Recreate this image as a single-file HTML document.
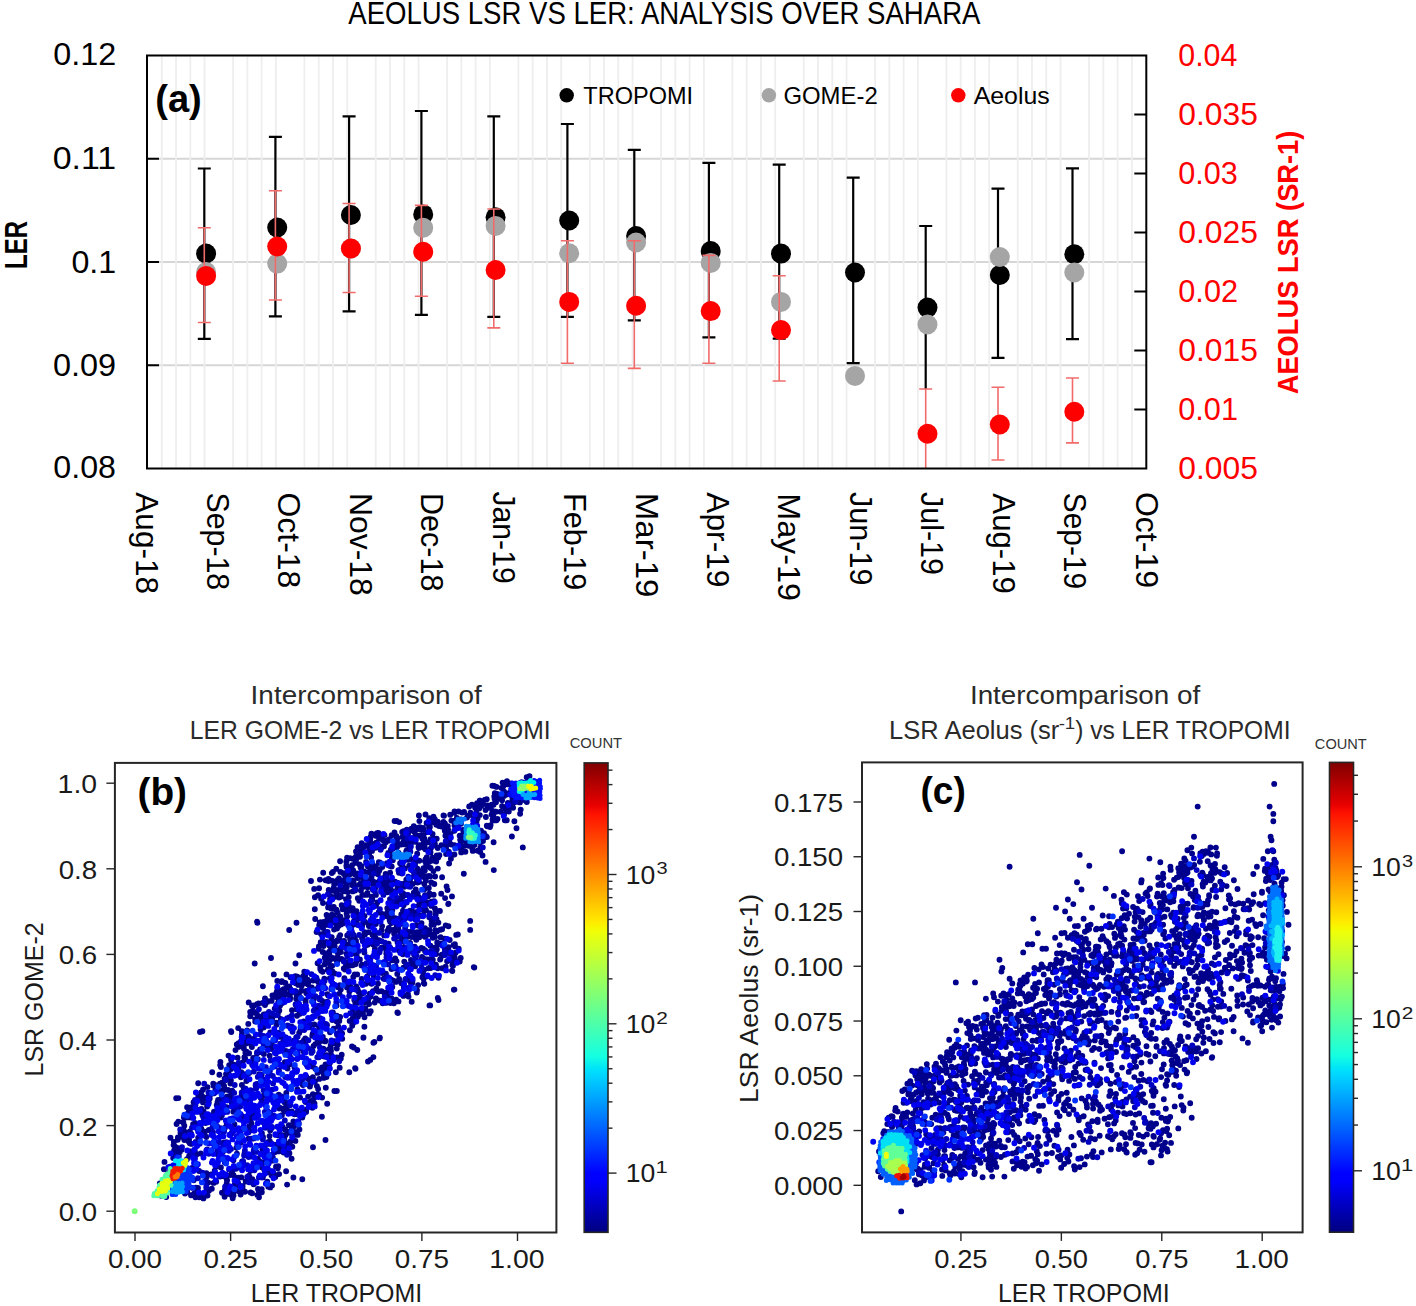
<!DOCTYPE html>
<html><head><meta charset="utf-8"><style>
html,body{margin:0;padding:0;background:#fff;}
svg{display:block;font-family:"Liberation Sans",sans-serif;}
</style></head><body>
<svg width="1416" height="1306" viewBox="0 0 1416 1306" xml:space="preserve" style="white-space:pre">
<defs><linearGradient id="jetg" x1="0" y1="0" x2="0" y2="1"><stop offset="0.000" stop-color="#800000"/><stop offset="0.090" stop-color="#E80000"/><stop offset="0.110" stop-color="#FF1300"/><stop offset="0.340" stop-color="#FFEC00"/><stop offset="0.350" stop-color="#F7F600"/><stop offset="0.360" stop-color="#EFFF08"/><stop offset="0.500" stop-color="#7BFF7B"/><stop offset="0.625" stop-color="#15FFE2"/><stop offset="0.650" stop-color="#00E5F7"/><stop offset="0.660" stop-color="#00DBFF"/><stop offset="0.875" stop-color="#0000FF"/><stop offset="0.890" stop-color="#0000FF"/><stop offset="1.000" stop-color="#000080"/></linearGradient><clipPath id="clipA"><rect x="147.0" y="55.5" width="999.3" height="413.0"/></clipPath></defs>
<rect width="1416" height="1306" fill="#fff"/>
<line x1="147.0" y1="158.75" x2="1146.3" y2="158.75" stroke="#D6D6D6" stroke-width="2"/>
<line x1="147.0" y1="262.00" x2="1146.3" y2="262.00" stroke="#D6D6D6" stroke-width="2"/>
<line x1="147.0" y1="365.25" x2="1146.3" y2="365.25" stroke="#D6D6D6" stroke-width="2"/>
<line x1="161.77" y1="56.5" x2="161.77" y2="467.5" stroke="#EEEEEE" stroke-width="1.8"/>
<line x1="176.03" y1="56.5" x2="176.03" y2="467.5" stroke="#EEEEEE" stroke-width="1.8"/>
<line x1="190.30" y1="56.5" x2="190.30" y2="467.5" stroke="#EEEEEE" stroke-width="1.8"/>
<line x1="204.56" y1="56.5" x2="204.56" y2="467.5" stroke="#EEEEEE" stroke-width="1.8"/>
<line x1="233.10" y1="56.5" x2="233.10" y2="467.5" stroke="#EEEEEE" stroke-width="1.8"/>
<line x1="247.36" y1="56.5" x2="247.36" y2="467.5" stroke="#EEEEEE" stroke-width="1.8"/>
<line x1="261.63" y1="56.5" x2="261.63" y2="467.5" stroke="#EEEEEE" stroke-width="1.8"/>
<line x1="275.89" y1="56.5" x2="275.89" y2="467.5" stroke="#EEEEEE" stroke-width="1.8"/>
<line x1="304.43" y1="56.5" x2="304.43" y2="467.5" stroke="#EEEEEE" stroke-width="1.8"/>
<line x1="318.69" y1="56.5" x2="318.69" y2="467.5" stroke="#EEEEEE" stroke-width="1.8"/>
<line x1="332.96" y1="56.5" x2="332.96" y2="467.5" stroke="#EEEEEE" stroke-width="1.8"/>
<line x1="347.22" y1="56.5" x2="347.22" y2="467.5" stroke="#EEEEEE" stroke-width="1.8"/>
<line x1="375.76" y1="56.5" x2="375.76" y2="467.5" stroke="#EEEEEE" stroke-width="1.8"/>
<line x1="390.02" y1="56.5" x2="390.02" y2="467.5" stroke="#EEEEEE" stroke-width="1.8"/>
<line x1="404.29" y1="56.5" x2="404.29" y2="467.5" stroke="#EEEEEE" stroke-width="1.8"/>
<line x1="418.55" y1="56.5" x2="418.55" y2="467.5" stroke="#EEEEEE" stroke-width="1.8"/>
<line x1="447.09" y1="56.5" x2="447.09" y2="467.5" stroke="#EEEEEE" stroke-width="1.8"/>
<line x1="461.35" y1="56.5" x2="461.35" y2="467.5" stroke="#EEEEEE" stroke-width="1.8"/>
<line x1="475.62" y1="56.5" x2="475.62" y2="467.5" stroke="#EEEEEE" stroke-width="1.8"/>
<line x1="489.88" y1="56.5" x2="489.88" y2="467.5" stroke="#EEEEEE" stroke-width="1.8"/>
<line x1="518.42" y1="56.5" x2="518.42" y2="467.5" stroke="#EEEEEE" stroke-width="1.8"/>
<line x1="532.68" y1="56.5" x2="532.68" y2="467.5" stroke="#EEEEEE" stroke-width="1.8"/>
<line x1="546.95" y1="56.5" x2="546.95" y2="467.5" stroke="#EEEEEE" stroke-width="1.8"/>
<line x1="561.21" y1="56.5" x2="561.21" y2="467.5" stroke="#EEEEEE" stroke-width="1.8"/>
<line x1="589.75" y1="56.5" x2="589.75" y2="467.5" stroke="#EEEEEE" stroke-width="1.8"/>
<line x1="604.01" y1="56.5" x2="604.01" y2="467.5" stroke="#EEEEEE" stroke-width="1.8"/>
<line x1="618.28" y1="56.5" x2="618.28" y2="467.5" stroke="#EEEEEE" stroke-width="1.8"/>
<line x1="632.54" y1="56.5" x2="632.54" y2="467.5" stroke="#EEEEEE" stroke-width="1.8"/>
<line x1="661.08" y1="56.5" x2="661.08" y2="467.5" stroke="#EEEEEE" stroke-width="1.8"/>
<line x1="675.34" y1="56.5" x2="675.34" y2="467.5" stroke="#EEEEEE" stroke-width="1.8"/>
<line x1="689.61" y1="56.5" x2="689.61" y2="467.5" stroke="#EEEEEE" stroke-width="1.8"/>
<line x1="703.87" y1="56.5" x2="703.87" y2="467.5" stroke="#EEEEEE" stroke-width="1.8"/>
<line x1="732.41" y1="56.5" x2="732.41" y2="467.5" stroke="#EEEEEE" stroke-width="1.8"/>
<line x1="746.67" y1="56.5" x2="746.67" y2="467.5" stroke="#EEEEEE" stroke-width="1.8"/>
<line x1="760.94" y1="56.5" x2="760.94" y2="467.5" stroke="#EEEEEE" stroke-width="1.8"/>
<line x1="775.20" y1="56.5" x2="775.20" y2="467.5" stroke="#EEEEEE" stroke-width="1.8"/>
<line x1="803.74" y1="56.5" x2="803.74" y2="467.5" stroke="#EEEEEE" stroke-width="1.8"/>
<line x1="818.00" y1="56.5" x2="818.00" y2="467.5" stroke="#EEEEEE" stroke-width="1.8"/>
<line x1="832.27" y1="56.5" x2="832.27" y2="467.5" stroke="#EEEEEE" stroke-width="1.8"/>
<line x1="846.53" y1="56.5" x2="846.53" y2="467.5" stroke="#EEEEEE" stroke-width="1.8"/>
<line x1="875.07" y1="56.5" x2="875.07" y2="467.5" stroke="#EEEEEE" stroke-width="1.8"/>
<line x1="889.33" y1="56.5" x2="889.33" y2="467.5" stroke="#EEEEEE" stroke-width="1.8"/>
<line x1="903.60" y1="56.5" x2="903.60" y2="467.5" stroke="#EEEEEE" stroke-width="1.8"/>
<line x1="917.86" y1="56.5" x2="917.86" y2="467.5" stroke="#EEEEEE" stroke-width="1.8"/>
<line x1="946.40" y1="56.5" x2="946.40" y2="467.5" stroke="#EEEEEE" stroke-width="1.8"/>
<line x1="960.66" y1="56.5" x2="960.66" y2="467.5" stroke="#EEEEEE" stroke-width="1.8"/>
<line x1="974.93" y1="56.5" x2="974.93" y2="467.5" stroke="#EEEEEE" stroke-width="1.8"/>
<line x1="989.19" y1="56.5" x2="989.19" y2="467.5" stroke="#EEEEEE" stroke-width="1.8"/>
<line x1="1017.73" y1="56.5" x2="1017.73" y2="467.5" stroke="#EEEEEE" stroke-width="1.8"/>
<line x1="1031.99" y1="56.5" x2="1031.99" y2="467.5" stroke="#EEEEEE" stroke-width="1.8"/>
<line x1="1046.26" y1="56.5" x2="1046.26" y2="467.5" stroke="#EEEEEE" stroke-width="1.8"/>
<line x1="1060.52" y1="56.5" x2="1060.52" y2="467.5" stroke="#EEEEEE" stroke-width="1.8"/>
<line x1="1089.06" y1="56.5" x2="1089.06" y2="467.5" stroke="#EEEEEE" stroke-width="1.8"/>
<line x1="1103.32" y1="56.5" x2="1103.32" y2="467.5" stroke="#EEEEEE" stroke-width="1.8"/>
<line x1="1117.59" y1="56.5" x2="1117.59" y2="467.5" stroke="#EEEEEE" stroke-width="1.8"/>
<line x1="1131.85" y1="56.5" x2="1131.85" y2="467.5" stroke="#EEEEEE" stroke-width="1.8"/>
<line x1="147.0" y1="158.75" x2="159.0" y2="158.75" stroke="#000" stroke-width="2"/>
<line x1="147.0" y1="262.00" x2="159.0" y2="262.00" stroke="#000" stroke-width="2"/>
<line x1="147.0" y1="365.25" x2="159.0" y2="365.25" stroke="#000" stroke-width="2"/>
<line x1="1134.3" y1="114.50" x2="1146.3" y2="114.50" stroke="#000" stroke-width="2"/>
<line x1="1134.3" y1="173.50" x2="1146.3" y2="173.50" stroke="#000" stroke-width="2"/>
<line x1="1134.3" y1="232.50" x2="1146.3" y2="232.50" stroke="#000" stroke-width="2"/>
<line x1="1134.3" y1="291.50" x2="1146.3" y2="291.50" stroke="#000" stroke-width="2"/>
<line x1="1134.3" y1="350.50" x2="1146.3" y2="350.50" stroke="#000" stroke-width="2"/>
<line x1="1134.3" y1="409.50" x2="1146.3" y2="409.50" stroke="#000" stroke-width="2"/>
<g clip-path="url(#clipA)">
<line x1="204.3" y1="168.5" x2="204.3" y2="338.9" stroke="#000" stroke-width="2.2"/>
<line x1="197.8" y1="168.5" x2="210.8" y2="168.5" stroke="#000" stroke-width="2.2"/>
<line x1="197.8" y1="338.9" x2="210.8" y2="338.9" stroke="#000" stroke-width="2.2"/>
<line x1="275.4" y1="136.8" x2="275.4" y2="316.4" stroke="#000" stroke-width="2.2"/>
<line x1="268.9" y1="136.8" x2="281.9" y2="136.8" stroke="#000" stroke-width="2.2"/>
<line x1="268.9" y1="316.4" x2="281.9" y2="316.4" stroke="#000" stroke-width="2.2"/>
<line x1="349.1" y1="116.4" x2="349.1" y2="311.4" stroke="#000" stroke-width="2.2"/>
<line x1="342.6" y1="116.4" x2="355.6" y2="116.4" stroke="#000" stroke-width="2.2"/>
<line x1="342.6" y1="311.4" x2="355.6" y2="311.4" stroke="#000" stroke-width="2.2"/>
<line x1="421.4" y1="111.0" x2="421.4" y2="314.9" stroke="#000" stroke-width="2.2"/>
<line x1="414.9" y1="111.0" x2="427.9" y2="111.0" stroke="#000" stroke-width="2.2"/>
<line x1="414.9" y1="314.9" x2="427.9" y2="314.9" stroke="#000" stroke-width="2.2"/>
<line x1="493.8" y1="116.4" x2="493.8" y2="316.8" stroke="#000" stroke-width="2.2"/>
<line x1="487.3" y1="116.4" x2="500.3" y2="116.4" stroke="#000" stroke-width="2.2"/>
<line x1="487.3" y1="316.8" x2="500.3" y2="316.8" stroke="#000" stroke-width="2.2"/>
<line x1="567.4" y1="124.0" x2="567.4" y2="316.9" stroke="#000" stroke-width="2.2"/>
<line x1="560.9" y1="124.0" x2="573.9" y2="124.0" stroke="#000" stroke-width="2.2"/>
<line x1="560.9" y1="316.9" x2="573.9" y2="316.9" stroke="#000" stroke-width="2.2"/>
<line x1="634.3" y1="149.9" x2="634.3" y2="320.4" stroke="#000" stroke-width="2.2"/>
<line x1="627.8" y1="149.9" x2="640.8" y2="149.9" stroke="#000" stroke-width="2.2"/>
<line x1="627.8" y1="320.4" x2="640.8" y2="320.4" stroke="#000" stroke-width="2.2"/>
<line x1="708.9" y1="162.8" x2="708.9" y2="337.3" stroke="#000" stroke-width="2.2"/>
<line x1="702.4" y1="162.8" x2="715.4" y2="162.8" stroke="#000" stroke-width="2.2"/>
<line x1="702.4" y1="337.3" x2="715.4" y2="337.3" stroke="#000" stroke-width="2.2"/>
<line x1="779.2" y1="164.7" x2="779.2" y2="338.6" stroke="#000" stroke-width="2.2"/>
<line x1="772.7" y1="164.7" x2="785.7" y2="164.7" stroke="#000" stroke-width="2.2"/>
<line x1="772.7" y1="338.6" x2="785.7" y2="338.6" stroke="#000" stroke-width="2.2"/>
<line x1="853.2" y1="177.7" x2="853.2" y2="363.1" stroke="#000" stroke-width="2.2"/>
<line x1="846.7" y1="177.7" x2="859.7" y2="177.7" stroke="#000" stroke-width="2.2"/>
<line x1="846.7" y1="363.1" x2="859.7" y2="363.1" stroke="#000" stroke-width="2.2"/>
<line x1="925.7" y1="226.0" x2="925.7" y2="389.0" stroke="#000" stroke-width="2.2"/>
<line x1="919.2" y1="226.0" x2="932.2" y2="226.0" stroke="#000" stroke-width="2.2"/>
<line x1="998.0" y1="188.7" x2="998.0" y2="357.8" stroke="#000" stroke-width="2.2"/>
<line x1="991.5" y1="188.7" x2="1004.5" y2="188.7" stroke="#000" stroke-width="2.2"/>
<line x1="991.5" y1="357.8" x2="1004.5" y2="357.8" stroke="#000" stroke-width="2.2"/>
<line x1="1072.5" y1="168.4" x2="1072.5" y2="339.2" stroke="#000" stroke-width="2.2"/>
<line x1="1066.0" y1="168.4" x2="1079.0" y2="168.4" stroke="#000" stroke-width="2.2"/>
<line x1="1066.0" y1="339.2" x2="1079.0" y2="339.2" stroke="#000" stroke-width="2.2"/>
<circle cx="206.10000000000002" cy="253.5" r="10.0" fill="#000"/>
<circle cx="277.2" cy="227.5" r="10.0" fill="#000"/>
<circle cx="350.90000000000003" cy="215.0" r="10.0" fill="#000"/>
<circle cx="423.2" cy="214.4" r="10.0" fill="#000"/>
<circle cx="495.6" cy="217.3" r="10.0" fill="#000"/>
<circle cx="569.1999999999999" cy="220.5" r="10.0" fill="#000"/>
<circle cx="636.0999999999999" cy="236.1" r="10.0" fill="#000"/>
<circle cx="710.6999999999999" cy="251.1" r="10.0" fill="#000"/>
<circle cx="781.0" cy="253.6" r="10.0" fill="#000"/>
<circle cx="855.0" cy="272.5" r="10.0" fill="#000"/>
<circle cx="927.5" cy="307.6" r="10.0" fill="#000"/>
<circle cx="999.8" cy="275.0" r="10.0" fill="#000"/>
<circle cx="1074.3" cy="254.2" r="10.0" fill="#000"/>
<circle cx="206.10000000000002" cy="272.0" r="10.0" fill="#A5A5A5"/>
<circle cx="277.2" cy="263.6" r="10.0" fill="#A5A5A5"/>
<circle cx="350.90000000000003" cy="248.5" r="10.0" fill="#A5A5A5"/>
<circle cx="423.2" cy="227.8" r="10.0" fill="#A5A5A5"/>
<circle cx="495.6" cy="225.9" r="10.0" fill="#A5A5A5"/>
<circle cx="569.1999999999999" cy="253.3" r="10.0" fill="#A5A5A5"/>
<circle cx="636.0999999999999" cy="242.5" r="10.0" fill="#A5A5A5"/>
<circle cx="710.6999999999999" cy="262.9" r="10.0" fill="#A5A5A5"/>
<circle cx="781.0" cy="301.9" r="10.0" fill="#A5A5A5"/>
<circle cx="855.0" cy="375.9" r="10.0" fill="#A5A5A5"/>
<circle cx="927.5" cy="324.5" r="10.0" fill="#A5A5A5"/>
<circle cx="999.8" cy="257.1" r="10.0" fill="#A5A5A5"/>
<circle cx="1074.3" cy="272.5" r="10.0" fill="#A5A5A5"/>
<line x1="204.3" y1="227.8" x2="204.3" y2="322.5" stroke="#F26B6B" stroke-width="1.6"/>
<line x1="197.8" y1="227.8" x2="210.8" y2="227.8" stroke="#F26B6B" stroke-width="1.6"/>
<line x1="197.8" y1="322.5" x2="210.8" y2="322.5" stroke="#F26B6B" stroke-width="1.6"/>
<line x1="275.4" y1="190.8" x2="275.4" y2="300.0" stroke="#F26B6B" stroke-width="1.6"/>
<line x1="268.9" y1="190.8" x2="281.9" y2="190.8" stroke="#F26B6B" stroke-width="1.6"/>
<line x1="268.9" y1="300.0" x2="281.9" y2="300.0" stroke="#F26B6B" stroke-width="1.6"/>
<line x1="349.1" y1="203.5" x2="349.1" y2="292.5" stroke="#F26B6B" stroke-width="1.6"/>
<line x1="342.6" y1="203.5" x2="355.6" y2="203.5" stroke="#F26B6B" stroke-width="1.6"/>
<line x1="342.6" y1="292.5" x2="355.6" y2="292.5" stroke="#F26B6B" stroke-width="1.6"/>
<line x1="421.4" y1="205.4" x2="421.4" y2="296.3" stroke="#F26B6B" stroke-width="1.6"/>
<line x1="414.9" y1="205.4" x2="427.9" y2="205.4" stroke="#F26B6B" stroke-width="1.6"/>
<line x1="414.9" y1="296.3" x2="427.9" y2="296.3" stroke="#F26B6B" stroke-width="1.6"/>
<line x1="493.8" y1="209.0" x2="493.8" y2="327.9" stroke="#F26B6B" stroke-width="1.6"/>
<line x1="487.3" y1="209.0" x2="500.3" y2="209.0" stroke="#F26B6B" stroke-width="1.6"/>
<line x1="487.3" y1="327.9" x2="500.3" y2="327.9" stroke="#F26B6B" stroke-width="1.6"/>
<line x1="567.4" y1="240.8" x2="567.4" y2="363.2" stroke="#F26B6B" stroke-width="1.6"/>
<line x1="560.9" y1="240.8" x2="573.9" y2="240.8" stroke="#F26B6B" stroke-width="1.6"/>
<line x1="560.9" y1="363.2" x2="573.9" y2="363.2" stroke="#F26B6B" stroke-width="1.6"/>
<line x1="634.3" y1="240.8" x2="634.3" y2="368.4" stroke="#F26B6B" stroke-width="1.6"/>
<line x1="627.8" y1="240.8" x2="640.8" y2="240.8" stroke="#F26B6B" stroke-width="1.6"/>
<line x1="627.8" y1="368.4" x2="640.8" y2="368.4" stroke="#F26B6B" stroke-width="1.6"/>
<line x1="708.9" y1="255.4" x2="708.9" y2="363.2" stroke="#F26B6B" stroke-width="1.6"/>
<line x1="702.4" y1="255.4" x2="715.4" y2="255.4" stroke="#F26B6B" stroke-width="1.6"/>
<line x1="702.4" y1="363.2" x2="715.4" y2="363.2" stroke="#F26B6B" stroke-width="1.6"/>
<line x1="779.2" y1="275.7" x2="779.2" y2="381.0" stroke="#F26B6B" stroke-width="1.6"/>
<line x1="772.7" y1="275.7" x2="785.7" y2="275.7" stroke="#F26B6B" stroke-width="1.6"/>
<line x1="772.7" y1="381.0" x2="785.7" y2="381.0" stroke="#F26B6B" stroke-width="1.6"/>
<line x1="925.7" y1="389.0" x2="925.7" y2="480.0" stroke="#F26B6B" stroke-width="1.6"/>
<line x1="919.2" y1="389.0" x2="932.2" y2="389.0" stroke="#F26B6B" stroke-width="1.6"/>
<line x1="919.2" y1="480.0" x2="932.2" y2="480.0" stroke="#F26B6B" stroke-width="1.6"/>
<line x1="998.0" y1="387.3" x2="998.0" y2="460.0" stroke="#F26B6B" stroke-width="1.6"/>
<line x1="991.5" y1="387.3" x2="1004.5" y2="387.3" stroke="#F26B6B" stroke-width="1.6"/>
<line x1="991.5" y1="460.0" x2="1004.5" y2="460.0" stroke="#F26B6B" stroke-width="1.6"/>
<line x1="1072.5" y1="378.0" x2="1072.5" y2="442.9" stroke="#F26B6B" stroke-width="1.6"/>
<line x1="1066.0" y1="378.0" x2="1079.0" y2="378.0" stroke="#F26B6B" stroke-width="1.6"/>
<line x1="1066.0" y1="442.9" x2="1079.0" y2="442.9" stroke="#F26B6B" stroke-width="1.6"/>
<circle cx="206.10000000000002" cy="275.9" r="10.0" fill="#FF0000"/>
<circle cx="277.2" cy="246.5" r="10.0" fill="#FF0000"/>
<circle cx="350.90000000000003" cy="248.5" r="10.0" fill="#FF0000"/>
<circle cx="423.2" cy="251.7" r="10.0" fill="#FF0000"/>
<circle cx="495.6" cy="270.0" r="10.0" fill="#FF0000"/>
<circle cx="569.1999999999999" cy="301.9" r="10.0" fill="#FF0000"/>
<circle cx="636.0999999999999" cy="305.8" r="10.0" fill="#FF0000"/>
<circle cx="710.6999999999999" cy="311.1" r="10.0" fill="#FF0000"/>
<circle cx="781.0" cy="330.1" r="10.0" fill="#FF0000"/>
<circle cx="927.5" cy="433.8" r="10.0" fill="#FF0000"/>
<circle cx="999.8" cy="424.5" r="10.0" fill="#FF0000"/>
<circle cx="1074.3" cy="411.8" r="10.0" fill="#FF0000"/>
</g>
<rect x="147.0" y="55.5" width="999.3" height="413.0" fill="none" stroke="#000" stroke-width="2"/>
<circle cx="566.7" cy="95.3" r="7.2" fill="#000"/>
<circle cx="768.9" cy="95.3" r="7.2" fill="#A5A5A5"/>
<circle cx="958.3" cy="95.3" r="7.2" fill="#FF0000"/>
<text x="583.37" y="104.20" font-size="23.20" fill="#000" textLength="109.70" lengthAdjust="spacingAndGlyphs">TROPOMI</text>
<text x="783.40" y="104.20" font-size="23.20" fill="#000" textLength="94.30" lengthAdjust="spacingAndGlyphs">GOME-2</text>
<text x="973.65" y="104.20" font-size="23.20" fill="#000" textLength="76.05" lengthAdjust="spacingAndGlyphs">Aeolus</text>
<text x="155.20" y="112.00" font-size="38.50" font-weight="bold" fill="#000" textLength="46.60" lengthAdjust="spacingAndGlyphs">(a)</text>
<text x="348.25" y="24.40" font-size="31.80" fill="#000" textLength="632.21" lengthAdjust="spacingAndGlyphs">AEOLUS LSR VS LER: ANALYSIS OVER SAHARA</text>
<text x="53.34" y="65.00" font-size="31.30" fill="#000" textLength="62.89" lengthAdjust="spacingAndGlyphs">0.12</text>
<text x="52.73" y="169.10" font-size="31.30" fill="#000" textLength="63.47" lengthAdjust="spacingAndGlyphs">0.11</text>
<text x="71.44" y="273.00" font-size="31.30" fill="#000" textLength="44.73" lengthAdjust="spacingAndGlyphs">0.1</text>
<text x="53.03" y="375.50" font-size="31.30" fill="#000" textLength="63.10" lengthAdjust="spacingAndGlyphs">0.09</text>
<text x="53.34" y="478.40" font-size="31.30" fill="#000" textLength="62.66" lengthAdjust="spacingAndGlyphs">0.08</text>
<text x="1178.31" y="66.30" font-size="31.30" fill="#FF0000" textLength="59.07" lengthAdjust="spacingAndGlyphs">0.04</text>
<text x="1178.26" y="125.30" font-size="31.30" fill="#FF0000" textLength="79.58" lengthAdjust="spacingAndGlyphs">0.035</text>
<text x="1178.31" y="184.30" font-size="31.30" fill="#FF0000" textLength="59.54" lengthAdjust="spacingAndGlyphs">0.03</text>
<text x="1178.26" y="243.30" font-size="31.30" fill="#FF0000" textLength="79.58" lengthAdjust="spacingAndGlyphs">0.025</text>
<text x="1178.30" y="302.30" font-size="31.30" fill="#FF0000" textLength="59.74" lengthAdjust="spacingAndGlyphs">0.02</text>
<text x="1178.26" y="361.30" font-size="31.30" fill="#FF0000" textLength="79.58" lengthAdjust="spacingAndGlyphs">0.015</text>
<text x="1178.30" y="420.30" font-size="31.30" fill="#FF0000" textLength="59.70" lengthAdjust="spacingAndGlyphs">0.01</text>
<text x="1178.26" y="479.30" font-size="31.30" fill="#FF0000" textLength="79.58" lengthAdjust="spacingAndGlyphs">0.005</text>
<text transform="translate(27.20,267.30) rotate(-90)" x="-1.61" y="0" font-size="30.50" font-weight="bold" fill="#000" textLength="48.00" lengthAdjust="spacingAndGlyphs">LER</text>
<text transform="translate(1297.50,393.60) rotate(-90)" x="-0.68" y="0" font-size="30.00" font-weight="bold" fill="#FF0000" textLength="263.64" lengthAdjust="spacingAndGlyphs">AEOLUS LSR (SR-1)</text>
<text transform="translate(135.53,492.40) rotate(90)" x="-0.06" y="0" font-size="31.50" fill="#000" textLength="101.63" lengthAdjust="spacingAndGlyphs">Aug-18</text>
<text transform="translate(206.97,493.80) rotate(90)" x="-1.38" y="0" font-size="31.50" fill="#000" textLength="97.80" lengthAdjust="spacingAndGlyphs">Sep-18</text>
<text transform="translate(278.41,494.10) rotate(90)" x="-1.51" y="0" font-size="31.50" fill="#000" textLength="95.59" lengthAdjust="spacingAndGlyphs">Oct-18</text>
<text transform="translate(349.85,495.50) rotate(90)" x="-2.62" y="0" font-size="31.50" fill="#000" textLength="102.91" lengthAdjust="spacingAndGlyphs">Nov-18</text>
<text transform="translate(421.29,495.50) rotate(90)" x="-2.51" y="0" font-size="31.50" fill="#000" textLength="98.54" lengthAdjust="spacingAndGlyphs">Dec-18</text>
<text transform="translate(492.73,491.90) rotate(90)" x="-0.47" y="0" font-size="31.50" fill="#000" textLength="92.30" lengthAdjust="spacingAndGlyphs">Jan-19</text>
<text transform="translate(564.17,495.50) rotate(90)" x="-2.52" y="0" font-size="31.50" fill="#000" textLength="97.27" lengthAdjust="spacingAndGlyphs">Feb-19</text>
<text transform="translate(635.61,495.50) rotate(90)" x="-2.71" y="0" font-size="31.50" fill="#000" textLength="104.57" lengthAdjust="spacingAndGlyphs">Mar-19</text>
<text transform="translate(707.05,492.40) rotate(90)" x="-0.06" y="0" font-size="31.50" fill="#000" textLength="95.06" lengthAdjust="spacingAndGlyphs">Apr-19</text>
<text transform="translate(778.49,495.90) rotate(90)" x="-2.65" y="0" font-size="31.50" fill="#000" textLength="107.68" lengthAdjust="spacingAndGlyphs">May-19</text>
<text transform="translate(849.93,492.40) rotate(90)" x="-0.48" y="0" font-size="31.50" fill="#000" textLength="93.73" lengthAdjust="spacingAndGlyphs">Jun-19</text>
<text transform="translate(921.37,492.40) rotate(90)" x="-0.48" y="0" font-size="31.50" fill="#000" textLength="83.12" lengthAdjust="spacingAndGlyphs">Jul-19</text>
<text transform="translate(992.81,493.40) rotate(90)" x="-0.06" y="0" font-size="31.50" fill="#000" textLength="100.44" lengthAdjust="spacingAndGlyphs">Aug-19</text>
<text transform="translate(1064.25,494.10) rotate(90)" x="-1.36" y="0" font-size="31.50" fill="#000" textLength="96.37" lengthAdjust="spacingAndGlyphs">Sep-19</text>
<text transform="translate(1135.69,493.40) rotate(90)" x="-1.52" y="0" font-size="31.50" fill="#000" textLength="96.24" lengthAdjust="spacingAndGlyphs">Oct-19</text>
<path d="M232.9 1191.7h0M245.0 1091.8h0M464.4 851.6h0M351.1 872.6h0M291.8 1026.6h0M486.6 836.8h0M178.3 1121.6h0M415.1 966.4h0M402.8 954.2h0M373.4 846.3h0M294.5 1114.3h0M272.4 995.5h0M281.4 995.1h0M419.9 871.3h0M521.8 782.3h0M506.8 820.2h0M444.0 815.7h0M377.9 983.7h0M169.0 1186.6h0M417.0 990.3h0M387.3 908.2h0M354.5 1014.5h0M472.1 828.4h0M390.2 947.8h0M270.7 1171.3h0M187.0 1183.0h0M221.5 1113.3h0M411.3 830.6h0M241.9 1034.8h0M448.1 829.6h0M377.3 902.4h0M457.8 934.5h0M352.7 891.4h0M216.2 1181.8h0M435.3 953.6h0M312.3 1035.7h0M362.3 877.4h0M364.6 932.1h0M435.4 930.3h0M477.7 850.8h0M178.5 1168.0h0M218.7 1106.5h0M229.6 1096.0h0M334.1 929.6h0M326.6 914.9h0M301.8 1081.8h0M338.6 950.8h0M356.0 940.9h0M351.6 954.1h0M463.7 835.2h0M187.2 1115.7h0M347.6 891.9h0M343.9 873.8h0M330.7 965.9h0M441.2 893.7h0M375.8 924.1h0M310.4 1084.7h0M423.4 974.1h0M414.2 875.7h0M366.1 862.0h0M434.9 908.5h0M325.8 922.0h0M429.6 861.5h0M394.1 933.6h0M475.1 807.4h0M278.9 1127.6h0M368.6 932.1h0M412.2 911.3h0M379.1 871.1h0M323.5 946.1h0M170.9 1177.0h0M268.7 1075.6h0M312.5 1066.6h0M322.6 971.7h0M403.5 916.5h0M259.0 1197.2h0M340.1 861.2h0M319.5 999.2h0M340.6 940.7h0M321.1 898.7h0M402.0 873.5h0M196.4 1110.1h0M533.4 788.1h0M392.8 860.3h0M413.7 826.6h0M385.9 973.7h0M187.7 1116.3h0M269.6 1055.8h0M389.0 1001.2h0M194.9 1123.0h0M265.0 1005.0h0M323.6 1069.1h0M418.6 905.7h0M241.2 1041.3h0M199.1 1197.3h0M193.9 1106.8h0M450.2 814.7h0M224.5 1089.4h0M331.0 908.5h0M494.0 819.5h0M494.8 793.2h0M332.6 1057.2h0M377.4 954.3h0M273.0 996.7h0M374.0 938.3h0M381.4 991.1h0M221.8 1115.5h0M440.3 959.2h0M251.2 1180.8h0M292.9 1132.9h0M362.0 937.9h0M421.2 935.8h0M332.6 881.0h0M339.7 1067.7h0M445.2 968.5h0M285.3 983.0h0M470.7 845.3h0M326.9 962.6h0M257.1 1083.9h0M245.4 1052.7h0M335.0 973.6h0M193.6 1102.2h0M390.5 1003.0h0M373.0 991.3h0M417.9 950.8h0M308.7 1079.2h0M325.8 1087.8h0M298.5 1122.3h0M317.6 1041.8h0M448.6 833.9h0M371.3 965.4h0M415.1 862.9h0M234.9 1184.1h0M265.0 998.4h0M451.4 820.6h0M244.4 1057.2h0M381.7 947.6h0M386.3 953.6h0M223.6 1176.3h0M318.6 948.7h0M430.0 894.7h0M241.0 1041.2h0M182.0 1163.9h0M204.6 1133.1h0M276.9 1061.1h0M393.1 891.3h0M402.4 993.6h0M352.7 908.2h0M193.7 1180.3h0M325.6 880.3h0M347.1 857.8h0M346.7 875.8h0M395.5 966.4h0M376.0 905.8h0M226.7 1096.8h0M426.0 863.3h0M220.3 1100.5h0M360.9 890.5h0M244.1 1097.6h0M434.7 845.4h0M163.2 1187.4h0M362.1 851.7h0M295.7 1004.7h0M395.2 930.5h0M533.6 790.9h0M353.7 882.8h0M222.8 1091.0h0M379.0 838.1h0M412.2 951.7h0M330.1 968.0h0M176.2 1166.3h0M382.7 878.2h0M185.3 1162.0h0M370.3 838.9h0M349.4 991.5h0M187.6 1113.6h0M370.9 883.4h0M439.4 855.2h0M434.3 884.0h0M476.5 821.7h0M189.5 1169.5h0M382.7 1003.2h0M328.6 961.2h0M503.4 786.3h0M382.3 881.7h0M219.9 1083.8h0M288.7 1132.7h0M365.4 945.7h0M451.2 844.5h0M259.3 1074.1h0M307.5 993.2h0M339.0 878.5h0M264.6 1162.6h0M336.8 923.7h0M344.4 978.2h0M402.2 921.3h0M341.7 905.2h0M367.8 880.8h0M271.6 1014.7h0M431.5 905.9h0M504.2 791.6h0M385.0 889.8h0M409.2 865.6h0M191.3 1143.9h0M434.2 935.7h0M537.8 792.1h0M328.7 889.9h0M391.7 866.5h0M421.5 923.2h0M432.7 947.8h0M239.8 1131.8h0M320.6 922.1h0M281.3 1134.9h0M406.3 949.9h0M429.9 827.1h0M248.8 1096.1h0M412.6 883.9h0M409.5 978.3h0M392.8 848.8h0M445.1 898.1h0M247.6 1039.2h0M272.4 1017.9h0M340.2 889.4h0M417.7 882.6h0M297.7 1001.3h0M417.4 868.8h0M281.9 1115.3h0M328.5 957.6h0M370.6 958.0h0M317.5 988.8h0M195.7 1142.0h0M231.3 1174.9h0M322.0 1067.4h0M410.1 942.9h0M425.6 859.1h0M341.5 958.9h0M418.5 877.9h0M301.3 990.7h0M348.7 897.1h0M466.4 838.8h0M265.6 1045.2h0M277.7 1168.2h0M315.5 977.5h0M184.3 1125.8h0M517.9 796.3h0M200.7 1135.3h0M366.9 894.7h0M278.8 1146.1h0M245.7 1181.5h0M340.4 916.7h0M416.8 925.3h0M236.6 1065.1h0M444.9 938.6h0M255.9 1166.2h0M383.7 978.7h0M283.3 1109.6h0M290.3 989.0h0M410.8 859.1h0M359.2 900.8h0M337.2 940.4h0M330.0 970.8h0M253.6 1184.2h0M451.4 960.5h0M297.8 1134.9h0M276.6 1097.5h0M402.6 865.8h0M429.5 930.0h0M252.1 1005.8h0M352.3 1018.8h0M249.1 1179.7h0M260.8 1121.4h0M311.5 993.3h0M324.3 924.6h0M380.1 880.4h0M344.6 979.9h0M336.6 1005.5h0M343.8 968.4h0M254.7 1182.0h0M183.0 1122.3h0M421.6 835.8h0M466.1 841.9h0M393.9 1003.2h0M282.7 1127.0h0M495.1 800.2h0M372.3 864.6h0M516.0 801.9h0M327.9 1057.5h0M261.4 1024.7h0M481.5 834.5h0M287.9 1143.7h0M423.8 983.1h0M283.6 989.2h0M280.3 994.5h0M262.4 1023.4h0M358.0 918.5h0M388.3 852.9h0M357.8 898.3h0M317.6 1072.9h0M512.3 804.4h0M277.3 981.0h0M235.5 1050.1h0M276.3 1022.7h0M332.7 983.4h0M313.5 999.5h0M421.4 948.0h0M331.7 937.1h0M243.1 1045.6h0M336.5 1016.4h0M379.8 862.5h0M200.5 1112.1h0M443.5 815.4h0M200.2 1099.6h0M322.7 1006.8h0M207.1 1149.5h0M332.9 871.9h0M526.8 802.0h0M297.4 1089.4h0M230.8 1095.6h0M278.2 1166.3h0M178.8 1156.3h0M297.0 1015.8h0M383.6 1002.9h0M387.6 996.7h0M286.5 988.1h0M336.8 918.5h0M268.7 1171.9h0M349.0 906.5h0M226.7 1183.3h0M369.1 971.7h0M268.9 1001.1h0M492.4 811.0h0M315.2 919.0h0M214.2 1093.3h0M221.7 1090.8h0M251.1 1044.6h0M184.2 1188.2h0M300.1 1097.6h0M225.7 1186.8h0M282.3 1097.5h0M395.1 881.8h0M336.8 1057.5h0M422.3 838.4h0M357.5 989.0h0M343.7 880.6h0M177.1 1154.4h0M396.7 821.0h0M270.7 1144.1h0M441.4 845.1h0M279.5 1129.4h0M409.9 850.5h0M480.2 842.4h0M440.1 959.6h0M199.1 1171.0h0M176.9 1182.9h0M360.0 856.7h0M206.5 1098.2h0M386.9 863.3h0M161.2 1195.4h0M325.0 934.1h0M300.7 980.6h0M425.1 895.2h0M337.7 952.8h0M437.8 868.6h0M306.1 983.2h0M383.9 962.1h0M341.6 1034.0h0M526.0 790.7h0M404.2 985.3h0M357.4 878.1h0M421.3 970.2h0M428.0 842.2h0M412.2 838.3h0M170.5 1137.7h0M175.2 1154.8h0M358.7 855.0h0M470.5 812.6h0M236.8 1044.5h0M419.3 937.3h0M231.3 1174.8h0M237.3 1070.8h0M406.9 858.3h0M432.9 860.5h0M425.5 814.5h0M250.2 1016.3h0M324.1 1049.4h0M194.1 1102.3h0M419.7 899.7h0M330.8 1047.8h0M329.5 955.0h0M425.0 908.5h0M484.0 833.3h0M384.2 935.4h0M383.6 840.4h0M296.6 995.1h0M323.7 1077.9h0M206.3 1137.0h0M333.6 944.2h0M426.6 823.0h0M469.8 838.8h0M413.8 892.6h0M306.4 1064.6h0M444.9 949.0h0M403.5 967.6h0M301.6 986.0h0M257.1 1107.2h0M391.7 835.3h0M240.3 1164.9h0M248.0 1035.9h0M397.3 839.1h0M397.6 887.3h0M240.5 1115.5h0M424.3 877.2h0M247.1 1039.6h0M352.8 989.1h0M198.9 1109.9h0M394.8 922.0h0M248.9 1175.6h0M453.0 965.7h0M440.7 826.2h0M369.3 1013.4h0M350.3 986.7h0M471.6 845.4h0M327.4 919.3h0M331.5 1056.0h0M391.4 979.6h0M320.2 1018.1h0M323.4 1048.6h0M364.7 852.1h0M334.5 896.9h0M276.7 992.0h0M269.0 1141.7h0M189.8 1143.2h0M384.3 947.8h0M385.6 873.9h0M249.7 1177.3h0M328.4 879.0h0M355.2 1018.8h0M352.7 965.2h0M267.3 1046.0h0M434.8 936.9h0M423.5 835.7h0M412.1 931.2h0M312.9 1094.1h0M241.5 1095.6h0M422.4 977.2h0M408.1 859.7h0M330.1 899.1h0M402.5 969.1h0M370.3 959.3h0M340.8 989.6h0M338.0 987.3h0M389.8 916.7h0M351.1 910.8h0M322.9 1036.9h0M402.1 869.1h0M410.6 878.1h0M323.0 903.0h0M358.0 1001.9h0M295.8 983.2h0M430.6 868.0h0M417.2 853.8h0M304.3 971.8h0M390.2 921.7h0M369.2 855.0h0M220.4 1062.0h0M472.0 804.6h0M327.1 924.9h0M363.9 871.5h0M294.1 1126.2h0M306.3 1109.8h0M289.8 1056.1h0M454.2 820.7h0M176.5 1155.7h0M224.1 1085.9h0M378.4 991.5h0M386.3 950.5h0M359.9 995.8h0M421.3 930.3h0M335.6 928.7h0M293.4 1121.5h0M289.6 1064.2h0M432.7 857.8h0M357.0 873.5h0M514.4 821.3h0M340.8 952.0h0M321.0 924.9h0M237.6 1057.7h0M378.8 862.2h0M436.8 949.5h0M315.4 1008.5h0M321.8 941.7h0M427.3 866.2h0M323.5 985.5h0M342.7 909.3h0M461.0 819.5h0M302.9 1085.0h0M279.0 1070.7h0M298.2 982.3h0M355.8 922.1h0M509.4 792.9h0M437.4 945.1h0M163.0 1186.7h0M181.1 1174.4h0M362.1 926.0h0M467.0 817.5h0M514.5 792.7h0M210.4 1094.5h0M387.2 886.1h0M307.1 983.1h0M314.0 1104.3h0M415.2 837.1h0M448.1 949.3h0M225.0 1127.8h0M397.3 973.9h0M219.4 1074.7h0M264.3 1169.7h0M318.9 946.4h0M208.3 1182.6h0M502.6 782.6h0M213.6 1085.7h0M416.9 829.3h0M349.0 961.8h0M449.3 840.6h0M335.6 1020.1h0M314.9 897.2h0M456.3 827.8h0M338.3 1026.5h0M263.9 1095.2h0M282.3 1145.5h0M433.9 924.5h0M470.5 838.5h0M388.9 881.0h0M340.8 896.7h0M312.7 1033.6h0M449.7 940.0h0M289.9 995.8h0M375.6 921.6h0M465.4 851.7h0M418.0 899.6h0M432.3 846.0h0M511.0 783.4h0M291.7 1111.4h0M330.4 916.7h0M354.7 974.5h0M361.0 847.7h0M454.6 957.5h0M513.3 794.4h0M312.4 1107.8h0M340.1 1016.9h0M426.0 910.1h0M423.9 976.8h0M248.0 1053.0h0M337.6 960.4h0M368.1 866.8h0M390.0 866.1h0M251.9 1044.8h0M306.2 991.0h0M309.1 1084.9h0M487.2 826.2h0M182.4 1173.2h0M447.1 839.8h0M248.6 1131.0h0M358.7 997.0h0M332.3 1020.0h0M479.7 800.6h0M233.8 1101.2h0M391.4 923.0h0M500.6 811.8h0M320.0 1071.4h0M421.8 876.2h0M405.1 935.1h0M362.2 964.8h0M387.6 930.7h0M274.3 1144.7h0M377.0 833.3h0M462.1 812.6h0M339.5 952.6h0M213.8 1085.4h0M425.2 959.3h0M194.3 1193.4h0M276.0 997.0h0M377.1 999.6h0M263.0 1136.9h0M376.2 842.7h0M393.5 980.7h0M320.7 926.7h0M396.7 926.6h0M327.5 1003.9h0M386.1 882.4h0M312.9 1077.2h0M346.3 967.9h0M362.3 895.0h0M352.1 865.1h0M167.4 1185.8h0M401.9 860.9h0M177.7 1139.8h0M321.2 970.8h0M220.9 1167.4h0M288.6 1025.9h0M325.9 961.2h0M290.2 997.9h0M243.9 1048.4h0M389.7 920.5h0M346.8 887.1h0M282.4 1127.6h0M501.6 788.0h0M430.7 968.0h0M241.9 1085.0h0M424.4 838.6h0M375.7 871.9h0M305.2 1042.9h0M285.9 1050.9h0M365.5 877.7h0M179.8 1152.1h0M427.5 832.1h0M337.2 1035.0h0M231.0 1058.6h0M486.8 837.1h0M371.5 877.5h0M430.6 839.2h0M388.8 928.0h0M159.8 1183.4h0M409.9 951.5h0M246.4 1081.0h0M215.2 1090.9h0M208.2 1116.3h0M363.0 1014.3h0M253.3 1011.1h0M415.6 840.4h0M331.7 880.8h0M379.0 940.2h0M395.6 892.6h0M350.4 940.4h0M373.5 881.7h0M463.1 830.0h0M376.4 988.8h0M496.0 811.8h0M244.0 1042.0h0M285.3 1150.4h0M305.6 1000.2h0M286.8 1108.7h0M207.5 1087.1h0M494.6 798.8h0M236.5 1147.7h0M429.3 952.3h0M284.5 1102.3h0M437.7 848.0h0M281.3 982.0h0M358.0 852.6h0M276.5 1024.7h0M423.6 978.7h0M340.0 919.1h0M436.7 838.8h0M390.1 980.4h0M498.5 798.5h0M515.3 802.0h0M365.6 894.9h0M395.4 922.6h0M344.9 969.5h0M508.8 811.6h0M228.0 1090.0h0M421.7 916.0h0M262.4 1016.1h0M261.7 1167.2h0M380.2 1000.8h0M314.1 1097.9h0M261.1 1176.6h0M206.7 1122.4h0M261.7 1189.3h0M447.8 826.2h0M262.6 1003.0h0M356.3 986.4h0M363.7 1002.8h0M306.1 1009.5h0M412.3 982.7h0M374.7 1002.6h0M214.7 1170.7h0M337.0 928.5h0M255.7 1085.8h0M381.6 847.4h0M423.3 843.4h0M238.5 1068.6h0M232.7 1198.2h0M415.4 948.2h0M337.7 879.9h0M364.7 846.3h0M423.9 910.7h0M172.8 1193.7h0M320.3 967.3h0M307.7 984.2h0M526.5 795.4h0M334.2 884.5h0M319.3 1078.9h0M226.9 1184.4h0M340.4 871.9h0M253.7 1138.5h0M191.1 1133.6h0M242.1 1161.5h0M233.3 1111.7h0M331.8 873.1h0M327.3 994.1h0M429.3 818.3h0M278.2 1035.9h0M415.9 939.0h0M195.5 1197.3h0M306.3 1076.8h0M191.0 1117.5h0M408.5 996.6h0M370.8 901.1h0M316.9 1086.1h0M376.1 834.0h0M459.7 961.5h0M271.0 1022.0h0M244.2 1042.2h0M285.7 1107.3h0M203.4 1198.4h0M272.8 1157.3h0M476.5 810.2h0M245.2 1058.8h0M463.4 812.3h0M364.5 916.0h0M308.2 983.0h0M519.2 795.9h0M231.7 1170.9h0M249.0 1037.2h0M475.5 826.7h0M529.7 782.8h0M352.3 1025.0h0M328.1 907.4h0M396.5 961.1h0M256.9 1004.3h0M539.1 787.0h0M248.3 1023.9h0M278.4 994.1h0M423.5 868.1h0M258.5 1003.4h0M357.6 847.2h0M233.8 1064.7h0M423.5 843.8h0M296.6 1009.2h0M425.8 880.4h0M323.5 921.9h0M502.1 806.3h0M402.2 832.0h0M497.2 798.2h0M337.6 912.7h0M359.4 850.9h0M386.8 875.0h0M490.6 825.1h0M500.1 795.1h0M378.8 882.0h0M254.0 1038.7h0M242.3 1062.8h0M225.6 1107.0h0M283.8 996.6h0M391.8 914.3h0M244.6 1152.9h0M318.2 982.1h0M372.3 899.2h0M315.3 1044.1h0M356.5 911.2h0M388.3 1000.7h0M278.1 995.3h0M355.6 862.7h0M165.3 1184.6h0M480.3 847.7h0M436.6 919.1h0M263.1 1176.2h0M324.1 1056.5h0M392.3 910.3h0M403.9 883.6h0M236.9 1153.8h0M321.1 934.1h0M314.5 1103.5h0M327.7 1002.0h0M390.0 899.2h0M230.9 1080.5h0M253.2 1058.0h0M336.7 892.4h0M261.9 1133.3h0M399.1 822.1h0M414.7 946.7h0M425.0 950.1h0M252.4 1179.1h0M256.6 1013.2h0M435.7 911.0h0M321.5 1068.8h0M326.7 1055.1h0M424.3 883.7h0M170.1 1188.8h0M411.0 960.0h0M233.5 1195.6h0M414.5 859.7h0M505.9 809.4h0M454.4 812.8h0M458.7 948.6h0M362.6 914.9h0M362.9 923.6h0M319.2 925.3h0M454.4 854.5h0M300.2 978.8h0M312.2 1104.9h0M416.5 918.3h0M181.6 1188.0h0M266.5 1172.5h0M216.3 1166.6h0M434.9 844.0h0M303.4 1114.0h0M341.0 922.3h0M430.5 852.5h0M441.9 943.5h0M295.6 1134.9h0M364.0 886.7h0M275.3 1152.1h0M367.5 845.9h0M304.0 1040.2h0M478.4 807.5h0M328.8 893.9h0M358.4 991.5h0M371.3 904.2h0M338.3 890.0h0M403.5 831.1h0M428.5 968.3h0M276.5 1059.3h0M314.2 888.9h0M391.5 969.0h0M174.1 1150.4h0M188.7 1141.6h0M369.6 867.7h0M492.6 819.2h0M212.1 1133.5h0M325.0 953.2h0M206.2 1174.6h0M276.0 1166.7h0M416.1 912.1h0M205.6 1123.0h0M461.5 847.5h0M446.1 854.1h0M354.3 999.9h0M382.1 926.1h0M278.8 1094.8h0M285.4 1135.3h0M429.0 862.1h0M356.4 961.5h0M238.5 1046.9h0M253.8 1039.1h0M331.0 1054.6h0M448.8 851.8h0M356.6 954.4h0M399.1 979.0h0M232.2 1090.8h0M481.2 805.9h0M410.2 964.6h0M392.3 986.9h0M393.9 882.4h0M419.6 963.6h0M397.4 882.6h0M213.2 1083.6h0M257.4 1195.1h0M497.5 819.0h0M342.1 1033.4h0M399.8 899.3h0M424.0 899.6h0M450.0 953.2h0M279.7 1148.3h0M415.1 865.4h0M398.9 950.4h0M282.2 1064.8h0M468.2 815.7h0M355.1 890.5h0M195.9 1187.6h0M291.6 992.2h0M168.0 1183.7h0M428.2 896.3h0M476.5 810.0h0M203.0 1089.8h0M279.3 1108.6h0M225.2 1099.5h0M368.6 962.4h0M277.2 1147.3h0M324.2 1055.2h0M417.7 893.8h0M425.9 933.6h0M368.1 1000.5h0M372.8 867.6h0M463.5 832.4h0M405.9 885.0h0M305.6 1002.1h0M260.1 1049.5h0M269.2 1016.7h0M447.3 950.5h0M374.9 948.8h0M406.2 851.4h0M377.9 874.2h0M507.6 809.5h0M493.5 804.8h0M275.3 1177.1h0M339.5 993.7h0M173.2 1158.0h0M404.6 840.2h0M273.5 1173.1h0M201.3 1128.6h0M331.9 1012.5h0M391.2 856.0h0M364.3 882.7h0M199.1 1137.4h0M340.8 1038.1h0M271.8 1049.0h0M189.1 1139.7h0M417.0 961.8h0M249.2 1073.1h0M403.6 841.5h0M242.0 1045.6h0M346.0 899.2h0M187.8 1134.1h0M245.0 1191.8h0M314.8 909.3h0M309.4 1027.2h0M525.0 798.0h0M284.7 992.8h0M290.0 999.3h0M305.3 1038.5h0M458.0 847.5h0M344.1 941.0h0M340.8 1058.4h0M479.8 815.1h0M305.2 976.1h0M533.8 781.4h0M192.1 1167.9h0M393.2 930.0h0M382.1 914.0h0M359.0 914.7h0M217.6 1088.4h0M360.0 849.2h0M437.7 821.6h0M174.6 1154.4h0M224.8 1190.2h0M248.7 1002.4h0M431.5 924.7h0M351.2 944.4h0M173.5 1152.7h0M211.8 1188.7h0M411.4 937.1h0M483.0 841.1h0M379.7 869.4h0M397.0 838.9h0M374.1 868.8h0M389.4 839.2h0M327.1 1001.7h0M349.6 874.4h0M416.4 872.9h0M344.3 920.3h0M430.0 831.9h0M299.2 1110.9h0M360.6 867.6h0M390.1 872.7h0M332.1 896.9h0M346.4 865.8h0M474.2 820.2h0M402.1 921.0h0M487.5 807.0h0M426.3 860.5h0M429.4 875.9h0M338.5 926.1h0M414.4 947.3h0M306.4 993.3h0M435.2 821.3h0M278.3 1032.8h0M385.7 995.8h0M425.3 849.3h0M347.2 935.5h0M385.6 978.2h0M418.6 962.2h0M389.1 862.5h0M383.0 885.5h0M389.1 889.4h0M414.0 954.5h0M226.0 1074.1h0M272.1 1143.9h0M513.1 807.8h0M380.7 838.9h0M321.8 1071.6h0M337.2 962.7h0M355.4 912.2h0M403.0 903.1h0M345.9 965.7h0M248.2 1169.3h0M371.5 896.6h0M482.5 855.5h0M454.3 830.8h0M339.5 883.2h0M409.4 896.1h0M434.1 838.6h0M357.9 1016.8h0M397.5 942.2h0M408.0 834.0h0M286.1 1171.3h0M283.6 1152.6h0M261.4 1082.0h0M372.0 850.9h0M285.3 1097.2h0M263.7 1027.4h0M356.0 860.0h0M433.5 816.7h0M228.0 1076.6h0M285.5 1039.0h0M302.0 982.2h0M401.7 893.6h0M183.9 1117.3h0M252.9 1006.8h0M374.6 882.5h0M388.4 931.1h0M367.4 893.0h0M432.8 937.7h0M511.7 784.2h0M453.5 945.1h0M434.1 901.1h0M404.9 918.7h0M231.1 1068.9h0M317.6 963.3h0M468.6 845.8h0M174.8 1146.5h0M189.8 1131.5h0M390.4 888.4h0M370.7 1011.3h0M407.8 854.3h0M405.5 966.5h0M390.5 991.5h0M403.7 941.3h0M340.9 948.2h0M206.9 1097.5h0M394.8 842.6h0M333.2 890.8h0M426.6 951.9h0M493.3 816.0h0M227.1 1073.7h0M348.0 871.3h0M401.9 933.1h0M396.1 847.3h0M427.2 896.1h0M382.2 866.9h0M269.5 1136.1h0M454.5 825.6h0M448.5 947.3h0M241.9 1063.7h0M424.8 870.6h0M339.0 897.6h0M391.9 858.3h0M406.1 937.9h0M410.5 982.0h0M238.4 1064.9h0M384.8 994.5h0M425.1 951.3h0M367.3 976.4h0M241.9 1031.1h0M308.1 1096.6h0M294.5 1067.5h0M286.3 1092.9h0M201.1 1092.4h0M324.8 957.8h0M411.6 965.5h0M187.1 1107.3h0M352.2 1025.7h0M230.5 1175.1h0M254.0 1005.5h0M430.3 967.2h0M331.3 989.2h0M368.9 926.0h0M370.7 836.8h0M432.6 934.6h0M472.3 848.4h0M228.8 1071.0h0M346.2 885.4h0M173.6 1145.1h0M369.0 1004.0h0M419.4 897.6h0M319.8 922.5h0M257.9 1016.0h0M356.8 920.7h0M250.2 1181.2h0M368.0 864.2h0M372.4 864.2h0M420.6 876.7h0M400.5 992.5h0M257.9 1059.2h0M223.8 1150.8h0M513.6 802.3h0M418.0 835.8h0M334.1 1018.0h0M405.0 844.4h0M418.5 846.9h0M250.0 1178.2h0M411.5 828.6h0M223.3 1090.0h0M340.2 935.1h0M329.6 951.4h0M178.1 1148.3h0M437.7 968.3h0M475.7 814.0h0M406.3 879.7h0M520.7 809.6h0M367.8 866.1h0M423.4 915.2h0M183.4 1129.1h0M432.8 952.7h0M437.3 856.1h0M333.0 914.9h0M322.1 1097.6h0M450.9 858.8h0M465.2 845.6h0M473.8 832.7h0M188.5 1175.9h0M185.5 1117.6h0M430.0 959.3h0M369.9 872.4h0M502.1 800.2h0M242.4 1116.2h0M434.8 819.1h0M449.7 853.7h0M369.1 850.9h0M427.5 876.3h0M397.1 847.1h0M366.0 845.2h0M310.1 987.5h0M187.2 1191.7h0M319.0 1027.0h0M359.4 884.8h0M406.8 850.3h0M236.0 1168.8h0M400.1 863.2h0M293.9 1131.8h0M303.4 1012.8h0M203.6 1111.5h0M168.3 1173.2h0M263.1 1101.3h0M232.0 1172.2h0M254.4 1012.8h0M354.6 885.6h0M398.3 928.1h0M422.9 875.6h0M347.0 987.4h0M317.8 980.9h0M475.8 824.4h0M455.3 960.5h0M478.6 830.1h0M520.1 792.1h0M244.5 1037.8h0M401.2 885.7h0M485.6 810.1h0M270.2 1032.4h0M403.4 995.9h0M191.7 1111.1h0M306.1 1111.9h0M412.5 980.8h0M416.2 892.1h0M369.8 993.6h0M419.1 901.2h0M357.2 957.8h0M264.4 1094.2h0M418.7 925.8h0M352.3 925.2h0M332.5 973.4h0M391.6 904.0h0M526.7 777.3h0M183.1 1169.2h0M390.6 911.6h0M248.4 1138.7h0M343.0 891.6h0M247.1 1030.5h0M251.9 1047.0h0M398.4 852.7h0M321.8 1040.7h0M313.0 1063.7h0M250.5 1119.2h0M203.0 1102.4h0M299.4 1129.5h0M166.9 1175.5h0M308.4 1078.7h0M226.9 1097.6h0M404.9 868.6h0M240.9 1077.2h0M290.3 1131.3h0M238.9 1191.3h0M241.3 1072.2h0M259.9 1017.0h0M323.2 872.8h0M455.6 952.7h0M233.0 1191.3h0M419.2 845.3h0M449.3 960.0h0M339.0 1035.4h0M403.0 910.7h0M194.8 1150.7h0M386.6 916.2h0M359.5 864.5h0M331.9 914.8h0M327.2 1103.7h0M474.9 826.2h0M387.3 892.3h0M423.5 829.9h0M456.8 817.9h0M161.5 1189.5h0M374.3 933.2h0M447.3 827.7h0M329.9 978.2h0M384.0 846.3h0M418.8 962.5h0M446.2 845.4h0M327.9 969.7h0M336.8 1015.7h0M378.7 833.1h0M418.3 827.8h0M352.9 1021.9h0M295.4 1140.9h0M251.5 1123.5h0M331.0 1058.2h0M272.0 1044.7h0M267.3 1181.8h0M355.0 874.5h0M400.9 923.9h0M429.0 827.2h0M177.9 1137.4h0M360.8 1000.9h0M375.5 937.7h0M348.2 869.6h0M212.7 1115.1h0M333.8 887.8h0M222.0 1082.8h0M509.6 803.6h0M326.5 1077.1h0M237.0 1178.5h0M305.5 1102.1h0M282.1 1042.9h0M438.2 857.5h0M406.7 902.6h0M519.1 787.2h0M269.0 1158.5h0M497.2 794.0h0M207.5 1195.5h0M278.7 998.7h0M292.3 1146.7h0M454.5 811.5h0M250.5 1170.7h0M356.7 944.5h0M231.1 1059.7h0M388.6 990.9h0M353.0 1009.5h0M429.0 902.9h0M331.3 1042.3h0M358.6 1002.7h0M201.3 1108.9h0M325.1 931.9h0M226.3 1142.2h0M190.8 1107.4h0M410.9 918.6h0M255.2 1021.6h0M377.7 921.7h0M443.5 821.9h0M262.8 1177.4h0M350.0 858.1h0M433.4 871.1h0M421.1 959.5h0M428.8 887.9h0M479.2 808.5h0M382.9 840.1h0M391.2 892.3h0M226.0 1194.3h0M216.7 1105.1h0M426.8 857.1h0M255.5 1112.6h0M359.9 959.4h0M173.9 1141.9h0M452.4 965.0h0M429.5 893.5h0M213.6 1182.9h0M218.1 1100.0h0M217.5 1102.3h0M491.6 814.4h0M424.9 861.1h0M207.7 1175.1h0M349.7 1020.9h0M388.0 932.1h0M173.5 1171.1h0M313.9 996.6h0M305.0 1110.6h0M194.9 1124.2h0M496.5 820.2h0M169.8 1182.4h0M403.8 987.3h0M167.5 1175.8h0M332.4 922.2h0M369.3 840.5h0M398.6 930.2h0M339.3 1020.9h0M193.1 1124.1h0M337.6 957.2h0M375.7 932.6h0M504.3 791.9h0M358.0 1009.6h0M334.7 946.4h0M422.5 902.9h0M477.1 803.3h0M332.9 908.8h0M427.8 896.6h0M330.8 947.3h0M296.9 994.9h0M427.4 959.4h0M328.0 956.8h0M206.5 1188.5h0M405.4 902.3h0M243.4 1074.9h0M346.3 872.9h0M481.0 830.7h0M513.6 796.8h0M238.2 1028.1h0M324.3 978.7h0M313.6 1046.0h0M429.3 917.3h0M255.2 1019.2h0M181.7 1149.8h0M319.6 998.0h0M469.2 836.6h0M226.7 1123.8h0M282.4 1003.1h0M445.2 949.5h0M433.5 952.0h0M281.6 998.9h0M356.0 851.5h0M488.2 807.7h0M198.3 1095.9h0M219.8 1159.3h0M378.4 832.9h0M431.6 920.9h0M268.3 1162.5h0M528.2 780.8h0M285.2 1129.7h0M233.3 1106.4h0M395.2 958.5h0M397.0 838.0h0M375.8 866.4h0M357.2 924.4h0M346.6 913.8h0M233.4 1160.2h0M225.1 1192.0h0M339.1 895.8h0M229.1 1169.4h0M331.0 920.4h0M345.3 876.6h0M474.1 818.7h0M353.6 934.9h0M189.1 1156.0h0M413.6 916.9h0M537.9 785.8h0M422.1 956.9h0M395.8 902.2h0M331.0 1050.7h0M415.7 889.5h0M404.6 856.1h0M408.9 845.6h0M445.6 966.6h0M414.5 947.7h0M267.8 1001.8h0M486.8 825.8h0M346.3 861.8h0M528.1 782.8h0M506.0 794.8h0M364.4 952.6h0M418.1 985.1h0M441.3 826.6h0M200.8 1153.5h0M268.0 1142.3h0M436.9 931.6h0M295.4 991.3h0M416.3 939.8h0M178.9 1185.6h0M454.5 845.2h0M241.0 1187.1h0M312.6 1051.3h0M384.5 835.1h0M460.8 821.0h0M298.3 984.9h0M245.1 1039.3h0M361.3 1012.9h0M435.1 965.8h0M223.0 1151.4h0M197.5 1129.1h0M322.7 951.9h0M507.9 803.0h0M413.8 826.3h0M424.3 889.3h0M269.9 1141.3h0M459.7 835.7h0M330.0 1032.3h0M423.7 847.7h0M246.4 1053.7h0M187.0 1159.3h0M424.4 870.4h0M181.1 1136.7h0M257.9 1158.6h0M355.9 922.4h0M456.2 934.9h0M283.0 1149.5h0M320.8 943.7h0M240.9 1101.9h0M360.4 853.2h0M290.6 977.2h0M361.5 965.4h0M360.2 899.7h0M269.6 1171.2h0M216.9 1086.5h0M245.5 1101.6h0M278.0 1135.2h0M435.1 876.5h0M263.8 1014.5h0M211.3 1120.6h0M365.1 921.9h0M278.9 1011.2h0M221.4 1102.7h0M167.7 1178.8h0M431.0 822.8h0M226.7 1107.2h0M194.0 1152.1h0M342.2 1038.8h0M349.4 965.7h0M423.1 948.8h0M220.9 1067.0h0M247.3 1040.7h0M270.2 1130.4h0M226.8 1179.6h0M343.6 907.4h0M372.3 917.8h0M303.6 976.9h0M252.0 1193.3h0M207.1 1106.6h0M415.1 951.2h0M333.7 1028.6h0M274.7 1008.6h0M299.2 993.0h0M354.4 1021.9h0M364.5 1017.2h0M373.4 965.2h0M378.7 912.3h0M357.2 974.4h0M189.8 1151.7h0M424.3 983.8h0M350.2 939.2h0M432.6 834.0h0M403.4 940.8h0M436.3 824.8h0M252.2 1064.8h0M314.3 1024.4h0M512.6 794.1h0M438.5 977.7h0M329.1 972.0h0M430.8 848.4h0M495.5 793.6h0M234.4 1124.2h0M436.2 861.6h0M254.8 1167.0h0M461.0 823.7h0M367.0 873.0h0M196.5 1188.1h0M329.3 1067.0h0M258.0 1189.0h0M477.6 818.6h0M343.0 923.4h0M361.5 866.1h0M431.5 901.8h0M289.0 1103.3h0M221.7 1097.7h0M170.1 1166.6h0M495.3 820.4h0M401.9 938.5h0M427.5 902.6h0M401.3 844.5h0M408.0 994.2h0M328.3 995.4h0M174.2 1179.8h0M493.6 842.2h0M410.3 976.1h0M504.0 796.1h0M355.4 964.2h0M300.9 997.9h0M406.1 937.4h0M472.8 850.9h0M385.6 842.4h0M442.7 955.5h0M332.7 971.7h0M449.1 863.5h0M425.0 928.2h0M504.0 814.7h0M373.1 944.5h0M532.0 792.0h0M436.8 855.4h0M208.9 1190.8h0M428.1 934.6h0M370.9 922.9h0M336.4 941.4h0M355.9 856.7h0M278.7 1151.4h0M395.0 904.3h0M410.7 830.6h0M288.8 1125.1h0M373.9 976.4h0M352.9 1007.5h0M371.1 871.6h0M297.0 1131.9h0M165.6 1188.6h0M453.8 962.2h0M416.7 992.6h0M409.4 852.7h0M479.9 804.7h0M388.3 840.7h0M419.8 827.1h0M230.6 1194.6h0M365.4 1008.4h0M406.8 829.7h0M367.6 887.3h0M261.9 1019.9h0M320.3 969.1h0M496.0 802.2h0M401.4 983.2h0M512.3 801.8h0M263.4 1122.6h0M342.2 881.4h0M371.1 843.3h0M198.2 1137.6h0M349.9 1030.3h0M324.8 964.4h0M480.4 840.8h0M387.8 840.1h0M361.7 978.9h0M299.5 1010.7h0M281.9 981.3h0M410.9 843.3h0M343.8 960.3h0M429.8 913.3h0M405.3 934.9h0M270.0 1161.1h0M326.3 941.9h0M352.3 880.5h0M330.4 959.4h0M217.7 1154.4h0M315.4 1068.7h0M231.9 1102.9h0M260.6 1029.6h0M385.9 885.5h0M359.7 848.6h0M259.1 1052.2h0M344.5 946.7h0M234.7 1190.9h0M367.6 944.8h0M496.6 786.9h0M455.1 946.4h0M413.7 934.5h0M490.0 827.1h0M425.4 876.8h0M376.2 835.9h0M464.1 812.0h0M298.1 1004.4h0M508.8 806.4h0M333.6 919.2h0M303.9 1025.5h0M289.4 1153.2h0M331.4 939.8h0M439.0 826.0h0M406.4 895.1h0M318.1 1088.9h0M198.2 1083.2h0M446.2 848.5h0M264.6 1148.0h0M231.7 1133.2h0M346.8 883.6h0M375.3 887.8h0M468.6 835.2h0M409.3 856.0h0M507.0 781.2h0M370.4 996.8h0M202.4 1114.9h0M230.4 1083.6h0M418.0 933.6h0M271.9 1127.0h0M339.2 937.0h0M351.4 870.0h0M430.0 876.4h0M454.9 944.1h0M285.2 1111.2h0M377.6 940.1h0M297.3 976.6h0M224.6 1196.8h0M410.0 910.6h0M336.8 1048.5h0M350.2 925.9h0M231.6 1100.0h0M370.6 926.1h0M524.3 800.0h0M262.4 1149.5h0M375.9 894.9h0M399.5 844.0h0M458.5 811.5h0M400.9 898.3h0M280.4 1107.9h0M312.5 1001.8h0M320.7 942.2h0M202.3 1193.7h0M206.4 1173.3h0M494.2 786.0h0M487.5 805.5h0M342.5 887.4h0M360.9 883.0h0M188.8 1111.5h0M243.8 1088.3h0M415.3 841.7h0M429.3 904.1h0M404.2 935.7h0M444.9 823.5h0M430.4 945.7h0M189.6 1176.2h0M300.4 1030.5h0M402.9 896.4h0M410.0 880.8h0M265.8 1014.1h0M355.3 1002.5h0M287.8 1147.7h0M432.6 919.8h0M209.8 1098.6h0M414.6 832.2h0M292.0 1010.3h0M273.2 1160.5h0M395.5 844.8h0M332.9 1012.5h0M299.2 1004.8h0M291.9 1127.9h0M407.4 935.2h0M359.6 1013.6h0M343.6 890.5h0M507.8 784.3h0M425.2 936.9h0M284.8 1052.6h0M423.1 828.0h0M199.8 1126.6h0M296.4 1037.3h0M313.2 980.5h0M479.6 832.3h0M354.8 937.8h0M302.3 1110.4h0M371.4 833.7h0M261.8 1192.2h0M329.4 945.4h0M323.1 927.9h0M280.6 1036.9h0M318.8 1057.3h0M460.0 844.8h0M196.8 1154.2h0M296.2 998.7h0M266.8 1001.8h0M184.4 1140.0h0M408.4 830.9h0M354.4 920.5h0M252.2 1155.6h0M261.7 1074.7h0M224.6 1078.6h0M290.3 1141.7h0M396.2 999.6h0M418.9 815.4h0M277.4 988.2h0M395.8 981.9h0M466.4 830.5h0M399.4 903.7h0M310.8 1101.4h0M410.4 986.7h0M436.2 954.1h0M446.2 825.8h0M432.8 959.8h0M394.5 832.4h0M244.3 1039.4h0M289.2 986.4h0M317.0 1009.5h0M344.1 890.9h0M381.6 930.1h0M287.5 1068.5h0M329.6 960.5h0M280.8 991.0h0M371.6 983.8h0M240.6 1194.5h0M279.3 1010.4h0M335.9 959.4h0M491.7 804.7h0M271.5 1175.2h0M480.3 800.7h0M202.4 1096.5h0M372.6 935.1h0M415.7 960.8h0M293.8 1040.7h0M316.6 932.1h0M492.7 820.5h0M225.3 1080.2h0M193.8 1194.9h0M222.0 1192.7h0M341.7 1054.8h0M277.8 1015.1h0M309.9 1086.5h0M346.6 866.9h0M475.2 841.1h0M507.1 806.2h0M332.0 1014.8h0M361.7 843.3h0M447.1 961.3h0M240.8 1142.6h0M396.3 839.7h0M187.3 1182.3h0M280.8 1019.0h0M460.7 957.9h0M440.6 937.3h0M309.6 994.6h0M512.5 799.2h0M407.9 979.7h0M295.3 976.1h0M209.9 1115.5h0M424.0 969.7h0M504.8 820.3h0M492.4 785.7h0M330.0 1062.8h0M371.1 857.6h0M494.3 796.5h0M438.4 922.6h0M485.9 817.0h0M268.7 1143.9h0M187.9 1140.0h0M364.9 934.7h0M390.2 853.7h0M190.7 1151.4h0M199.6 1131.1h0M418.8 848.0h0M325.2 1041.4h0M280.3 1043.6h0M224.0 1130.3h0M273.6 1174.2h0M437.2 942.5h0M341.0 924.5h0M250.6 1192.5h0M294.2 979.7h0M512.9 802.9h0M319.9 879.6h0M227.1 1180.3h0M299.9 979.9h0M460.2 839.8h0M374.3 885.2h0M442.1 929.3h0M424.6 846.6h0M349.5 949.2h0M290.4 1077.5h0M208.8 1130.0h0M380.2 835.7h0M344.5 1004.1h0M263.8 1054.0h0M479.9 841.1h0M184.3 1131.4h0M327.0 1024.9h0M249.1 1053.3h0M469.8 815.1h0M328.2 1069.6h0M392.1 960.4h0M311.8 987.4h0M245.6 1043.7h0M319.6 924.3h0M485.6 835.9h0M244.6 1059.7h0M284.8 1062.3h0M402.4 837.0h0M238.5 1043.1h0M333.8 907.0h0M346.5 953.6h0M485.0 799.6h0M214.0 1111.7h0M415.1 964.3h0M265.9 1158.1h0M253.6 1169.2h0M352.7 858.7h0M265.1 1156.5h0M386.0 999.7h0M346.5 944.8h0M409.2 967.7h0M253.9 1043.1h0M260.9 1161.9h0M351.7 931.8h0M386.4 1002.7h0M519.9 802.4h0M403.6 905.3h0M456.7 847.1h0M306.0 979.7h0M419.7 908.9h0M250.2 1012.0h0M405.8 979.0h0M358.3 852.1h0M491.0 806.2h0M407.8 841.9h0M477.3 840.5h0M318.1 895.1h0M251.1 1114.4h0M350.6 869.4h0M249.4 1126.3h0M328.4 881.1h0M325.7 1003.4h0M403.0 893.3h0M238.7 1185.7h0M336.5 924.8h0M399.0 872.8h0M266.8 1156.7h0M241.3 1177.4h0M423.3 870.5h0M223.7 1142.7h0M469.2 806.5h0M302.3 1117.5h0M337.8 1044.5h0M175.1 1146.6h0M319.2 1028.6h0M246.6 1051.7h0M401.4 867.6h0M275.0 994.9h0M211.1 1174.4h0M336.4 909.7h0M353.3 976.9h0M287.9 994.3h0M347.1 916.4h0M394.6 821.0h0M353.1 870.3h0M378.4 833.0h0M461.2 852.4h0M314.9 1081.5h0M220.8 1117.5h0M361.9 999.5h0M442.2 968.2h0M511.6 795.2h0M417.0 932.2h0M238.3 1177.7h0M214.1 1084.1h0M332.9 958.0h0M433.7 894.7h0M382.1 973.1h0M370.5 849.7h0M278.3 1002.1h0M372.7 889.3h0M495.1 811.6h0M308.8 1063.1h0M353.9 1019.4h0M421.0 829.8h0M353.3 941.7h0M303.2 976.3h0M333.5 906.9h0M396.4 836.2h0M374.6 866.4h0M284.3 1139.4h0M391.3 917.6h0M376.3 885.3h0M387.1 912.9h0M395.4 918.3h0M198.0 1188.0h0M351.3 883.1h0M307.7 979.7h0M384.4 992.7h0M188.2 1117.2h0M404.3 886.7h0M303.7 1021.5h0M486.7 799.3h0M251.8 1062.5h0M398.5 1001.4h0M346.6 861.0h0M404.3 961.6h0M363.4 993.0h0M419.0 882.0h0M375.9 998.4h0M416.7 882.0h0M419.7 915.4h0M366.0 983.7h0M441.8 954.8h0M401.3 914.4h0M206.5 1177.5h0M460.4 837.3h0M328.7 903.8h0M400.3 933.9h0M325.3 1040.7h0M336.7 1021.4h0M431.3 882.5h0M361.8 871.0h0M408.4 931.9h0M388.6 943.6h0M419.3 860.8h0M536.5 781.9h0M374.6 922.1h0M185.0 1193.5h0M344.4 880.5h0M435.7 914.8h0M474.4 845.1h0M416.8 897.4h0M453.1 956.7h0M469.8 839.2h0M242.6 1188.8h0M332.1 965.9h0M405.2 941.2h0M164.0 1186.5h0M444.8 830.8h0M375.5 847.8h0M411.5 870.0h0M325.5 1064.5h0M445.4 835.7h0M220.2 1176.5h0M228.5 1055.6h0M381.9 846.4h0M280.1 1005.6h0M454.4 822.5h0M183.4 1122.7h0M168.6 1186.7h0M235.7 1183.6h0M352.5 885.3h0M251.2 1167.8h0M329.4 1048.9h0M201.6 1097.4h0M322.2 1001.0h0M336.3 868.8h0M397.1 905.2h0M483.3 804.1h0M388.3 944.6h0M376.9 845.3h0M186.9 1174.3h0M334.3 1043.1h0M353.6 921.6h0M464.2 840.7h0M270.3 1187.4h0M231.6 1092.3h0M242.6 1186.2h0M529.5 776.3h0M435.9 964.6h0M233.6 1175.2h0M358.2 997.9h0M334.5 1041.1h0M244.4 1040.2h0M379.1 881.4h0M271.6 1000.9h0M403.5 947.2h0M298.2 1114.4h0M180.5 1132.9h0M316.8 979.6h0M450.4 834.0h0M299.4 1013.9h0M365.3 1009.6h0M260.8 1097.9h0M233.1 1174.9h0M332.0 1042.0h0M258.7 1192.6h0M256.9 1053.5h0M191.0 1195.2h0M323.7 1074.5h0M166.2 1197.1h0M404.9 834.1h0M319.1 1094.9h0M303.4 1051.2h0M426.9 976.4h0M161.2 1195.7h0M377.4 847.2h0M200.1 1124.7h0M268.3 1186.8h0M343.1 873.1h0M391.5 998.5h0M204.4 1131.7h0M330.7 1045.1h0M339.7 985.2h0M361.1 846.4h0M299.2 1033.0h0M406.2 949.8h0M318.9 1042.5h0M238.3 1183.8h0M208.8 1102.4h0M352.0 932.2h0M347.3 908.4h0M390.8 849.6h0M342.4 887.4h0M440.4 929.8h0M311.0 881.0h0M319.1 888.2h0M296.5 922.7h0M289.2 930.0h0M257.4 922.7h0M271.0 958.0h0M254.7 963.5h0M299.2 955.3h0M295.5 963.5h0M273.8 974.4h0M262.9 986.2h0M286.5 974.4h0M202.4 1031.2h0M231.0 1031.2h0M220.2 1065.1h0M229.2 1065.1h0M212.2 1072.2h0M178.3 1098.1h0M176.6 1124.0h0M334.4 1091.0h0M317.5 1094.5h0M321.9 1116.8h0M325.5 1140.0h0M313.0 1147.2h0M291.6 1158.7h0M293.4 1177.5h0M302.3 1179.3h0M287.1 1184.6h0M272.0 1185.5h0M279.1 1174.1h0M264.9 1170.3h0M429.5 1005.4h0M397.4 1012.5h0M438.5 1000.0h0M411.7 1001.8h0M363.5 1037.5h0M379.6 1038.4h0M373.4 1042.8h0M352.0 1046.4h0M357.3 1050.0h0M373.4 1057.1h0M368.0 1061.5h0M355.5 1068.7h0M349.3 1072.2h0M335.9 1072.2h0M336.8 1091.0h0M364.4 1026.8h0M419.4 821.1h0M520.1 813.8h0M516.5 828.3h0M511.9 836.5h0M522.8 847.4h0M485.6 861.9h0M493.8 870.1h0M463.8 873.7h0M442.1 877.3h0M446.6 886.4h0M447.5 890.0h0M452.0 896.4h0M448.4 903.6h0M439.3 910.9h0M470.2 920.9h0M470.2 929.9h0M445.7 925.4h0M448.4 926.3h0M473.8 967.1h0M452.0 970.8h0M453.9 989.8h0M480.2 851.9h0M448.2 904.1h0M439.9 911.0h0M474.3 967.5h0M452.3 971.0h0M454.4 989.6h0M430.2 1005.4h0M437.8 997.9h0M397.9 1013.0h0M379.9 1037.8h0M374.4 1042.0h0M363.4 1037.8h0M353.7 1047.5h0M370.3 1059.9h0M355.1 1068.1h0M257.0 921.8h0M200.0 1032.0h0M231.3 1032.0h0M176.2 1098.2h0M164.5 1161.9h0M163.9 1169.2h0" stroke="#00008C" stroke-width="5.90" stroke-linecap="round" fill="none"/>
<path d="M457.5 827.3h0M202.5 1172.7h0M263.6 1079.8h0M366.3 941.2h0M222.0 1150.7h0M322.3 985.3h0M316.4 977.7h0M406.5 915.5h0M296.3 1037.8h0M327.6 932.0h0M299.1 1048.5h0M225.8 1079.5h0M277.7 1062.3h0M294.7 1113.5h0M220.8 1154.7h0M281.3 1066.2h0M327.9 894.3h0M311.4 1052.9h0M412.7 896.7h0M397.6 936.5h0M295.3 991.5h0M249.1 1182.3h0M325.9 1024.0h0M378.8 972.2h0M208.5 1092.4h0M249.5 1092.8h0M192.5 1153.7h0M364.2 950.2h0M182.0 1147.1h0M247.2 1118.6h0M318.6 987.0h0M192.0 1127.6h0M296.6 1071.7h0M248.6 1132.3h0M434.7 917.6h0M407.2 964.8h0M348.7 902.0h0M247.8 1100.5h0M299.1 1081.7h0M237.6 1109.9h0M290.2 1105.3h0M255.7 1084.5h0M289.6 1102.2h0M395.4 966.5h0M302.2 1029.2h0M445.7 841.3h0M220.6 1128.2h0M267.1 1099.7h0M250.1 1100.3h0M293.0 1048.9h0M234.8 1168.3h0M435.2 975.2h0M408.3 876.7h0M411.0 915.5h0M416.5 955.6h0M234.7 1085.0h0M221.2 1175.6h0M332.2 1016.2h0M276.2 1009.6h0M402.7 869.4h0M340.3 885.4h0M208.8 1153.8h0M415.7 920.0h0M258.9 1009.3h0M192.5 1187.9h0M275.7 1105.7h0M253.4 1130.6h0M374.9 891.5h0M297.1 1059.0h0M278.2 1097.3h0M263.6 1036.0h0M392.3 901.3h0M239.0 1129.4h0M247.1 1165.2h0M365.3 882.9h0M388.2 964.4h0M229.0 1150.7h0M171.3 1166.7h0M398.4 870.3h0M203.3 1116.9h0M272.2 1013.6h0M292.0 1015.4h0M379.9 909.3h0M366.5 963.3h0M357.5 918.0h0M247.2 1176.9h0M254.1 1148.9h0M234.2 1092.9h0M395.0 968.4h0M380.6 849.8h0M238.3 1118.3h0M398.6 918.7h0M247.4 1100.2h0M260.6 1153.9h0M381.3 889.1h0M379.3 932.9h0M266.2 1019.3h0M253.7 1150.5h0M431.8 950.8h0M398.1 946.4h0M224.1 1131.5h0M275.6 1134.9h0M275.9 1053.5h0M407.1 831.2h0M250.7 1090.1h0M408.6 886.5h0M227.2 1111.9h0M287.7 1077.7h0M271.8 1127.9h0M180.2 1129.5h0M196.1 1168.8h0M217.3 1148.1h0M235.9 1106.4h0M264.3 1082.1h0M222.2 1129.4h0M238.6 1135.8h0M221.5 1103.5h0M263.6 1090.3h0M410.4 877.8h0M244.1 1155.4h0M264.8 1112.0h0M298.7 1123.6h0M256.1 1088.7h0M410.2 886.7h0M391.5 906.5h0M408.4 988.0h0M317.3 1057.3h0M248.6 1157.0h0M387.5 1001.2h0M269.7 1043.2h0M240.1 1100.1h0M252.8 1182.7h0M182.2 1173.4h0M376.1 942.7h0M273.2 1096.4h0M263.1 1121.2h0M187.5 1175.6h0M348.6 1006.0h0M197.0 1145.0h0M264.4 1002.0h0M386.2 877.3h0M345.2 980.8h0M362.8 941.2h0M262.6 1083.3h0M396.3 897.3h0M257.8 1076.9h0M385.0 942.8h0M336.9 1033.4h0M270.0 1116.1h0M168.9 1185.2h0M291.2 1077.0h0M482.8 847.4h0M319.7 998.6h0M296.6 1042.2h0M272.1 1154.8h0M267.9 1122.9h0M429.2 915.3h0M250.3 1139.1h0M230.1 1135.3h0M336.3 1002.2h0M224.8 1162.6h0M339.2 1061.2h0M350.3 1013.2h0M258.9 1177.4h0M315.4 996.1h0M312.1 1051.1h0M209.3 1153.1h0M289.3 1051.6h0M276.8 1015.3h0M263.6 1044.5h0M398.3 943.5h0M166.1 1191.0h0M410.9 846.5h0M405.5 918.0h0M254.4 1170.3h0M204.7 1181.7h0M324.6 980.9h0M410.3 851.8h0M298.0 1110.7h0M223.8 1146.2h0M260.3 1034.4h0M256.4 1151.9h0M355.3 889.0h0M284.8 1120.5h0M421.7 968.3h0M363.1 920.3h0M267.7 1094.9h0M217.0 1125.9h0M279.6 1116.3h0M277.2 1034.5h0M241.0 1186.1h0M323.3 1023.2h0M318.6 1005.7h0M331.4 1040.4h0M297.6 1036.8h0M265.5 1127.7h0M285.2 1077.1h0M371.7 973.1h0M307.5 1066.4h0M232.9 1102.0h0M262.9 1139.5h0M287.0 1154.7h0M372.7 973.3h0M385.2 979.1h0M237.9 1182.5h0M267.4 1154.5h0M370.9 965.7h0M354.8 946.0h0M289.0 1017.4h0M413.6 871.9h0M388.8 957.5h0M407.9 894.9h0M203.2 1121.7h0M275.5 1037.0h0M355.4 989.5h0M316.9 1012.5h0M232.4 1129.1h0M245.6 1088.7h0M299.1 1048.1h0M381.6 941.3h0M220.7 1136.2h0M266.0 1153.6h0M383.4 894.9h0M349.1 933.1h0M265.8 1067.2h0M301.2 1044.4h0M407.6 838.3h0M379.6 952.3h0M370.8 901.4h0M184.2 1176.4h0M221.8 1130.6h0M250.5 1168.0h0M253.8 1071.6h0M319.9 1047.5h0M239.9 1167.6h0M231.0 1149.1h0M238.6 1065.1h0M252.1 1154.4h0M512.9 791.9h0M257.0 1052.3h0M251.7 1156.6h0M405.9 925.3h0M268.9 1012.0h0M287.5 1025.5h0M432.2 846.1h0M365.6 969.1h0M384.7 996.7h0M197.9 1178.2h0M244.9 1150.5h0M219.3 1142.5h0M163.4 1179.6h0M424.4 932.0h0M392.2 848.8h0M308.4 1040.3h0M311.5 974.3h0M393.3 921.5h0M422.6 899.0h0M243.1 1161.1h0M387.0 958.8h0M212.5 1127.1h0M225.1 1186.8h0M267.6 1111.4h0M190.8 1178.3h0M287.4 1062.0h0M300.5 1044.6h0M198.2 1111.6h0M195.5 1105.1h0M415.1 959.1h0M515.3 801.3h0M306.0 1047.3h0M261.2 1068.4h0M371.4 941.7h0M281.5 1096.4h0M246.5 1075.2h0M251.2 1138.8h0M249.7 1105.8h0M309.6 1023.9h0M376.1 966.2h0M291.7 1059.0h0M300.6 1027.3h0M373.3 889.9h0M304.2 1030.0h0M273.9 1115.6h0M352.7 934.6h0M265.6 1103.7h0M321.2 1010.8h0M400.1 883.8h0M272.8 1076.0h0M359.2 935.0h0M227.9 1123.1h0M225.9 1174.6h0M380.3 949.4h0M394.1 938.6h0M312.7 1016.6h0M285.6 1037.3h0M213.0 1132.2h0M257.0 1117.1h0M221.7 1110.0h0M231.8 1132.9h0M347.3 956.2h0M386.5 957.2h0M299.6 1112.8h0M387.5 977.0h0M232.8 1131.7h0M195.0 1100.0h0M269.9 1071.0h0M272.3 1089.6h0M421.8 963.5h0M261.1 1051.8h0M445.1 955.0h0M238.6 1062.9h0M295.7 1004.3h0M189.8 1175.9h0M298.0 1045.5h0M206.3 1186.7h0M444.8 952.3h0M343.8 961.6h0M377.0 943.7h0M270.5 1060.5h0M270.1 1112.8h0M261.3 1102.7h0M357.9 925.1h0M313.7 1010.8h0M417.4 915.5h0M223.5 1098.2h0M261.2 1177.4h0M204.2 1083.8h0M210.9 1093.5h0M248.5 1095.8h0M218.4 1115.5h0M405.1 928.1h0M228.0 1100.3h0M287.2 1018.1h0M358.7 950.9h0M346.4 982.8h0M241.7 1092.5h0M273.1 1083.4h0M405.3 933.6h0M283.8 1041.0h0M304.2 1078.0h0M425.0 896.1h0M217.3 1150.2h0M367.7 997.4h0M319.1 1053.8h0M373.7 873.5h0M308.4 1048.4h0M292.5 1031.7h0M244.9 1074.2h0M240.2 1106.6h0M349.1 996.1h0M372.8 940.9h0M195.0 1158.3h0M199.8 1143.8h0M270.6 1099.5h0M301.2 1042.6h0M405.3 979.5h0M275.8 1034.6h0M340.3 1029.8h0" stroke="#0000C0" stroke-width="5.90" stroke-linecap="round" fill="none"/>
<path d="M322.6 1051.1h0M397.7 883.1h0M250.2 1094.5h0M402.0 858.0h0M288.4 1113.7h0M295.8 1106.5h0M320.6 1053.0h0M238.7 1141.8h0M373.4 955.7h0M331.8 1041.9h0M311.9 1018.6h0M309.0 1061.0h0M276.7 1116.6h0M303.5 1114.1h0M410.0 969.4h0M266.1 1121.3h0M180.5 1185.1h0M292.3 1020.5h0M249.6 1105.8h0M322.5 937.2h0M447.2 938.9h0M503.6 816.0h0M233.7 1166.0h0M350.9 1007.0h0M468.9 837.0h0M317.9 1013.3h0M332.2 899.4h0M220.8 1154.1h0M331.1 981.0h0M402.9 869.6h0M296.2 1081.4h0M260.4 1075.1h0M260.5 1129.9h0M342.8 997.2h0M265.9 1183.7h0M313.6 1003.4h0M272.1 1144.2h0M394.3 921.9h0M197.3 1101.3h0M334.5 985.3h0M373.6 972.4h0M254.6 1105.6h0M305.5 1074.9h0M250.2 1144.8h0M250.6 1169.3h0M268.6 1095.1h0M258.5 1115.5h0M228.5 1123.0h0M372.7 907.2h0M242.8 1138.7h0M348.2 925.3h0M255.6 1063.5h0M276.1 1005.1h0M197.9 1164.3h0M319.7 961.1h0M183.1 1180.8h0M306.0 1005.8h0M389.7 982.3h0M429.3 831.9h0M257.9 1093.7h0M388.0 951.7h0M427.6 975.5h0M365.4 852.4h0M400.5 952.8h0M399.4 946.4h0M222.4 1172.6h0M431.7 978.0h0M346.6 904.0h0M307.3 1027.6h0M410.4 969.2h0M277.3 986.8h0M223.7 1112.5h0M198.9 1192.4h0M195.9 1092.4h0M303.9 1012.4h0M241.5 1042.1h0M267.2 1159.7h0M257.1 1115.9h0M292.8 1098.5h0M378.5 884.9h0M408.3 973.7h0M191.9 1135.5h0M241.7 1037.0h0M225.3 1149.5h0M245.5 1095.6h0M433.1 840.4h0M256.9 1111.6h0M346.8 948.9h0M260.7 1145.5h0M322.0 993.5h0M412.6 978.7h0M411.3 838.1h0M330.4 925.5h0M344.5 1005.6h0M285.7 1085.9h0M253.3 1066.2h0M390.5 985.6h0M218.0 1111.5h0M236.7 1181.1h0M217.3 1120.3h0M347.3 921.8h0M234.4 1156.8h0M218.4 1159.5h0M242.2 1167.3h0M269.8 1097.1h0M260.7 1135.7h0M285.9 1044.5h0M320.1 1023.8h0M417.3 919.5h0M258.1 1068.4h0M294.7 1044.8h0M319.5 1037.6h0M451.0 952.4h0M250.6 1167.5h0M233.8 1066.8h0M329.9 1068.6h0M326.5 1056.9h0M355.8 1007.7h0M308.1 1018.0h0M325.3 1010.9h0M266.7 1101.6h0M230.1 1187.8h0M297.7 1053.1h0M239.2 1135.9h0M254.6 1157.6h0M276.8 1102.8h0M192.3 1113.5h0M356.3 1021.4h0M386.7 935.4h0M367.4 980.1h0M261.8 1120.6h0M193.1 1158.3h0M265.7 1150.3h0M268.4 1035.3h0M246.0 1107.5h0M342.0 946.6h0M364.3 992.1h0M215.6 1115.4h0M411.0 986.9h0M388.5 978.6h0M323.8 896.5h0M292.2 990.7h0M458.6 828.1h0M229.2 1168.6h0M293.7 1084.3h0M336.2 998.6h0M191.9 1169.8h0M201.7 1135.7h0M282.1 1082.2h0M337.9 1040.1h0M260.9 1153.9h0M242.1 1170.3h0M231.1 1075.9h0M374.6 921.5h0M259.9 1175.5h0M400.6 994.1h0M243.9 1125.6h0M250.8 1104.0h0M261.5 1039.8h0M300.1 1091.9h0M203.5 1157.5h0M222.9 1112.5h0M308.5 996.5h0M257.8 1111.2h0M290.8 1101.6h0M372.1 992.9h0M351.3 929.8h0M365.5 884.0h0M356.5 958.8h0M278.8 1141.5h0M383.5 833.9h0M510.2 794.5h0M361.3 1002.5h0M230.6 1126.7h0M213.0 1116.1h0M328.4 1073.4h0M313.5 1030.0h0M305.1 1050.2h0M219.4 1137.3h0M168.3 1167.1h0M297.7 1080.6h0M216.4 1146.4h0M308.8 1105.5h0M388.1 987.7h0M249.9 1166.6h0M270.8 1097.3h0M277.3 1126.7h0M377.0 957.3h0M250.6 1111.7h0M261.1 1085.3h0M224.1 1107.6h0M234.9 1099.0h0M229.5 1147.5h0M366.5 904.7h0M207.9 1114.1h0M305.5 1052.6h0M314.0 950.9h0M281.4 1100.4h0M184.9 1136.1h0M231.6 1106.5h0M398.8 924.4h0M267.4 1121.8h0M266.2 1107.2h0M360.7 874.8h0M255.1 1041.5h0M346.7 1001.0h0M232.6 1139.4h0M389.6 861.8h0M298.5 1009.0h0M197.1 1146.1h0M260.5 1163.8h0M402.2 992.2h0M334.3 994.3h0M266.1 1022.9h0M309.9 1018.5h0M372.4 979.9h0M404.1 984.3h0M373.3 888.6h0M345.6 1003.4h0M352.0 989.3h0M215.1 1119.7h0M302.5 1012.6h0M361.2 872.1h0M281.1 1044.3h0M228.7 1125.5h0M193.3 1118.0h0M304.9 1062.8h0M242.9 1037.4h0M276.5 1037.2h0M252.7 1093.7h0M425.3 962.8h0M249.7 1143.8h0M246.0 1121.0h0M280.6 1098.9h0M308.6 1107.0h0M260.1 1041.0h0M280.2 1049.9h0M410.9 969.2h0M268.7 1082.1h0M327.0 1028.9h0M314.0 1062.6h0M223.4 1156.9h0M342.7 942.8h0M260.2 1121.4h0M245.1 1129.6h0M267.8 1050.1h0M281.5 1136.5h0M344.0 1027.6h0M379.6 970.3h0M361.2 982.9h0M428.2 943.8h0M176.5 1159.7h0M351.8 951.3h0M335.7 920.2h0M367.0 957.2h0M254.2 1097.7h0M292.3 1074.8h0M204.0 1192.6h0M415.9 877.2h0M289.5 1043.8h0M236.5 1069.2h0M201.4 1123.7h0M288.6 1088.3h0M274.8 1052.7h0M368.4 942.1h0M328.4 935.6h0M272.1 1118.8h0M241.8 1163.9h0M327.7 1002.8h0M349.9 981.4h0M279.9 1130.0h0M420.9 926.5h0M232.5 1057.5h0M252.2 1041.4h0M403.7 922.4h0M302.7 1006.9h0M238.3 1071.7h0M271.1 1121.0h0M260.4 1026.3h0M370.3 961.4h0M423.1 916.3h0M267.6 1088.8h0M255.8 1106.5h0M273.6 1149.7h0M220.2 1148.2h0M389.4 958.2h0M326.6 1006.7h0M274.9 1066.4h0M212.4 1175.7h0M380.6 921.6h0M364.5 999.3h0M303.5 1091.4h0M306.2 1058.7h0M357.7 945.9h0M286.0 1039.0h0M306.3 1046.1h0M198.2 1131.8h0M216.3 1091.7h0M237.1 1143.6h0M266.2 1143.6h0M456.9 962.7h0M428.9 831.9h0M282.5 1034.2h0M320.8 1055.7h0M407.2 947.3h0M343.3 1002.4h0M262.2 1067.6h0M525.1 792.4h0M263.3 1038.8h0M247.7 1090.8h0M294.9 1041.4h0M277.5 1104.5h0M391.0 988.3h0M318.3 1097.1h0M404.3 989.5h0M395.5 893.0h0M449.1 959.0h0M244.8 1103.5h0M350.7 960.4h0M359.9 925.8h0M209.0 1143.5h0M402.6 872.9h0M308.3 1067.0h0M295.5 1043.9h0M314.7 1106.4h0M246.5 1120.9h0M240.6 1133.6h0M206.6 1114.5h0M400.4 953.0h0M194.5 1169.9h0M261.9 1085.1h0M254.3 1127.6h0M170.7 1153.4h0M348.7 971.5h0M236.9 1129.6h0M253.5 1163.3h0M228.3 1143.6h0M362.4 918.5h0M238.8 1136.8h0M196.2 1111.9h0M180.9 1184.9h0M331.7 987.4h0M297.1 1070.3h0M199.9 1134.5h0M181.2 1177.9h0M218.7 1113.8h0M208.1 1122.2h0M205.3 1121.8h0M225.6 1174.5h0M256.4 1145.8h0M234.5 1075.7h0M283.2 1020.0h0M380.6 900.3h0M293.4 1080.7h0M325.8 1028.7h0M238.8 1146.6h0M331.7 978.1h0M206.3 1150.4h0M353.4 922.6h0M317.5 929.8h0M213.4 1154.1h0M399.2 943.6h0M194.7 1127.2h0M268.6 1022.7h0M434.4 967.3h0M240.5 1114.0h0M266.3 1094.0h0M335.0 984.9h0M308.7 1020.3h0M267.6 1077.0h0M225.9 1143.4h0M255.7 1034.5h0M214.6 1140.9h0M262.8 1145.9h0M389.8 954.8h0M409.7 899.4h0M173.1 1186.0h0M340.1 1037.8h0M352.2 989.3h0M198.1 1127.9h0M391.6 906.3h0M302.3 1057.0h0M297.1 1084.1h0M287.6 1076.9h0M211.9 1162.6h0M244.1 1140.4h0M240.6 1187.3h0M402.6 949.7h0M473.1 820.5h0M194.3 1149.7h0M300.3 1022.3h0M392.2 884.6h0M424.3 905.5h0M370.6 920.4h0M268.6 1163.4h0M319.8 1052.2h0M275.9 1046.8h0M347.9 870.6h0M249.5 1079.3h0M276.8 1047.2h0M321.7 1009.2h0M254.6 1130.6h0M299.1 1003.9h0M283.3 1144.8h0M215.2 1165.4h0M176.3 1171.2h0M279.0 1059.0h0M394.0 949.9h0M297.8 1047.3h0M257.8 1123.2h0M314.8 1016.3h0M406.3 901.9h0M194.0 1162.9h0M257.4 1040.7h0M295.2 1071.3h0M312.6 992.7h0M329.8 996.3h0M458.3 845.8h0M362.8 910.6h0M297.7 1005.2h0M239.3 1119.5h0M301.0 1076.6h0M284.5 1066.9h0M406.9 884.6h0M275.1 1079.5h0M419.2 910.0h0M264.3 1156.8h0M242.7 1165.5h0M329.3 972.3h0M243.4 1121.4h0M215.1 1172.2h0M229.4 1134.7h0M297.0 1091.9h0M392.2 895.5h0M354.4 997.6h0M346.1 1015.5h0M368.2 883.8h0M333.3 1057.3h0M268.6 1021.8h0M424.5 897.7h0M225.1 1175.1h0M378.0 978.1h0M364.4 968.2h0M256.5 1182.5h0M291.3 1113.4h0M275.1 1106.0h0M362.8 906.0h0M269.2 1160.1h0M412.8 864.3h0M373.6 906.8h0M283.3 999.8h0M431.3 903.7h0M382.2 918.0h0M414.3 953.1h0M428.3 851.9h0M288.0 1062.4h0M265.7 1082.6h0M248.7 1154.1h0M295.7 1071.5h0M222.9 1104.5h0M316.4 1031.8h0M370.0 941.5h0M257.5 1162.1h0M341.1 1035.5h0M413.6 906.1h0M272.7 1171.2h0M420.3 961.1h0M282.0 1023.0h0M387.9 865.1h0M270.6 1094.6h0M292.9 982.2h0M237.9 1098.2h0M391.6 992.8h0M374.8 970.4h0M252.8 1109.8h0M292.1 1073.3h0M353.4 982.0h0M381.0 891.7h0M251.2 1098.0h0M264.6 1168.5h0M383.6 962.5h0M361.4 914.3h0M265.7 1015.4h0M230.1 1188.3h0M241.2 1102.1h0M389.3 978.0h0M211.5 1135.0h0M288.5 1000.1h0M297.8 1121.3h0M259.3 1096.3h0M370.4 972.3h0M302.1 1057.3h0M426.4 952.6h0M477.2 825.8h0M254.9 1117.9h0M275.6 1088.6h0M249.0 1061.6h0M410.8 869.6h0M213.9 1136.7h0M248.9 1040.9h0M280.0 1064.8h0M243.6 1065.7h0M415.7 857.5h0M406.1 833.1h0M404.3 916.1h0M274.3 1028.9h0M265.3 1104.9h0M195.4 1107.9h0M366.7 839.0h0M267.8 1088.6h0M312.9 1081.8h0M396.8 920.8h0M401.8 904.3h0M475.1 814.4h0M290.6 1028.4h0M307.1 972.2h0M227.9 1142.7h0M348.8 981.7h0M260.4 1085.7h0M267.6 1116.9h0M300.4 1009.1h0M409.3 989.5h0M292.2 977.1h0M273.5 1178.2h0M388.3 903.2h0M403.8 861.2h0M281.0 1034.4h0M314.2 976.1h0M230.5 1186.4h0M370.3 966.8h0M508.3 805.0h0M372.5 847.5h0M319.7 988.1h0M400.6 890.5h0M366.7 863.6h0M223.3 1173.4h0M268.7 1091.5h0M274.3 1059.9h0M382.7 1001.5h0M256.5 1164.9h0M275.4 1134.3h0M278.7 1142.7h0M260.4 1121.4h0M374.5 951.9h0M300.0 1115.9h0M232.3 1159.2h0M407.9 952.8h0M211.7 1151.5h0M282.3 1047.8h0M236.6 1075.1h0M410.8 918.6h0M380.4 878.8h0M368.8 909.9h0M449.1 853.7h0M412.9 927.1h0M270.8 1127.1h0M163.4 1191.4h0M322.5 1019.2h0M189.8 1134.7h0M378.8 972.8h0M304.0 1023.6h0M377.9 844.2h0M322.0 1027.1h0M255.4 1043.4h0M306.6 1009.4h0M304.7 1100.6h0M374.0 916.4h0M216.0 1164.8h0M362.9 901.4h0M350.4 953.9h0M263.8 1059.9h0M361.6 1008.1h0M290.6 1059.8h0M263.9 1082.1h0M277.8 1079.9h0M406.8 911.7h0M235.4 1104.6h0M217.9 1162.5h0M248.6 1096.4h0M289.1 1148.2h0M281.1 1049.6h0M434.8 902.2h0M331.5 1013.3h0M196.6 1169.1h0M284.7 1002.1h0M333.3 1060.2h0M373.7 965.8h0M268.4 1096.7h0M293.0 1051.6h0M211.5 1150.3h0M273.4 1102.4h0M392.2 846.4h0M267.7 1168.2h0M264.8 1173.7h0M297.4 1123.6h0M243.9 1076.1h0M244.9 1092.9h0M283.7 1083.2h0M338.8 974.5h0M318.4 1033.4h0M382.4 970.5h0M208.4 1104.2h0M356.0 946.5h0M410.8 945.8h0M237.6 1101.6h0M278.7 1051.4h0M419.4 970.9h0M246.6 1109.1h0M173.5 1165.3h0M227.4 1158.0h0M230.1 1118.9h0M206.0 1152.9h0M199.9 1110.4h0M374.5 930.2h0M234.5 1180.4h0M292.1 1137.3h0M248.4 1169.3h0M213.1 1123.0h0M287.3 1038.8h0M214.1 1145.0h0M329.4 1062.0h0M227.4 1192.0h0M372.8 927.9h0M309.3 990.3h0M367.9 940.0h0M399.0 969.6h0M446.1 970.4h0M274.6 1064.7h0M219.6 1156.2h0M187.3 1150.4h0M361.8 928.5h0M375.7 915.0h0M182.3 1167.7h0M371.8 968.8h0M297.8 1058.0h0M278.1 1117.0h0M259.7 1105.2h0M313.9 1004.8h0M362.7 985.1h0M252.4 1107.7h0M366.4 977.8h0M321.0 1037.7h0M322.0 982.2h0M431.6 954.1h0M212.6 1160.9h0M278.7 1072.5h0M217.3 1108.0h0M321.3 1025.5h0M450.9 837.4h0M248.7 1113.1h0M276.2 1060.8h0M311.0 994.6h0M412.5 925.6h0M252.7 1106.2h0M263.7 1021.9h0M473.0 824.2h0M246.7 1133.0h0M294.0 1028.1h0M442.6 945.8h0M405.3 934.4h0M396.3 906.6h0M238.3 1117.5h0M413.8 865.2h0M278.9 1046.9h0M275.2 1040.4h0M328.7 943.1h0M410.6 976.1h0M281.2 1124.2h0M402.6 932.3h0M212.4 1122.7h0M194.4 1143.5h0M233.0 1118.2h0M325.2 988.3h0M402.3 862.7h0M225.8 1120.5h0M184.8 1161.5h0M301.8 1107.8h0M407.6 954.9h0M329.7 902.1h0M219.0 1174.9h0M226.2 1100.4h0M276.1 1033.0h0M281.4 1050.9h0M322.7 1011.0h0M407.6 949.1h0M225.3 1161.6h0M208.5 1098.5h0M416.4 948.6h0M176.8 1157.3h0M434.0 954.1h0M418.6 879.8h0M268.3 1025.9h0M246.6 1116.5h0M274.0 1109.5h0M417.4 899.3h0M311.1 994.1h0M415.7 839.4h0M199.7 1122.9h0M227.0 1159.5h0M315.1 1037.6h0M264.9 1126.1h0M266.1 1040.3h0M369.9 910.7h0M387.4 855.2h0M288.5 1055.3h0M236.8 1136.2h0M223.4 1136.5h0M369.5 940.7h0M373.2 982.8h0M267.3 1086.6h0M369.4 912.5h0M364.7 945.1h0M384.2 1002.4h0M528.8 796.0h0M364.2 902.7h0M273.6 1032.8h0M428.0 941.3h0M458.7 950.6h0M278.9 1079.7h0M354.6 949.0h0M283.7 1151.0h0M238.6 1128.1h0M288.8 1038.8h0M428.4 821.7h0M194.5 1160.8h0M389.1 946.7h0M267.0 1150.4h0M209.0 1119.3h0M455.1 829.6h0M439.0 975.6h0M332.7 1018.9h0M392.0 877.6h0M353.3 915.7h0M245.2 1146.3h0M215.7 1180.1h0M375.1 846.4h0M223.7 1111.9h0M234.3 1130.6h0M333.4 985.7h0M193.4 1171.1h0M291.3 1059.7h0M212.6 1116.5h0M431.2 963.3h0M218.6 1131.2h0" stroke="#0000F0" stroke-width="5.90" stroke-linecap="round" fill="none"/>
<path d="M331.9 1030.8h0M443.6 849.9h0M200.3 1141.2h0M238.7 1112.4h0M294.8 1065.0h0M414.3 988.5h0M264.1 1041.0h0M334.3 950.6h0M198.8 1129.0h0M332.5 989.5h0M267.7 1043.3h0M184.4 1114.8h0M364.9 970.0h0M262.2 1048.7h0M444.4 944.0h0M388.9 1000.6h0M218.2 1086.7h0M291.4 1131.2h0M221.5 1094.4h0M206.0 1142.7h0M342.9 985.2h0M295.8 1053.5h0M393.6 967.0h0M236.2 1155.5h0M482.7 836.3h0M257.1 1021.9h0M226.2 1163.5h0M349.6 948.9h0M303.1 1047.0h0M273.2 1039.8h0M408.8 878.2h0M320.5 1032.3h0M215.3 1145.9h0M342.8 1006.2h0M316.4 1069.7h0M383.9 964.8h0M265.1 1071.1h0M244.3 1128.8h0M283.4 1141.0h0M291.3 1089.3h0M246.0 1096.1h0M405.5 924.8h0M213.9 1123.8h0M313.4 990.8h0M201.9 1182.4h0M268.6 1112.9h0M366.6 856.8h0M312.0 1001.6h0M256.6 1058.9h0M410.0 948.5h0M281.1 1022.5h0M365.8 876.9h0M389.1 981.2h0M271.8 1021.8h0M246.6 1031.4h0M264.7 1038.7h0M216.1 1126.7h0M305.2 1084.3h0M475.2 833.2h0M196.3 1163.9h0M238.2 1147.1h0M300.8 998.2h0M265.4 1115.2h0M262.1 1065.6h0M229.9 1120.6h0M286.6 1097.0h0M213.3 1142.3h0M226.7 1069.5h0M422.0 889.7h0M279.4 1116.4h0M285.4 1054.9h0M224.2 1150.0h0M260.8 1081.0h0M392.7 841.1h0M238.9 1138.1h0M372.0 861.6h0M335.1 1006.4h0M266.9 1106.9h0M305.2 1062.6h0M178.2 1157.4h0M299.4 979.9h0M255.0 1137.5h0M226.6 1110.1h0M354.2 949.9h0M266.8 1093.4h0M349.5 928.1h0M275.5 1160.6h0M187.6 1168.3h0M409.7 944.5h0M269.2 1155.8h0M275.5 1064.1h0M267.5 1183.9h0M455.2 848.4h0M501.5 793.9h0M202.8 1175.7h0M298.7 1046.1h0M175.3 1167.9h0M172.7 1174.7h0M236.9 1114.4h0M348.7 879.7h0M323.1 987.4h0M298.7 1124.4h0M212.1 1093.1h0M327.2 1073.3h0M401.7 970.0h0M279.7 1002.3h0M272.2 1067.4h0M267.8 1071.3h0M255.9 1147.7h0M301.0 1026.4h0M291.5 1086.4h0M248.3 1072.1h0M252.6 1030.8h0M257.0 1167.5h0M283.5 1026.2h0M239.5 1100.7h0M418.2 962.7h0M405.8 941.4h0M257.4 1137.7h0M378.7 962.1h0M382.0 863.6h0M282.2 1074.4h0M274.8 1148.7h0M336.1 1016.6h0M337.1 964.1h0M210.9 1150.8h0M281.8 1028.3h0M410.8 947.5h0M239.0 1164.9h0M223.5 1128.8h0M183.2 1178.6h0M234.4 1189.2h0M391.7 913.0h0M266.9 1163.1h0M187.1 1115.7h0M275.2 1096.4h0M353.2 942.4h0M222.7 1159.3h0M241.6 1135.9h0M262.2 1065.8h0M341.5 1001.1h0M232.6 1120.4h0" stroke="#0030FF" stroke-width="5.90" stroke-linecap="round" fill="none"/>
<path d="M181.9 1169.3h0M185.5 1169.9h0M189.2 1169.2h0M179.0 1173.7h0M182.0 1173.4h0M186.1 1173.0h0M189.6 1173.5h0M175.7 1176.7h0M178.3 1177.1h0M182.1 1176.9h0M186.2 1176.7h0M189.0 1177.2h0M192.6 1177.3h0M171.9 1180.8h0M175.5 1180.5h0M179.2 1180.2h0M182.1 1180.9h0M186.1 1180.9h0M189.0 1180.5h0M192.7 1180.2h0M171.3 1184.1h0M175.6 1184.4h0M178.5 1184.0h0M182.0 1183.6h0M185.6 1183.7h0M189.1 1184.5h0M171.5 1187.7h0M175.5 1187.6h0M178.8 1187.5h0M182.5 1187.1h0M186.2 1187.3h0M189.0 1187.5h0M193.3 1187.8h0M171.6 1190.6h0M175.0 1191.0h0M179.3 1190.9h0M182.8 1191.3h0M186.2 1191.5h0M172.1 1194.4h0M175.7 1194.6h0" stroke="#0030FF" stroke-width="5.02" stroke-linecap="round" fill="none"/>
<path d="M175.7 1183.1h0M179.4 1183.4h0M182.1 1183.0h0M172.7 1186.2h0M176.2 1186.4h0M179.2 1186.0h0M182.5 1186.4h0M173.4 1188.6h0M175.7 1188.6h0M179.3 1189.5h0M181.5 1188.9h0M172.4 1191.4h0M176.3 1192.2h0M178.5 1192.2h0M182.4 1191.8h0" stroke="#00A0FF" stroke-width="5.02" stroke-linecap="round" fill="none"/>
<path d="M175.4 1160.8h0M178.1 1161.3h0M181.0 1160.6h0M184.6 1161.4h0M178.6 1164.5h0M181.3 1163.4h0M184.0 1164.1h0M178.4 1167.1h0M181.4 1167.3h0M184.4 1166.7h0M181.3 1170.3h0M183.6 1169.7h0" stroke="#00E5F7" stroke-width="5.02" stroke-linecap="round" fill="none"/>
<path d="M170.2 1168.5h0M170.5 1171.3h0M173.5 1171.1h0M167.4 1173.7h0M170.3 1174.2h0M173.7 1173.1h0M165.3 1175.8h0M167.3 1176.3h0M171.1 1176.4h0M173.4 1176.2h0M162.0 1179.3h0M165.0 1179.5h0M167.7 1179.3h0M170.1 1179.5h0M172.9 1178.8h0M162.3 1181.7h0M164.6 1181.7h0M167.4 1182.6h0M170.3 1182.3h0M159.5 1185.1h0M162.7 1184.7h0M164.5 1184.6h0M167.6 1185.0h0M171.0 1185.2h0M159.0 1187.3h0M162.8 1187.6h0M165.1 1188.0h0M167.5 1188.0h0M157.1 1190.8h0M159.1 1191.0h0M162.2 1190.3h0M165.5 1190.6h0M167.5 1190.5h0M154.3 1193.5h0M156.8 1193.2h0M159.6 1193.7h0M162.7 1192.9h0M164.7 1193.0h0M167.5 1193.0h0M153.8 1195.8h0M156.8 1195.8h0M159.0 1195.6h0M162.7 1196.4h0M164.8 1196.4h0" stroke="#52FFA5" stroke-width="5.02" stroke-linecap="round" fill="none"/>
<path d="M165.2 1180.9h0M167.8 1180.4h0M170.2 1180.9h0M162.0 1183.5h0M165.1 1183.4h0M167.5 1183.2h0M162.3 1185.8h0M164.3 1185.7h0M167.0 1186.2h0M159.4 1188.9h0M162.0 1187.8h0M164.2 1188.3h0M167.7 1187.9h0M159.4 1191.0h0M161.9 1191.4h0M165.3 1191.0h0M157.4 1193.7h0" stroke="#E6FF10" stroke-width="5.02" stroke-linecap="round" fill="none"/>
<path d="M186.0 1160.4h0M183.3 1162.8h0M185.7 1162.8h0M185.0 1165.3h0" stroke="#E6FF10" stroke-width="5.02" stroke-linecap="round" fill="none"/>
<path d="M174.9 1168.6h0M177.1 1168.4h0M179.6 1168.8h0M182.2 1168.2h0M172.8 1171.3h0M175.2 1170.5h0M177.5 1171.4h0M180.5 1170.9h0M172.6 1173.6h0M175.3 1173.2h0M178.1 1173.6h0M172.0 1175.7h0M174.5 1176.6h0M172.9 1178.7h0M175.2 1178.0h0" stroke="#F31A00" stroke-width="5.02" stroke-linecap="round" fill="none"/>
<path d="M177.8 1174.5h0M175.1 1176.7h0M177.2 1176.5h0" stroke="#FF7A00" stroke-width="5.02" stroke-linecap="round" fill="none"/>
<path d="M534.3 780.4h0M539.7 780.2h0M512.4 783.0h0M515.8 782.9h0M519.4 782.8h0M522.0 783.1h0M524.7 782.6h0M528.3 783.5h0M530.8 783.0h0M533.9 783.6h0M536.7 783.6h0M539.6 783.0h0M513.6 786.5h0M515.4 786.6h0M518.6 786.1h0M522.1 786.2h0M524.7 786.3h0M528.4 786.0h0M531.6 785.5h0M533.7 786.5h0M537.6 785.8h0M540.3 786.6h0M510.6 789.1h0M513.4 788.9h0M516.6 789.2h0M519.5 789.1h0M522.6 788.5h0M524.7 789.4h0M528.0 789.4h0M530.7 788.6h0M533.7 789.1h0M536.7 788.4h0M540.4 788.6h0M512.5 792.3h0M516.3 792.1h0M518.6 792.5h0M522.4 791.9h0M524.8 792.4h0M527.5 791.6h0M530.6 792.2h0M534.0 792.1h0M536.4 791.6h0M539.8 792.1h0M513.5 795.5h0M516.5 794.6h0M519.1 794.7h0M521.7 795.0h0M525.3 794.7h0M528.0 795.1h0M531.2 795.6h0M533.9 795.5h0M536.8 795.3h0M540.1 795.6h0M515.5 797.6h0M518.9 797.8h0M522.4 797.9h0M525.5 797.7h0M528.4 798.1h0M530.8 797.6h0M534.4 797.8h0M537.5 797.9h0M540.1 798.4h0" stroke="#0010FF" stroke-width="5.02" stroke-linecap="round" fill="none"/>
<path d="M530.5 780.6h0M519.1 783.3h0M521.6 782.8h0M525.0 783.2h0M528.1 782.5h0M531.3 782.6h0M533.8 782.6h0M519.3 786.2h0M521.8 785.5h0M524.6 785.9h0M527.8 785.7h0M531.4 785.4h0M522.5 789.6h0M519.3 791.6h0M521.7 792.0h0" stroke="#00F0E8" stroke-width="5.02" stroke-linecap="round" fill="none"/>
<path d="M529.3 792.6h0M523.1 794.6h0M526.3 795.5h0M528.5 794.7h0M531.8 794.7h0M534.7 794.6h0M525.9 797.9h0M529.3 797.7h0" stroke="#00A8FF" stroke-width="5.02" stroke-linecap="round" fill="none"/>
<path d="M521.7 786.0h0M524.7 786.1h0M526.7 786.1h0M519.7 788.7h0M521.8 788.4h0M524.2 788.8h0M527.5 788.2h0" stroke="#8CFF70" stroke-width="5.02" stroke-linecap="round" fill="none"/>
<path d="M528.6 786.2h0M531.2 786.2h0M530.8 788.9h0M533.6 788.6h0M535.7 788.1h0" stroke="#F5FF00" stroke-width="5.02" stroke-linecap="round" fill="none"/>
<path d="M466.2 826.2h0M469.1 826.6h0M472.6 827.2h0M475.6 826.7h0M466.0 829.8h0M469.0 829.5h0M471.9 829.4h0M475.2 830.0h0M477.9 829.2h0M466.4 832.8h0M468.9 832.9h0M472.3 833.0h0M475.0 832.4h0M478.4 832.2h0M465.8 835.6h0M469.2 835.7h0M472.1 836.2h0M475.4 835.5h0M478.1 835.2h0M465.7 838.2h0M469.2 838.6h0M472.6 838.6h0M475.3 838.5h0M478.3 838.6h0M469.7 841.7h0M472.7 842.0h0M475.1 841.5h0M478.7 841.8h0" stroke="#0090FF" stroke-width="5.02" stroke-linecap="round" fill="none"/>
<path d="M469.2 829.8h0M468.8 832.3h0M472.3 832.7h0M469.4 834.8h0M471.9 835.4h0M475.3 835.3h0M469.6 838.1h0M472.0 838.4h0M474.4 838.3h0" stroke="#30FFC8" stroke-width="5.02" stroke-linecap="round" fill="none"/>
<path d="M468.3 837.2h0M470.9 837.4h0" stroke="#80FF80" stroke-width="5.02" stroke-linecap="round" fill="none"/>
<path d="M397.6 852.0h0M394.6 854.1h0M398.6 854.4h0M401.0 854.2h0M403.9 854.9h0M406.7 854.0h0M409.4 854.5h0M394.7 857.2h0M397.5 857.2h0M401.5 857.5h0M403.8 857.6h0M407.1 857.1h0" stroke="#0080FF" stroke-width="5.02" stroke-linecap="round" fill="none"/>
<path d="M457.9 819.2h0M461.6 819.3h0M464.3 819.0h0M455.8 822.7h0M457.9 822.0h0M461.2 822.6h0" stroke="#0070FF" stroke-width="5.02" stroke-linecap="round" fill="none"/>
<path d="M134.7 1211.3h0" stroke="#7DFF7A" stroke-width="5.90" stroke-linecap="round" fill="none"/>
<path d="M1118.3 1105.4h0M1093.1 956.2h0M884.2 1131.2h0M971.0 1051.0h0M1193.5 999.6h0M1090.7 1131.6h0M1022.7 983.7h0M1032.5 1040.8h0M1174.2 1085.0h0M1096.0 1101.7h0M1017.5 1137.4h0M1161.4 1117.8h0M1035.1 983.9h0M1238.2 968.1h0M1171.6 1060.6h0M1012.4 1131.9h0M1169.9 1043.9h0M1216.7 945.1h0M1207.7 861.3h0M929.7 1156.1h0M1195.7 976.4h0M1001.9 1058.7h0M939.2 1078.2h0M1068.4 1161.5h0M1138.0 896.3h0M1208.1 969.2h0M1164.1 931.7h0M942.6 1160.0h0M1150.3 906.0h0M1090.6 1022.0h0M1125.9 991.5h0M1139.2 901.0h0M919.6 1079.8h0M1069.0 1114.1h0M1171.3 981.7h0M967.0 1045.4h0M957.7 1089.2h0M1162.4 1145.8h0M964.2 1065.2h0M1135.2 1047.1h0M1135.2 1154.8h0M1019.7 991.3h0M1192.9 1018.4h0M1201.8 856.1h0M1210.4 847.5h0M1067.8 968.5h0M1159.8 902.9h0M919.1 1083.2h0M1054.0 1002.3h0M935.4 1069.7h0M1161.0 1155.4h0M1018.3 1149.1h0M1135.4 978.4h0M1028.2 1121.0h0M1179.7 1039.2h0M983.6 1045.5h0M990.4 1162.7h0M1000.7 1065.9h0M1172.3 1065.2h0M972.8 1146.7h0M1028.5 1048.8h0M1032.0 1009.5h0M956.1 1120.5h0M1149.6 889.0h0M1163.1 873.7h0M884.3 1166.4h0M1043.4 1090.5h0M956.9 1108.2h0M1173.1 892.3h0M1039.0 1170.8h0M1139.0 997.2h0M1173.4 901.3h0M944.2 1092.7h0M1167.6 900.5h0M917.4 1085.3h0M1248.4 946.4h0M966.5 1058.0h0M1073.5 1005.8h0M1024.2 977.5h0M1029.9 1052.8h0M1114.5 1027.8h0M1208.1 976.6h0M1256.8 980.1h0M1038.7 969.4h0M1186.2 866.8h0M1183.6 925.7h0M1090.4 1077.5h0M1054.9 1063.9h0M1054.1 1017.1h0M1158.2 877.5h0M970.5 1035.2h0M1153.9 988.1h0M894.5 1179.3h0M1214.5 872.9h0M917.8 1168.7h0M1124.7 915.2h0M981.0 1118.7h0M1097.6 1119.7h0M1165.6 1084.6h0M1264.2 938.2h0M1209.4 936.7h0M1234.5 955.3h0M1100.1 1110.8h0M1219.7 985.2h0M980.5 1162.7h0M1153.0 1112.7h0M1059.6 1116.1h0M1217.1 853.5h0M1169.1 1054.1h0M1199.4 1006.1h0M1069.4 1154.5h0M1017.1 1165.2h0M1177.7 918.7h0M1134.8 916.8h0M1080.9 937.5h0M1236.7 936.3h0M1001.2 995.7h0M987.9 1118.6h0M1197.6 959.8h0M1006.0 1061.8h0M1183.5 928.1h0M988.4 1164.9h0M1227.2 921.4h0M1093.0 1099.3h0M1025.7 1109.7h0M1016.0 1032.9h0M1117.0 1039.1h0M1081.7 1098.4h0M1167.7 1121.5h0M1177.5 927.3h0M1174.5 890.0h0M980.9 1138.1h0M1257.3 982.2h0M1102.7 915.5h0M1025.6 1168.6h0M887.3 1124.1h0M1126.2 1017.6h0M1167.3 909.4h0M1056.0 1016.4h0M1013.7 1006.0h0M1185.8 934.9h0M1135.6 912.1h0M1155.3 1056.3h0M961.3 1177.3h0M1134.0 998.6h0M1109.4 970.3h0M951.6 1048.5h0M1193.9 945.1h0M1027.5 1156.6h0M1031.7 1026.2h0M1070.4 971.9h0M1039.2 1004.6h0M1051.2 1039.2h0M1049.0 998.5h0M1069.6 985.2h0M1126.0 1144.3h0M1131.4 976.2h0M1252.5 945.1h0M944.4 1062.9h0M1125.2 1033.4h0M1171.5 1054.6h0M1022.2 1163.9h0M1076.8 941.1h0M1188.7 1050.9h0M1140.8 1098.9h0M974.3 1130.2h0M1157.0 959.4h0M880.8 1177.0h0M986.6 1040.5h0M1228.0 971.7h0M1208.1 852.8h0M1078.4 1052.8h0M997.9 1102.5h0M1171.0 997.8h0M1075.4 979.2h0M1057.1 1112.4h0M1093.7 968.3h0M1089.1 929.0h0M1123.4 952.5h0M986.2 1082.8h0M1166.9 1149.1h0M901.8 1120.9h0M1010.8 1094.2h0M1162.9 904.9h0M1055.7 963.8h0M1225.4 908.3h0M1102.2 960.5h0M1129.4 951.1h0M1093.5 1081.2h0M925.3 1076.6h0M1209.1 942.8h0M1134.6 921.6h0M958.4 1104.8h0M938.1 1073.1h0M948.6 1088.4h0M1140.2 967.2h0M1067.6 1149.8h0M1153.4 1021.4h0M1050.6 964.6h0M1137.0 1007.9h0M893.9 1154.8h0M1045.1 1003.5h0M1131.5 1067.8h0M1215.0 922.0h0M1128.0 1054.6h0M1170.7 869.9h0M1177.3 943.8h0M1097.2 1085.4h0M1218.7 1019.4h0M1166.6 898.4h0M1115.7 1134.2h0M1081.5 1038.5h0M1215.6 937.2h0M1241.8 975.1h0M1036.0 1028.7h0M959.9 1169.7h0M1010.0 1118.9h0M1140.6 978.9h0M1202.3 876.1h0M1161.6 1150.2h0M1153.5 1095.7h0M1230.1 957.8h0M1096.8 928.7h0M963.2 1127.4h0M1211.1 928.2h0M1121.6 936.7h0M1158.4 884.9h0M1095.0 1014.6h0M1185.3 985.4h0M1227.1 873.0h0M1109.9 947.2h0M983.2 1137.0h0M958.6 1101.9h0M1249.7 959.9h0M1070.9 1050.7h0M1216.0 947.1h0M1152.8 1126.5h0M1004.4 1176.6h0M935.2 1100.6h0M1078.8 1120.3h0M1092.1 1050.1h0M1153.5 1147.4h0M1000.9 1157.0h0M1096.0 929.4h0M1037.2 1144.8h0M1181.7 888.1h0M1028.7 1144.2h0M951.6 1130.6h0M1152.0 956.8h0M998.1 1064.7h0M1086.9 1156.6h0M1251.1 986.1h0M914.7 1165.6h0M1170.2 1116.9h0M1039.0 1115.9h0M1180.3 1036.4h0M1116.2 1041.5h0M884.5 1167.9h0M1258.7 955.6h0M1118.9 984.6h0M1138.1 1043.2h0M996.3 1146.6h0M1097.7 1122.0h0M1183.4 903.1h0M1197.8 932.3h0M1119.4 1035.5h0M1216.2 928.4h0M1026.8 980.8h0M1061.2 1167.7h0M1130.2 1096.6h0M1131.0 1134.0h0M1174.2 958.7h0M978.6 1090.1h0M1061.3 953.3h0M1022.7 1166.2h0M931.7 1092.8h0M1161.1 1077.1h0M1192.9 928.4h0M1090.3 1013.0h0M924.2 1178.6h0M1187.6 1010.9h0M1085.9 938.9h0M955.4 1167.0h0M1148.6 1054.6h0M921.2 1069.1h0M1178.3 877.0h0M1005.1 1123.5h0M1071.4 1137.0h0M1253.4 985.2h0M1166.1 1085.8h0M1196.1 994.9h0M1004.2 1117.8h0M1075.6 990.7h0M1194.8 940.6h0M1166.3 1131.2h0M921.2 1076.3h0M1048.0 1079.6h0M1092.8 984.7h0M1123.4 981.6h0M1061.6 1061.1h0M1090.6 924.6h0M916.2 1071.2h0M1077.6 1040.8h0M1101.7 1152.4h0M1177.2 1058.3h0M1147.5 1081.2h0M1229.4 1009.0h0M1152.3 983.7h0M996.9 1066.2h0M1216.3 940.2h0M1141.7 1144.5h0M1214.9 1033.4h0M1143.2 1136.6h0M1191.1 1054.1h0M1019.6 984.4h0M925.8 1078.1h0M1178.0 1060.8h0M1188.1 1036.9h0M1068.0 1034.2h0M1110.3 1091.2h0M1196.1 967.5h0M1098.0 952.3h0M931.2 1124.1h0M1109.6 923.9h0M1167.4 1026.2h0M1207.5 989.3h0M1103.7 938.6h0M1135.6 1114.6h0M1112.2 1104.9h0M1047.9 1130.9h0M1109.2 1137.1h0M1208.0 900.4h0M916.7 1169.4h0M926.2 1134.3h0M1006.2 995.8h0M1118.0 1012.4h0M1146.5 1046.3h0M1049.5 1082.8h0M1116.0 1028.4h0M1258.1 1017.4h0M1192.5 936.1h0M994.0 997.3h0M902.1 1136.7h0M1085.6 1062.7h0M972.7 1130.7h0M1082.2 1002.0h0M1145.0 1102.4h0M1236.5 951.4h0M1099.7 1135.7h0M1064.9 953.5h0M1008.0 1101.5h0M1127.4 1047.2h0M1126.1 968.8h0M971.6 1137.3h0M1011.3 1005.0h0M1237.2 995.5h0M1097.7 1021.3h0M1068.1 1099.5h0M1226.6 886.1h0M1074.7 961.3h0M888.7 1117.7h0M887.9 1160.0h0M917.5 1143.5h0M1184.0 926.8h0M1169.2 1135.2h0M1047.2 1056.2h0M1063.2 955.2h0M1045.5 990.1h0M1194.2 864.9h0M1107.9 1051.9h0M1225.3 921.7h0M1043.3 1052.1h0M1239.1 977.9h0M1188.0 888.2h0M1036.1 1006.0h0M1143.8 934.9h0M1252.4 997.9h0M1019.4 1057.6h0M967.3 1149.5h0M995.0 1162.7h0M896.6 1134.0h0M1026.0 1018.7h0M1075.3 973.5h0M1014.5 1089.8h0M1202.1 948.8h0M1170.1 902.2h0M960.9 1068.4h0M1206.0 928.8h0M1038.1 1137.0h0M1199.9 861.8h0M1186.4 1060.3h0M1238.3 965.1h0M1199.3 978.6h0M1114.2 955.6h0M1042.3 1031.9h0M1044.4 1120.0h0M1157.1 975.0h0M1069.1 1080.9h0M1086.2 983.3h0M891.6 1125.9h0M1085.2 1033.5h0M1227.2 940.1h0M1144.6 940.8h0M1152.6 1024.4h0M992.2 1152.5h0M985.6 1103.4h0M1087.0 1107.5h0M1049.5 1139.7h0M1046.5 1012.7h0M1187.3 997.3h0M1184.8 909.9h0M1083.6 949.6h0M886.6 1166.2h0M976.8 1029.6h0M1197.7 1012.6h0M1107.9 1124.2h0M974.6 1062.5h0M1197.4 1023.6h0M1016.4 1152.3h0M1117.1 1075.0h0M1133.2 1101.3h0M1257.7 985.8h0M1169.2 1135.1h0M1187.9 879.9h0M1121.9 903.3h0M943.1 1145.1h0M1079.7 1077.1h0M1253.7 894.2h0M1046.5 1153.8h0M1058.6 1129.7h0M935.7 1114.8h0M1256.8 999.3h0M1205.9 973.6h0M1003.2 1096.0h0M1135.6 1142.9h0M1176.6 1063.0h0M962.0 1164.9h0M1014.4 1002.4h0M1202.9 874.1h0M1079.4 1133.0h0M1204.0 854.0h0M1103.2 1041.3h0M1210.8 994.8h0M1133.4 1037.2h0M957.6 1120.9h0M1116.0 1082.3h0M1009.9 1059.0h0M1097.4 962.0h0M1109.1 916.2h0M1237.5 889.0h0M988.0 1108.6h0M1071.6 1014.8h0M1056.4 959.8h0M1189.9 973.1h0M1064.5 932.9h0M1145.6 1121.7h0M1036.0 993.1h0M1183.3 1110.5h0M1159.0 989.4h0M921.5 1080.2h0M1138.7 1080.7h0M1071.4 971.2h0M1008.3 1119.7h0M1207.7 941.2h0M1147.9 976.5h0M1129.0 970.4h0M1117.9 921.7h0M1143.3 1079.9h0M959.8 1069.4h0M962.0 1075.2h0M1137.9 998.3h0M1195.4 890.8h0M1130.4 1137.9h0M1029.2 1098.8h0M1233.9 880.2h0M1202.6 915.2h0M1010.4 1080.7h0M926.8 1064.1h0M986.6 1014.9h0M984.1 1015.2h0M927.0 1163.3h0M1081.0 1158.2h0M1234.6 916.8h0M1071.2 1075.9h0M1058.7 1096.7h0M1016.2 1110.2h0M925.4 1072.4h0M921.8 1094.2h0M1022.6 1161.8h0M1143.2 932.9h0M1233.9 911.2h0M1016.4 1139.5h0M1162.8 1022.1h0M915.5 1075.6h0M1186.7 984.5h0M996.0 1070.2h0M996.4 1166.9h0M1125.2 1017.9h0M885.7 1142.1h0M953.3 1057.4h0M1102.6 936.1h0M1066.0 1102.2h0M994.1 1069.5h0M903.3 1156.8h0M1194.5 976.9h0M959.4 1164.4h0M926.0 1082.8h0M1241.3 969.0h0M1106.6 1026.7h0M1050.0 1057.8h0M1038.8 1033.1h0M1041.3 1003.7h0M1151.1 1123.3h0M1074.9 926.1h0M1147.6 896.0h0M1144.1 1001.9h0M984.1 1028.3h0M1174.7 1106.4h0M1126.8 894.6h0M1122.0 956.4h0M953.6 1135.7h0M1097.3 967.0h0M971.9 1063.3h0M1163.4 878.0h0M1012.5 1153.4h0M1262.0 891.6h0M1058.6 1072.5h0M1012.5 1161.4h0M1047.1 1060.5h0M1078.2 974.5h0M1098.3 962.6h0M1116.0 1052.0h0M1092.8 1001.6h0M986.1 1091.7h0M1151.4 1012.0h0M1126.3 908.2h0M1037.1 1160.7h0M1192.8 970.6h0M1130.3 1132.3h0M1064.5 1048.4h0M1069.1 958.4h0M1095.0 1080.2h0M960.7 1156.5h0M1225.8 960.0h0M1211.8 963.5h0M1144.8 923.9h0M1148.6 1128.2h0M901.9 1117.5h0M1166.6 980.4h0M990.5 1053.7h0M1198.1 914.8h0M1122.8 1084.2h0M992.4 1164.2h0M1167.1 1080.4h0M1034.5 1114.2h0M896.7 1181.3h0M1205.6 940.1h0M929.1 1099.4h0M1073.6 969.5h0M1261.8 1003.1h0M1013.2 1004.5h0M1165.0 1148.1h0M1157.6 893.8h0M1035.3 1120.1h0M1081.8 946.7h0M1203.6 979.2h0M1180.5 867.5h0M925.4 1158.0h0M1087.1 1069.5h0M1095.5 950.6h0M1136.1 1066.7h0M1109.3 1095.9h0M1183.2 987.6h0M928.1 1153.2h0M980.3 1127.8h0M1027.2 1069.8h0M1253.0 1022.6h0M902.9 1115.0h0M1087.7 926.0h0M918.2 1105.0h0M1110.7 1093.5h0M1125.0 929.6h0M1184.6 1069.6h0M1054.3 1091.3h0M1031.5 1024.0h0M1208.4 1027.0h0M1153.8 1136.7h0M966.5 1108.0h0M1167.6 1013.4h0M1135.1 1128.1h0M960.7 1020.2h0M1174.4 995.4h0M1035.5 1024.8h0M1133.6 944.5h0M1066.7 1092.8h0M1014.9 1094.6h0M1065.8 969.5h0M1083.2 1139.8h0M1078.3 1117.3h0M1082.0 944.2h0M1088.1 1124.4h0M994.3 1124.2h0M1187.7 903.8h0M1202.6 851.8h0M1032.9 1165.2h0M1082.8 980.3h0M1183.5 1107.6h0M1084.4 1032.6h0M1106.3 968.9h0M1080.4 963.7h0M1248.6 908.8h0M1156.1 1123.7h0M945.7 1170.4h0M1153.7 1088.3h0M998.4 1056.9h0M1094.9 1139.3h0M1087.8 977.3h0M1243.0 1004.5h0M1251.7 904.0h0M937.9 1149.7h0M1170.1 1052.1h0M1090.2 1023.4h0M1253.1 1008.2h0M1224.7 867.3h0M1193.5 907.7h0M1207.4 1019.2h0M1144.7 953.4h0M1123.7 970.3h0M967.5 1107.6h0M1075.9 1030.2h0M952.0 1157.9h0M1075.2 1066.9h0M1131.5 990.5h0M1152.8 1105.7h0M1025.3 996.6h0M1151.5 972.6h0M1160.8 954.5h0M1132.3 945.1h0M1221.2 1001.5h0M1172.5 950.0h0M945.2 1065.2h0M1008.3 1140.1h0M1185.6 1048.1h0M950.2 1084.0h0M984.8 1111.9h0M1046.8 1088.1h0M1176.3 936.4h0M1184.3 923.2h0M1024.6 1081.2h0M1053.6 1130.7h0M1199.2 1005.0h0M1159.6 1139.8h0M1024.1 1050.1h0M1150.4 1061.5h0M1124.2 1043.2h0M1074.9 1017.3h0M959.0 1070.3h0M1116.7 974.7h0M1096.3 977.3h0M1037.2 1039.9h0M968.1 1084.6h0M949.2 1039.7h0M938.2 1068.5h0M1153.4 1136.0h0M908.8 1090.9h0M1110.7 1048.3h0M1101.3 1035.7h0M995.1 1046.5h0M1243.2 903.8h0M1212.0 911.8h0M1128.9 954.9h0M1127.6 1001.9h0M1179.1 1087.1h0M970.0 1030.5h0M972.6 1116.8h0M1162.7 1011.9h0M1057.0 1058.9h0M1211.0 873.2h0M1094.8 1040.4h0M1221.6 972.5h0M1190.5 894.0h0M1060.5 1012.6h0M1161.1 883.3h0M1158.2 973.9h0M1166.8 1040.1h0M1141.4 1020.1h0M1181.2 926.5h0M1048.3 1011.3h0M1114.1 1123.4h0M1217.8 945.9h0M1208.7 878.1h0M1184.5 944.4h0M1079.3 997.2h0M1002.0 1077.2h0M1099.3 1049.0h0M1064.2 1164.0h0M1229.1 965.0h0M1136.5 1092.8h0M935.0 1134.9h0M1190.5 1049.4h0M1039.0 1073.9h0M1098.5 1104.4h0M1242.1 962.4h0M1106.1 986.2h0M947.3 1105.0h0M930.7 1139.1h0M1031.4 1137.2h0M1163.2 934.2h0M1058.6 1149.8h0M907.4 1083.8h0M1215.3 869.1h0M1208.8 913.3h0M1049.5 1100.8h0M1216.9 855.8h0M1232.8 968.4h0M1076.0 980.5h0M1175.4 1056.3h0M1100.0 1079.1h0M1252.1 957.8h0M1169.0 885.2h0M1120.0 983.5h0M1229.0 899.6h0M1207.4 939.8h0M985.7 1118.7h0M1112.3 1139.3h0M1168.4 1074.7h0M1084.1 987.3h0M988.7 1167.5h0M1067.6 995.7h0M1078.2 1085.2h0M1247.3 1011.4h0M998.5 1033.3h0M1018.7 1021.5h0M1120.2 971.1h0M1032.1 1067.4h0M1167.1 1027.6h0M1136.7 1056.5h0M1250.4 939.1h0M1153.4 1093.8h0M1171.9 1046.8h0M1230.0 954.5h0M1174.1 879.7h0M926.4 1177.0h0M1198.2 989.3h0M995.6 1157.0h0M1013.1 1003.0h0M1041.7 1164.4h0M1137.1 1041.0h0M1101.4 928.8h0M1028.1 974.6h0M986.2 1019.2h0M943.8 1144.0h0M1136.2 1016.0h0M1065.7 1004.7h0M1039.2 1105.9h0M1125.3 1137.3h0M989.0 1129.0h0M935.1 1158.5h0M1134.5 1061.2h0M1184.2 1061.0h0M1000.2 1071.3h0M1255.3 924.1h0M1090.6 1138.2h0M933.5 1163.2h0M1017.2 1161.6h0M982.7 1043.8h0M1083.3 1116.4h0M1141.2 920.2h0M994.7 1026.0h0M923.3 1087.2h0M1027.1 1167.0h0M1164.4 1042.5h0M1173.6 948.9h0M932.3 1117.7h0M1234.8 931.1h0M1161.7 896.4h0M1064.1 974.2h0M1121.0 1088.6h0M1074.1 976.6h0M962.2 1147.9h0M1148.5 1054.8h0M1098.1 1084.8h0M1070.8 1012.0h0M1203.8 1037.5h0M920.3 1183.2h0M915.0 1135.3h0M1153.6 925.0h0M992.7 1030.6h0M954.6 1088.2h0M932.8 1087.8h0M1248.8 1004.5h0M1018.4 1044.7h0M1144.9 1031.9h0M1019.7 1141.2h0M1108.0 1136.2h0M1029.0 1010.9h0M902.3 1091.0h0M1089.3 963.2h0M1175.0 1050.2h0M1175.8 929.6h0M1065.7 968.8h0M1033.1 987.8h0M1192.1 853.6h0M970.8 1054.8h0M989.2 1144.0h0M1085.6 1070.0h0M1037.6 1142.9h0M1067.2 1157.7h0M1200.3 907.4h0M979.2 1159.6h0M1235.3 904.4h0M1138.8 1135.0h0M1018.4 1077.7h0M1088.7 1002.5h0M1207.0 937.8h0M1241.7 968.2h0M1099.1 959.2h0M1126.4 1052.3h0M1084.7 1164.4h0M1164.4 1017.6h0M1110.5 1083.7h0M965.2 1156.0h0M933.7 1081.3h0M1173.6 897.1h0M988.5 1149.0h0M1017.0 1117.7h0M1165.9 897.9h0M1120.9 989.1h0M1090.1 1071.9h0M1060.2 1159.4h0M980.4 1110.1h0M1079.6 1167.1h0M1163.8 1099.2h0M1148.6 958.6h0M1178.4 989.0h0M1073.9 1145.4h0M956.4 1030.6h0M991.2 1111.3h0M1071.7 1019.3h0M986.3 1082.6h0M947.1 1052.3h0M1117.9 1112.6h0M1055.9 1008.8h0M1146.3 1053.8h0M1212.5 869.6h0M1156.6 1046.1h0M1181.8 1041.0h0M1052.9 972.3h0M956.3 1075.4h0M1089.7 1001.9h0M1116.8 981.6h0M1237.5 1005.9h0M1046.6 987.5h0M1209.2 896.6h0M956.1 1146.6h0M1110.2 1116.9h0M1024.6 1162.2h0M1029.0 1000.0h0M1105.6 1041.6h0M1190.2 1103.3h0M1134.9 1097.9h0M990.4 1147.7h0M1150.0 986.9h0M1212.9 999.6h0M1190.6 867.6h0M1113.8 1027.6h0M1106.5 941.3h0M898.6 1152.2h0M1092.3 1121.3h0M1178.5 947.2h0M941.2 1159.5h0M1056.6 1134.7h0M1043.0 1105.7h0M1223.3 993.9h0M1109.1 1029.3h0M1185.0 997.7h0M1197.4 916.2h0M1121.6 928.6h0M981.9 1086.7h0M1118.7 1149.0h0M1181.8 867.4h0M1045.2 995.1h0M956.7 1067.5h0M1126.4 1114.1h0M1259.2 904.0h0M1147.4 920.1h0M1231.9 1019.4h0M926.9 1165.0h0M1149.0 1037.6h0M1260.6 905.0h0M975.9 1026.6h0M1165.1 1142.6h0M1140.5 926.8h0M981.8 1112.1h0M1001.5 1040.5h0M1093.0 954.2h0M977.9 1017.8h0M1017.4 1120.8h0M1249.9 952.9h0M1202.9 981.0h0M1101.3 1042.3h0M1250.6 936.3h0M1080.9 944.5h0M1113.0 987.6h0M1083.6 918.8h0M1146.9 1134.4h0M1257.0 981.0h0M938.5 1095.1h0M1075.9 1072.4h0M1093.0 1157.0h0M1093.1 1108.5h0M1162.6 1028.0h0M930.8 1104.5h0M960.8 1111.3h0M1122.5 1106.4h0M1222.4 884.6h0M1056.6 970.6h0M1157.4 915.2h0M1156.9 1144.2h0M1219.9 988.8h0M1174.9 921.8h0M902.3 1174.6h0M1151.1 1105.9h0M971.3 1124.5h0M998.5 1105.7h0M1137.7 1143.4h0M1029.4 1019.9h0M998.3 1015.9h0M1126.9 915.1h0M1221.1 1006.6h0M1160.2 1138.4h0M1264.8 870.9h0M1109.6 946.4h0M1213.1 1011.0h0M913.8 1094.5h0M1116.7 924.5h0M1051.9 1061.3h0M1100.0 1013.9h0M1243.6 909.3h0M982.6 1177.3h0M1132.0 960.9h0M1043.0 967.0h0M1048.1 1136.3h0M1163.0 1130.1h0M1033.9 1054.7h0M1191.8 894.4h0M916.0 1101.1h0M1081.7 1006.0h0M1209.2 978.7h0M1187.9 1048.0h0M1069.5 1106.0h0M1195.8 1048.4h0M1068.7 954.9h0M1124.1 1113.2h0M1118.3 1021.6h0M1169.5 1021.7h0M887.7 1164.7h0M1139.8 1095.1h0M971.6 1116.9h0M950.4 1175.5h0M1150.3 917.7h0M919.6 1090.2h0M1251.9 937.2h0M934.2 1172.2h0M1023.9 1053.9h0M1236.9 961.1h0M1182.9 1016.6h0M1035.3 1159.2h0M907.3 1112.4h0M959.5 1100.2h0M1018.0 1045.8h0M1205.4 882.4h0M1179.8 934.2h0M1228.8 895.4h0M996.5 1088.5h0M1071.0 982.1h0M1206.4 975.2h0M973.6 1167.3h0M1149.1 1125.1h0M1117.3 924.8h0M966.9 1095.9h0M928.8 1167.8h0M1093.4 1151.2h0M1074.5 933.3h0M1184.1 877.9h0M1012.1 1073.9h0M1074.8 1078.9h0M1130.2 1005.4h0M1074.0 949.8h0M883.3 1133.2h0M1080.2 970.5h0M1006.8 1000.1h0M1050.6 1012.7h0M1158.8 1006.6h0M918.1 1091.6h0M1106.4 1052.7h0M903.3 1113.7h0M1094.5 1062.7h0M1217.9 1006.7h0M912.1 1070.8h0M1018.2 989.7h0M1212.9 976.9h0M990.0 1158.9h0M1207.5 876.9h0M1123.0 1085.2h0M966.6 1108.2h0M1054.2 1066.5h0M991.0 1169.7h0M1001.7 1147.2h0M1002.4 1007.3h0M1020.2 986.2h0M926.6 1088.9h0M1208.3 914.8h0M1115.2 1114.3h0M1160.4 1000.4h0M1008.7 994.3h0M900.2 1156.3h0M1012.8 1104.3h0M1032.2 1057.1h0M1053.6 1061.6h0M1242.2 948.6h0M959.3 1046.7h0M1161.1 1133.3h0M897.3 1132.2h0M1045.3 1130.5h0M1026.3 981.6h0M1191.8 962.3h0M1245.6 945.1h0M1243.2 997.5h0M1076.5 934.5h0M1191.4 1005.1h0M1248.7 920.7h0M1151.7 993.7h0M1055.0 1067.9h0M1107.2 1080.2h0M1084.9 931.8h0M1181.7 864.2h0M1144.5 1151.8h0M911.1 1101.3h0M1258.4 1001.9h0M1217.7 999.1h0M1057.0 953.5h0M1033.0 995.3h0M1189.9 1013.6h0M995.4 1011.3h0M1262.0 892.8h0M981.7 1112.9h0M1109.6 977.6h0M1085.5 1006.2h0M1135.8 1089.7h0M1232.0 945.7h0M1225.4 1020.9h0M990.0 1098.3h0M1099.9 985.0h0M928.0 1139.6h0M975.7 1018.5h0M1047.0 1013.2h0M1188.3 1024.7h0M1039.9 1146.1h0M986.2 1049.8h0M1064.1 1104.1h0M1171.9 1071.7h0M1198.3 956.5h0M961.3 1102.6h0M1073.7 1072.6h0M1143.7 1020.2h0M1123.8 926.1h0M1250.0 1015.1h0M1112.1 927.1h0M1202.6 884.1h0M969.7 1156.2h0M1061.2 1155.5h0M1139.6 1149.8h0M941.6 1120.9h0M1064.7 1110.3h0M924.0 1180.4h0M1037.8 1154.3h0M1229.8 933.0h0M905.3 1135.5h0M1021.3 980.3h0M1065.4 1031.1h0M1174.7 959.1h0M1249.5 955.0h0M1121.7 918.3h0M958.9 1174.1h0M1036.4 1064.9h0M1265.1 903.1h0M1155.5 1091.7h0M1202.1 1021.3h0M943.4 1132.4h0M1090.9 999.5h0M952.7 1068.3h0M1051.9 1074.8h0M1246.2 931.3h0M1109.6 959.8h0M1084.8 940.5h0M1126.7 1152.5h0M1258.2 937.3h0M1244.7 976.2h0M1100.7 939.4h0M1242.3 975.4h0M1126.3 1152.0h0M990.5 1125.4h0M1176.2 1075.8h0M1218.5 954.3h0M1167.1 1074.2h0M992.5 1134.0h0M1133.0 1122.9h0M1007.2 1005.4h0M933.9 1137.3h0M1100.3 1106.9h0M1210.2 1009.7h0M1181.7 1105.1h0M1171.8 917.1h0M1085.5 1100.9h0M1134.1 929.7h0M994.5 1091.9h0M1151.8 1144.5h0M1162.4 960.4h0M1007.9 1041.7h0M1155.9 982.5h0M931.5 1148.1h0M1201.9 975.9h0M1213.4 1032.1h0M1137.2 1153.2h0M1063.4 1108.8h0M1045.6 1088.7h0M1012.3 998.4h0M1224.7 942.0h0M1093.0 1104.0h0M944.1 1156.3h0M1049.0 1048.8h0M962.2 1174.0h0M1179.1 872.3h0M1108.1 1058.4h0M914.7 1140.1h0M1183.1 868.6h0M910.3 1081.3h0M1028.1 1050.7h0M953.8 1087.7h0M1073.4 1109.8h0M974.8 1172.5h0M1123.0 908.5h0M1199.6 1028.0h0M1071.6 935.3h0M1181.1 863.7h0M1122.6 1101.9h0M1122.1 945.7h0M1213.5 1043.0h0M967.9 1147.1h0M1014.2 1134.9h0M1158.7 1008.8h0M1078.5 942.3h0M1088.1 1041.9h0M1111.3 1109.4h0M1086.8 1104.4h0M1004.3 1002.4h0M974.4 1046.3h0M943.7 1090.9h0M1256.3 926.1h0M1198.4 982.4h0M993.6 1092.8h0M1080.4 967.1h0M954.8 1173.5h0M984.4 1045.6h0M1025.1 1053.2h0M1098.4 947.0h0M1124.2 1149.3h0M1019.1 1123.5h0M1190.2 1049.6h0M1061.7 960.7h0M1083.7 1116.1h0M1146.7 892.4h0M1104.6 1118.7h0M1198.1 1036.1h0M1207.7 943.4h0M1043.7 974.4h0M1202.3 1031.7h0M1168.1 1120.7h0M1127.4 992.7h0M1128.9 1040.0h0M1150.2 1010.4h0M1253.1 902.2h0M1145.5 893.6h0M1176.7 877.6h0M1260.5 985.5h0M1010.0 1073.8h0M1244.5 952.8h0M1237.4 917.7h0M999.8 1103.5h0M1016.1 1033.9h0M1220.7 988.7h0M1181.8 1007.9h0M1239.8 978.0h0M971.2 1050.5h0M1097.3 971.9h0M1110.4 1130.8h0M966.9 1165.5h0M1210.5 916.4h0M1247.9 980.6h0M1205.9 1051.3h0M1252.3 1001.5h0M945.0 1070.4h0M1031.1 1155.7h0M1119.8 943.5h0M1136.9 932.1h0M1069.7 1060.6h0M1225.3 969.4h0M1026.5 977.5h0M1155.7 1039.0h0M964.1 1051.4h0M1118.5 1038.4h0M1034.4 968.0h0M1011.1 1068.5h0M895.5 1171.3h0M992.4 1145.0h0M1142.6 948.6h0M1058.4 1100.5h0M1004.9 1154.8h0M991.4 1142.8h0M1178.3 868.3h0M1142.7 1101.0h0M1103.9 986.7h0M1162.0 1069.3h0M1219.7 923.2h0M1250.8 971.0h0M916.6 1184.4h0M947.0 1055.3h0M1164.0 1048.1h0M1080.9 985.2h0M1166.0 1118.8h0M1110.8 1149.4h0M1141.6 880.2h0M1087.6 930.1h0M1163.9 1053.4h0M949.7 1081.8h0M990.6 1051.1h0M1200.4 853.3h0M1151.4 925.8h0M1220.4 982.2h0M1131.9 973.7h0M1089.6 984.2h0M1160.6 987.9h0M971.2 1119.8h0M997.5 1022.7h0M1091.9 1154.1h0M935.1 1076.3h0M970.8 1127.0h0M1249.0 987.5h0M1073.9 957.2h0M1187.4 850.2h0M1055.9 1015.4h0M1130.3 1113.2h0M1211.2 854.4h0M1103.1 1006.0h0M1116.6 955.8h0M1252.1 919.6h0M1162.5 885.1h0M1147.3 1035.5h0M1143.2 1094.1h0M1247.9 908.2h0M1051.0 1094.1h0M985.1 1063.6h0M906.8 1156.9h0M1210.6 865.5h0M1125.7 1048.5h0M1057.9 1041.6h0M969.0 1117.6h0M1034.1 1122.1h0M1005.8 1026.2h0M982.5 1135.2h0M1036.8 1151.2h0M1205.4 882.6h0M1068.4 1037.2h0M1125.3 987.9h0M1200.5 915.8h0M992.9 1127.8h0M1231.3 988.8h0M1009.0 1036.0h0M890.9 1155.5h0M1219.8 1042.2h0M1115.2 1098.7h0M942.3 1175.9h0M1230.9 903.5h0M1008.1 1069.6h0M897.7 1111.6h0M947.1 1056.7h0M1051.9 1153.0h0M1007.9 1099.4h0M1074.1 1166.3h0M1176.0 1070.7h0M1109.2 1117.3h0M1035.8 1073.5h0M1067.8 1003.0h0M1029.6 1085.9h0M1020.5 980.5h0M1151.1 1038.8h0M1045.8 1025.9h0M1010.9 1053.9h0M1174.6 944.1h0M985.9 1159.5h0M1165.6 899.7h0M1151.2 1033.0h0M1192.8 866.6h0M1128.7 1071.9h0M1250.0 965.3h0M1185.6 860.9h0M990.6 1054.2h0M973.1 1157.4h0M989.1 1080.6h0M968.2 1149.0h0M1108.4 942.9h0M1139.2 1113.4h0M1241.4 958.6h0M1134.3 1077.1h0M1196.3 925.2h0M1020.0 1004.0h0M1248.2 900.5h0M962.4 1171.2h0M1083.2 1060.9h0M1237.4 1000.6h0M1197.7 899.6h0M1106.7 1045.4h0M968.1 1021.7h0M974.4 1174.1h0M906.6 1102.8h0M1010.2 1015.3h0M971.6 1026.9h0M1110.9 1046.8h0M1093.9 986.3h0M954.0 1171.2h0M903.6 1102.7h0M1185.3 872.0h0M993.3 1146.9h0M1173.0 1069.0h0M1115.7 1120.5h0M1163.7 1064.4h0M883.2 1164.4h0M1130.5 945.0h0M1111.6 1070.3h0M1156.5 1046.7h0M941.3 1118.3h0M998.2 1054.8h0M1150.0 888.5h0M1176.2 1005.1h0M878.2 1171.3h0M1179.3 985.2h0M1149.5 945.4h0M1141.3 1074.0h0M970.7 1108.2h0M1057.6 1014.0h0M1067.3 1003.2h0M1050.6 1060.5h0M1013.8 1168.8h0M1122.0 1067.6h0M1188.2 1051.9h0M1008.4 1058.9h0M1178.1 1045.0h0M1057.9 1156.9h0M1084.0 989.6h0M1131.8 1067.5h0M1014.9 1080.6h0M1209.5 1039.0h0M1138.5 970.0h0M986.0 1072.5h0M977.7 1037.8h0M1005.4 1075.2h0M1111.1 965.5h0M1212.0 878.4h0M1124.3 1134.5h0M992.9 1039.0h0M1157.4 987.0h0M1105.1 962.3h0M1141.0 998.2h0M944.2 1165.0h0M1133.9 953.2h0M982.7 1049.2h0M989.9 1156.5h0M1114.0 1136.3h0M1078.5 1063.6h0M1129.0 913.8h0M1126.8 1010.5h0M1216.4 871.3h0M1132.1 945.9h0M1151.8 1091.0h0M1197.5 965.1h0M1115.0 937.9h0M1057.3 1125.6h0M1061.4 1093.9h0M1224.9 967.7h0M1157.8 998.8h0M1080.7 1135.0h0M1104.0 1012.9h0M1137.6 959.0h0M983.4 1088.5h0M992.2 1176.6h0M1231.5 921.1h0M994.2 1158.1h0M1114.3 1115.7h0M1149.4 978.7h0M970.9 1064.1h0M1061.4 1067.4h0M1210.9 973.6h0M1076.1 957.2h0M1069.9 980.6h0M1174.5 999.7h0M1120.4 997.5h0M1173.4 949.1h0M1100.3 1083.1h0M1173.9 934.8h0M1141.2 882.4h0M1133.4 938.4h0M1043.8 989.0h0M1219.2 1018.1h0M1214.9 957.4h0M1141.5 923.4h0M1119.6 1145.3h0M1141.4 1062.6h0M916.2 1092.5h0M1000.9 1146.0h0M1082.8 1062.8h0M1059.8 1032.6h0M1196.5 1059.0h0M1121.5 899.8h0M1133.1 907.0h0M966.4 1023.3h0M1165.8 1108.7h0M1191.5 881.0h0M963.4 1129.3h0M991.7 1027.0h0M1000.6 1117.5h0M1004.9 1147.2h0M1057.2 979.4h0M894.1 1163.5h0M1171.0 1142.9h0M1160.6 906.9h0M1249.2 909.5h0M1036.1 1163.3h0M1118.7 928.0h0M1144.2 1001.9h0M1167.1 1128.8h0M1041.5 964.5h0M1229.7 919.9h0M1123.3 1038.2h0M1062.2 1079.2h0M1150.2 931.4h0M1189.3 1016.0h0M1156.9 944.4h0M946.1 1085.7h0M1137.0 908.7h0M1085.8 940.8h0M932.7 1170.5h0M1056.3 996.5h0M1165.9 1120.9h0M1162.3 985.0h0M1261.3 1025.3h0M1017.3 1067.5h0M1208.0 970.4h0M1262.6 1020.4h0M997.9 1001.6h0M1094.1 1048.0h0M1094.3 999.2h0M1102.0 1109.6h0M1147.4 931.4h0M1140.2 1054.5h0M1238.2 978.9h0M1209.4 991.6h0M1198.5 1005.5h0M1054.4 1145.7h0M1070.4 980.2h0M1186.8 1073.3h0M1125.6 963.0h0M958.0 1158.9h0M1184.8 979.1h0M1088.4 943.5h0M1108.9 1065.2h0M1141.7 939.8h0M904.7 1089.5h0M1184.3 858.5h0M964.9 1090.6h0M1198.1 1048.3h0M1236.5 927.5h0M1025.3 1138.5h0M1107.5 982.2h0M977.1 1153.3h0M967.3 1033.1h0M980.9 1139.7h0M1201.1 973.3h0M1133.3 1045.7h0M1206.4 973.9h0M1011.8 1054.9h0M956.0 1101.9h0M990.9 1023.0h0M1201.5 955.0h0M1122.0 1133.2h0M1105.0 994.8h0M1230.1 898.5h0M1202.1 1007.0h0M1150.5 1128.9h0M1185.3 869.4h0M1098.4 1008.7h0M948.9 1119.3h0M939.2 1102.8h0M1055.8 1054.2h0M1105.8 965.1h0M1077.3 1023.4h0M1166.6 982.8h0M1144.9 977.3h0M1126.4 1099.4h0M1260.5 924.0h0M1010.7 1054.6h0M1110.7 1065.0h0M1048.3 968.5h0M1035.0 989.8h0M1116.0 1094.0h0M1003.5 993.5h0M1180.8 1096.5h0M964.9 1127.6h0M1121.9 903.3h0M1110.9 1048.9h0M957.6 1136.2h0M990.9 1036.5h0M1025.2 1016.5h0M1219.8 872.1h0M1021.5 1166.8h0M1020.3 1091.0h0M1141.7 1025.4h0M1214.3 975.1h0M1196.2 1051.6h0M1101.0 1068.1h0M1073.3 1038.3h0M1216.0 943.7h0M1103.2 972.4h0M1047.9 986.7h0M1080.0 1057.2h0M1037.8 1058.4h0M1095.6 989.4h0M1159.8 977.6h0M984.5 1061.9h0M1003.7 1043.6h0M892.1 1127.1h0M989.0 1081.9h0M1142.7 964.8h0M1007.4 1115.5h0M1075.1 1029.4h0M950.7 1075.9h0M1046.8 986.9h0M1169.9 896.4h0M1095.5 971.7h0M1028.8 994.3h0M1120.9 934.0h0M1082.3 952.9h0M1097.5 1020.6h0M1014.8 1092.6h0M1108.7 1033.1h0M1021.0 1062.3h0M1150.6 904.3h0M974.9 1071.7h0M1054.7 968.6h0M930.0 1083.1h0M1031.1 1062.1h0M918.9 1174.2h0M1210.7 880.4h0M1039.2 1015.6h0M1007.5 1029.3h0M1133.6 954.0h0M1017.0 1055.2h0M1076.2 1056.2h0M1059.9 994.5h0M1061.3 1041.0h0M1080.7 959.3h0M1084.1 1016.1h0M1164.3 900.1h0M1186.3 947.1h0M1139.4 986.9h0M1152.1 967.2h0M890.5 1168.0h0M1066.1 973.8h0M1116.3 989.1h0M1050.6 992.7h0M962.3 1099.1h0M972.6 1101.7h0M1054.7 1029.5h0M980.0 1094.5h0M1142.6 912.1h0M1027.0 1026.5h0M1007.2 1105.7h0M1089.1 1041.2h0M916.0 1133.7h0M1090.0 1014.3h0M1171.1 972.9h0M1142.4 934.2h0M1141.1 940.2h0M1170.1 897.8h0M953.7 1099.7h0M1082.7 1035.9h0M999.8 1069.6h0M964.8 1056.9h0M1194.9 894.4h0M1180.6 906.6h0M1087.3 986.2h0M919.2 1131.5h0M1089.8 1031.1h0M974.1 1080.9h0M1062.0 1076.9h0M1020.4 1115.3h0M1118.3 992.0h0M1110.8 952.2h0M994.5 1071.5h0M1086.9 1037.9h0M1120.7 930.9h0M1091.3 955.5h0M1204.5 913.3h0M1006.5 1066.6h0M1046.8 994.2h0M1093.4 975.0h0M1097.1 971.2h0M1172.2 931.1h0M986.8 1085.2h0M1017.7 1116.3h0M951.2 1094.1h0M914.8 1180.2h0M1005.7 1019.1h0M971.5 1156.5h0M1207.6 935.8h0M1221.6 873.5h0M1197.4 936.3h0M984.3 1031.5h0M1001.0 1028.9h0M1013.7 1083.9h0M904.0 1178.7h0M901.8 1126.0h0M1186.1 884.3h0M1018.3 1014.8h0M1108.2 996.1h0M1150.9 952.7h0M1152.5 926.1h0M912.9 1113.4h0M1006.5 1126.7h0M1157.1 987.5h0M976.0 1159.8h0M1077.9 1013.0h0M962.7 1073.6h0M1022.3 1011.4h0M1101.6 1020.0h0M1216.3 912.2h0M1164.0 932.7h0M1191.7 939.4h0M1064.8 1057.4h0M1011.7 1022.2h0M964.3 1052.4h0M925.4 1122.8h0M992.5 1017.8h0M1081.9 1059.2h0M975.9 1073.8h0M1106.3 1023.1h0M1059.7 1035.7h0M1059.9 989.2h0M1143.4 1002.3h0M984.9 1034.5h0M1203.4 903.6h0M1057.2 1013.0h0M1134.3 959.8h0M1027.4 1087.6h0M1058.3 1043.3h0M1174.2 892.9h0M1047.6 1047.2h0M1010.0 1091.4h0M1100.6 969.9h0M1202.9 886.5h0M1155.7 986.5h0M1053.3 1084.1h0M1163.8 893.1h0M1208.5 916.8h0M1215.0 864.0h0M1054.2 984.8h0M1068.5 1013.0h0M1032.9 1070.3h0M985.6 1118.3h0M937.9 1154.3h0M1098.9 955.7h0M931.9 1086.9h0M973.8 1061.9h0M1214.9 885.6h0M934.5 1066.7h0M1012.9 1067.0h0M1048.8 980.3h0M913.0 1126.2h0M972.6 1025.9h0M1157.9 911.0h0M1092.3 1022.9h0M924.7 1166.7h0M1130.3 949.0h0M1014.8 1118.7h0M1185.7 916.1h0M1079.4 1006.2h0M963.6 1081.0h0M981.1 1044.2h0M1203.6 881.8h0M1164.5 916.7h0M1049.4 1082.5h0M911.1 1120.1h0M1024.6 1035.1h0M1049.0 1088.4h0M1048.7 1077.0h0M1009.4 1006.2h0M952.3 1051.9h0M1126.4 978.7h0M1016.6 1018.0h0M1179.6 939.2h0M928.1 1098.6h0M915.7 1110.0h0M1111.5 1011.9h0M1178.6 887.5h0M958.8 1103.0h0M1168.6 945.4h0M1009.1 1006.0h0M1098.0 988.1h0M1185.0 882.6h0M1114.3 933.7h0M984.4 1130.6h0M903.2 1130.8h0M930.4 1075.7h0M940.9 1138.8h0M897.9 1151.8h0M1014.2 1117.4h0M1053.5 1028.1h0M1037.1 1041.0h0M1097.0 946.6h0M949.7 1173.5h0M936.1 1135.3h0M1185.4 913.5h0M1207.4 904.4h0M986.3 1051.3h0M1180.5 907.2h0M903.9 1169.9h0M1104.1 958.8h0M1100.8 1011.8h0M1136.5 939.1h0M1087.9 963.3h0M926.5 1139.8h0M923.6 1105.6h0M1125.9 987.0h0M1200.3 875.1h0M1074.5 970.1h0M1186.6 873.3h0M1154.4 911.8h0M1035.3 1020.3h0M991.2 1074.1h0M1108.9 927.2h0M1124.4 939.6h0M1095.9 946.8h0M895.3 1169.8h0M895.6 1108.0h0M1003.6 1008.9h0M965.2 1153.4h0M1115.8 935.9h0M1122.6 982.9h0M1157.1 979.4h0M1083.1 985.9h0M1095.0 1013.5h0M998.3 1014.6h0M1209.7 925.4h0M1158.6 961.3h0M1135.8 957.0h0M1170.1 899.7h0M1006.8 1077.4h0M1043.1 1081.8h0M1035.7 1054.6h0M1042.2 1003.6h0M1165.4 938.5h0M1007.0 1002.6h0M1183.6 940.5h0M1085.4 1004.2h0M910.9 1171.5h0M1220.3 881.7h0M900.6 1180.4h0M1122.7 953.3h0M960.4 1052.7h0M1082.4 984.7h0M986.0 1145.4h0M1143.2 960.2h0M1041.6 1004.1h0M1017.5 1040.2h0M954.4 1046.5h0M1033.3 997.6h0M993.1 1057.4h0M1004.2 1088.5h0M1162.9 960.1h0M1214.4 888.8h0M933.9 1099.6h0M984.3 1047.3h0M1162.0 909.5h0M1163.7 966.2h0M1084.3 959.8h0M1081.3 1021.6h0M1071.6 990.2h0M893.1 1139.1h0M951.6 1066.7h0M1187.5 872.4h0M899.7 1177.4h0M1105.7 997.8h0M911.6 1097.0h0M956.7 1101.0h0M963.8 1064.4h0M1199.1 901.5h0M1026.4 1001.3h0M1140.6 994.1h0M1072.4 967.1h0M1010.7 1076.7h0M1125.5 997.5h0M1094.0 976.3h0M1070.4 1004.8h0M1163.1 924.8h0M1040.8 1025.3h0M1099.7 1036.5h0M925.2 1107.3h0M1098.1 953.0h0M925.2 1124.1h0M1069.6 981.3h0M1181.2 954.1h0M910.8 1099.3h0M1086.8 973.1h0M1016.1 1094.0h0M1173.2 951.2h0M913.8 1119.3h0M988.1 1042.6h0M1118.6 993.8h0M891.5 1116.3h0M1125.8 989.4h0M1022.7 1033.7h0M1022.1 1044.5h0M1021.1 1015.4h0M988.3 1064.9h0M1009.1 1019.1h0M994.2 1084.0h0M978.0 1080.7h0M1041.6 1025.8h0M944.3 1169.7h0M1062.7 1003.7h0M1022.8 1032.0h0M990.8 1144.5h0M1047.4 983.0h0M1001.8 1007.2h0M1027.7 1059.6h0M997.0 1116.8h0M915.4 1138.1h0M1000.7 1034.0h0M1029.0 1066.3h0M1216.1 897.0h0M989.3 1039.1h0M921.7 1175.2h0M1163.9 979.4h0M1106.3 979.5h0M1041.7 1073.9h0M1011.1 1003.6h0M1189.0 969.6h0M946.7 1072.1h0M948.0 1116.2h0M1065.5 992.2h0M1108.0 977.3h0M1137.7 937.5h0M1005.9 1047.1h0M1119.6 1008.1h0M955.6 1099.9h0M994.9 1143.7h0M1118.1 944.3h0M1126.1 964.7h0M1095.2 1005.5h0M1188.8 935.2h0M936.0 1097.0h0M1198.6 933.8h0M1075.9 1004.2h0M1067.4 982.9h0M1191.6 948.0h0M1170.1 961.9h0M1049.0 1031.9h0M946.2 1106.0h0M1092.2 962.7h0M1156.0 922.8h0M947.4 1083.2h0M1082.5 1039.2h0M944.5 1112.8h0M960.9 1143.1h0M1121.1 973.2h0M1047.6 980.3h0M1012.2 1125.0h0M1195.6 893.6h0M1151.3 949.2h0M941.8 1070.4h0M1021.5 1048.6h0M985.6 1033.3h0M929.8 1140.6h0M1014.7 1043.0h0M1177.5 962.7h0M1092.9 1005.5h0M1043.4 1018.0h0M958.1 1103.6h0M1171.1 914.9h0M1143.2 951.9h0M987.2 1104.6h0M942.8 1061.4h0M1014.9 1073.4h0M961.9 1110.0h0M1193.0 896.6h0M1075.4 1029.6h0M912.6 1164.6h0M1121.7 986.3h0M1140.1 969.3h0M1150.6 980.6h0M1179.5 887.7h0M1029.7 1070.9h0M1088.6 1014.1h0M1184.0 872.6h0M938.8 1068.3h0M1203.9 920.0h0M934.9 1075.4h0M1097.6 1014.9h0M1088.1 1044.4h0M1082.3 1056.0h0M976.7 1113.8h0M973.6 1130.9h0M1194.7 900.0h0M1019.9 1030.3h0M1057.5 1048.0h0M1105.3 1000.1h0M1173.2 912.8h0M1182.7 966.4h0M1006.5 1119.2h0M989.8 1152.9h0M923.4 1090.7h0M983.0 1028.0h0M1213.6 866.3h0M1015.9 1026.0h0M1037.1 988.7h0M1062.7 981.1h0M885.7 1145.5h0M1065.1 1033.8h0M1155.4 950.5h0M1128.3 995.7h0M1039.0 982.4h0M951.6 1048.8h0M1162.5 969.4h0M1221.2 889.4h0M1014.0 1110.6h0M1203.9 912.5h0M961.8 1057.3h0M974.7 1087.4h0M1183.9 918.1h0M933.1 1088.1h0M1134.6 966.1h0M1007.8 1132.2h0M1127.1 918.6h0M1009.3 1121.8h0M964.7 1160.6h0M1065.1 1062.5h0M1032.0 999.0h0M1021.0 1097.4h0M1019.0 1073.0h0M1063.8 975.2h0M981.4 1108.0h0M963.9 1063.1h0M1088.9 978.2h0M1028.4 1088.0h0M1000.9 1033.4h0M1078.4 1002.8h0M879.0 1151.4h0M985.0 1020.7h0M1185.7 923.2h0M1202.3 872.8h0M981.3 1024.0h0M1160.7 918.0h0M981.1 1134.1h0M1097.1 988.7h0M1066.2 1018.4h0M907.3 1134.5h0M1189.7 936.4h0M988.1 1054.6h0M1147.1 994.6h0M1111.5 963.2h0M1133.5 951.4h0M1212.5 890.0h0M1141.7 975.2h0M944.3 1091.7h0M1081.0 979.0h0M1085.0 972.3h0M1161.5 906.3h0M1151.6 929.8h0M1033.2 1076.1h0M897.4 1149.4h0M1106.4 954.5h0M1202.5 906.6h0M946.7 1069.4h0M920.9 1105.4h0M982.4 1124.8h0M1088.5 949.3h0M1011.7 1043.0h0M1152.2 963.7h0M1184.5 944.8h0M931.4 1091.0h0M1002.4 1124.8h0M1101.3 1013.1h0M944.9 1106.3h0M979.5 1075.3h0M1100.1 956.5h0M940.1 1128.1h0M1205.1 937.7h0M1053.8 1026.6h0M1171.1 955.3h0M1140.8 934.2h0M1084.3 984.0h0M1060.8 963.1h0M946.2 1057.1h0M981.9 1091.4h0M1121.6 946.0h0M1115.9 947.7h0M984.0 1052.9h0M1163.2 974.9h0M949.7 1060.5h0M906.1 1116.9h0M1182.9 873.9h0M954.4 1085.2h0M965.7 1164.9h0M950.3 1144.1h0M958.8 1066.4h0M1189.9 932.1h0M993.4 1091.4h0M1065.6 1055.7h0M1053.2 1023.6h0M1130.5 949.0h0M929.2 1167.4h0M1171.0 976.4h0M1022.4 1026.5h0M952.3 1154.9h0M1157.0 896.5h0M1138.5 917.1h0M1186.9 881.9h0M1193.7 907.1h0M1209.1 895.2h0M1194.4 896.9h0M1069.2 1028.8h0M1176.7 938.6h0M1130.7 957.3h0M1179.9 911.9h0M996.7 1113.8h0M949.8 1093.3h0M1081.6 1007.3h0M1190.2 961.5h0M1182.9 905.7h0M989.1 1144.7h0M1018.7 1057.9h0M1174.4 951.2h0M1077.8 978.1h0M1070.4 1018.8h0M1136.0 983.7h0M1001.8 1010.7h0M1174.2 965.9h0M1135.7 948.6h0M1027.8 1092.2h0M1144.6 996.0h0M1052.4 1036.4h0M1011.5 1005.4h0M1072.5 981.2h0M912.3 1140.9h0M991.0 1128.2h0M999.6 1026.3h0M968.8 1056.1h0M1041.1 1036.7h0M1193.5 933.4h0M925.0 1082.6h0M989.1 1103.7h0M1115.8 953.4h0M1075.5 1031.8h0M1004.3 1088.2h0M992.8 1064.7h0M1214.9 924.0h0M1183.7 912.8h0M1146.8 992.7h0M972.9 1038.4h0M1078.3 984.5h0M1109.3 1030.2h0M1114.3 986.2h0M1146.0 977.8h0M961.4 1163.6h0M978.1 1114.1h0M893.5 1146.9h0M1050.0 995.9h0M928.8 1074.4h0M998.7 1116.4h0M1004.2 1077.5h0M944.8 1128.3h0M971.2 1057.7h0M1023.6 1039.1h0M920.7 1073.1h0M954.9 1084.3h0M1019.7 1046.3h0M925.0 1164.4h0M954.5 1148.1h0M973.3 1123.5h0M927.8 1093.5h0M1009.9 1112.3h0M916.5 1100.9h0M939.7 1082.6h0M902.0 1145.1h0M1010.5 1038.4h0M916.1 1103.2h0M898.6 1134.8h0M987.5 1129.5h0M1020.3 1055.1h0M946.6 1072.9h0M968.2 1120.2h0M907.8 1171.5h0M1003.2 1061.6h0M908.3 1094.4h0M923.6 1102.1h0M970.6 1119.0h0M970.0 1131.6h0M1006.1 1011.5h0M952.5 1085.9h0M942.0 1096.0h0M953.1 1126.1h0M1037.8 1017.9h0M943.9 1144.5h0M1028.6 1020.3h0M975.2 1063.5h0M944.5 1150.1h0M983.0 1037.0h0M994.8 1026.9h0M978.0 1132.5h0M1010.2 1068.7h0M1048.3 1039.6h0M990.0 1129.1h0M956.2 1086.1h0M945.1 1156.3h0M969.6 1130.5h0M960.7 1116.7h0M1013.2 1105.3h0M961.1 1070.1h0M1005.9 1010.8h0M985.8 1072.1h0M974.2 1120.4h0M971.4 1149.1h0M884.0 1149.6h0M960.2 1095.5h0M1004.7 1042.4h0M967.0 1054.4h0M1023.2 1071.8h0M999.3 1140.8h0M909.9 1126.8h0M962.6 1130.9h0M960.0 1106.9h0M970.3 1112.9h0M954.8 1110.3h0M974.0 1107.2h0M939.1 1119.9h0M966.3 1099.9h0M993.3 1035.9h0M895.2 1110.6h0M954.1 1075.1h0M940.5 1057.3h0M888.4 1132.0h0M1008.6 1112.5h0M1002.4 1063.5h0M1049.0 1052.7h0M912.2 1085.4h0M996.3 1038.4h0M898.5 1126.8h0M1013.3 1089.2h0M965.4 1073.2h0M957.3 1132.4h0M958.1 1147.4h0M900.1 1169.4h0M1025.3 1013.6h0M915.0 1132.6h0M993.5 1050.2h0M927.0 1165.5h0M923.6 1120.2h0M934.3 1137.0h0M979.2 1117.9h0M976.9 1058.3h0M1014.4 1082.1h0M892.6 1116.7h0M927.2 1068.6h0M1003.4 1090.9h0M1010.8 1014.6h0M996.2 1072.9h0M887.8 1152.1h0M941.3 1113.2h0M1023.1 1032.9h0M989.8 1023.2h0M968.3 1157.1h0M991.0 1138.4h0M904.2 1139.5h0M950.5 1054.1h0M955.6 1086.4h0M978.0 1040.1h0M947.3 1114.6h0M989.0 1034.3h0M1027.3 1066.7h0M965.2 1059.3h0M924.3 1117.0h0M983.5 1024.9h0M937.3 1128.1h0M1007.7 1105.3h0M978.5 1048.5h0M982.6 1150.1h0M1020.9 1094.2h0M985.2 1050.2h0M921.1 1090.8h0M961.7 1144.4h0M907.0 1151.0h0M920.7 1173.3h0M972.1 1076.3h0M1000.9 1115.9h0M1009.8 1039.8h0M936.2 1100.2h0M977.5 1082.8h0M957.1 1110.9h0M970.4 1061.5h0M1018.1 1076.1h0M997.4 1028.1h0M975.5 1047.5h0M920.4 1170.1h0M998.8 1042.2h0M956.5 1044.1h0M1024.6 1060.2h0M987.8 1123.8h0M958.2 1090.1h0M1041.3 1040.3h0M1020.5 1070.4h0M924.7 1081.4h0M954.3 1156.6h0M949.8 1160.4h0M941.4 1118.7h0M941.5 1080.4h0M1048.1 1027.2h0M914.9 1103.6h0M936.0 1063.6h0M1042.0 1011.3h0M991.7 1039.0h0M976.5 1134.8h0M985.2 1027.0h0M907.5 1141.9h0M931.9 1157.1h0M959.3 1106.2h0M949.8 1100.3h0M1021.7 1106.5h0M993.3 1102.6h0M995.7 1056.7h0M1030.1 1030.1h0M933.5 1077.0h0M950.3 1127.0h0M954.8 1047.8h0M1027.5 1013.2h0M997.0 1029.4h0M898.4 1139.9h0M957.1 1166.1h0M1000.1 1098.2h0M949.1 1089.0h0M910.2 1171.8h0M1020.5 1101.4h0M900.3 1134.2h0M998.2 1045.1h0M999.0 1077.5h0M942.0 1169.5h0M1014.4 1098.4h0M933.2 1092.6h0M917.2 1079.3h0M1026.8 1000.3h0M910.9 1169.4h0M921.6 1108.3h0M889.3 1133.5h0M970.8 1039.1h0M887.2 1155.6h0M933.6 1171.5h0M965.5 1069.1h0M952.7 1139.1h0M1010.4 1034.6h0M993.3 1123.0h0M982.2 1095.4h0M969.0 1026.9h0M1033.3 1014.4h0M1003.4 1059.1h0M992.8 1097.5h0M1026.2 1011.1h0M894.7 1162.1h0M1282.6 900.1h0M1275.9 998.7h0M1268.0 999.5h0M1268.1 1014.3h0M1280.1 1016.5h0M1268.3 984.7h0M1282.2 931.2h0M1265.3 1010.5h0M1269.4 978.5h0M1278.3 989.5h0M1278.0 961.4h0M1266.6 932.1h0M1276.3 920.0h0M1283.5 973.9h0M1276.7 903.7h0M1268.1 967.2h0M1265.1 868.7h0M1273.1 924.8h0M1268.6 889.4h0M1274.7 1004.1h0M1269.6 924.5h0M1267.8 967.0h0M1262.9 1015.6h0M1277.2 935.2h0M1270.9 963.9h0M1277.2 877.0h0M1282.0 942.0h0M1271.0 1009.4h0M1283.1 988.1h0M1275.0 931.6h0M1279.4 991.2h0M1270.5 875.0h0M1272.1 913.5h0M1277.6 932.7h0M1275.5 868.0h0M1271.6 1019.7h0M1272.2 962.2h0M1262.1 1003.8h0M1276.3 1020.3h0M1286.6 958.4h0M1272.7 916.7h0M1276.5 892.6h0M1285.0 953.7h0M1273.4 918.9h0M1272.1 967.9h0M1265.1 986.7h0M1271.9 878.2h0M1267.3 984.9h0M1265.0 996.2h0M1279.8 888.1h0M1280.7 999.1h0M1263.3 858.9h0M1274.3 859.7h0M1280.4 956.0h0M1269.0 871.2h0M1282.8 905.7h0M1281.9 923.2h0M1279.8 986.7h0M1281.8 919.6h0M1268.2 939.6h0M1280.4 913.0h0M1282.3 986.8h0M1273.0 930.1h0M1279.0 914.0h0M1270.5 871.0h0M1271.6 999.5h0M1272.2 1006.9h0M1271.8 949.5h0M1283.9 895.3h0M1275.7 986.7h0M1273.7 996.6h0M1275.7 940.9h0M1274.4 902.5h0M1265.1 947.3h0M1269.9 920.2h0M1273.4 988.5h0M1271.9 978.1h0M1261.8 955.6h0M1273.0 1014.3h0M1271.3 877.1h0M1278.8 941.6h0M1263.1 915.2h0M1273.7 967.3h0M1267.9 933.1h0M1262.3 1003.8h0M1268.7 910.5h0M1270.5 940.3h0M1285.8 879.1h0M1273.1 908.1h0M1270.0 891.3h0M1271.9 987.4h0M1266.2 878.7h0M1274.2 930.7h0M1273.6 1006.6h0M1266.3 1022.3h0M1264.8 997.8h0M1269.3 1013.6h0M1269.9 917.2h0M1262.5 997.6h0M1275.0 886.1h0M1270.3 880.1h0M1270.1 1016.4h0M1277.4 941.0h0M1281.5 886.7h0M1272.7 921.8h0M1275.6 941.4h0M1266.9 959.7h0M1282.1 904.0h0M1288.5 924.7h0M1275.5 1017.9h0M1262.6 952.4h0M1270.7 971.4h0M1274.5 990.5h0M1269.5 918.9h0M1267.8 866.1h0M1268.9 929.0h0M1279.3 1007.5h0M1283.8 956.1h0M1269.0 979.8h0M1270.7 990.2h0M1278.2 875.2h0M1265.9 881.1h0M1287.9 948.5h0M1275.2 981.3h0M1276.9 893.2h0M1280.0 914.8h0M1270.9 958.3h0M1281.2 890.8h0M1274.5 883.7h0M1265.3 1001.3h0M1281.9 996.6h0M1275.6 875.5h0M1267.6 873.1h0M1273.5 912.4h0M1272.0 865.0h0M1272.1 990.6h0M1276.4 870.4h0M1270.7 924.9h0M1282.6 896.1h0M1269.0 910.3h0M1266.1 953.4h0M1273.0 887.7h0M1276.4 965.1h0M1270.8 1000.0h0M1272.0 976.7h0M1280.6 904.0h0M1281.6 882.6h0M1286.9 911.9h0M1282.9 984.1h0M1279.6 901.1h0M1276.0 978.2h0M1277.0 1008.7h0M1283.6 879.2h0M1271.6 957.4h0M1278.7 997.4h0M1269.8 872.4h0M1273.4 914.5h0M1278.3 1022.6h0M1263.6 955.7h0M1276.1 915.6h0M1264.0 1014.4h0M901.2 1211.4h0M1009.6 866.8h0M1079.7 854.9h0M1077.0 882.2h0M1081.5 889.5h0M1067.9 899.5h0M1073.3 904.1h0M1056.0 907.7h0M1065.1 911.4h0M1069.7 918.7h0M1033.3 918.7h0M1077.9 926.0h0M1037.8 933.2h0M1061.5 933.2h0M1055.1 937.8h0M1067.9 937.8h0M1077.9 936.9h0M1027.8 944.2h0M1032.3 944.2h0M1042.4 948.7h0M1046.0 948.7h0M1059.7 945.1h0M1023.2 952.4h0M999.5 959.7h0M1002.3 967.9h0M1001.4 971.5h0M1009.6 978.8h0M1012.3 983.4h0M955.8 982.4h0M975.0 982.4h0M993.2 993.4h0M1002.3 995.2h0M1017.8 993.4h0M1022.3 993.4h0M985.9 998.8h0M1274.2 783.9h0M1269.6 806.6h0M1273.3 813.9h0M1273.3 821.2h0M1270.6 836.7h0M1271.5 840.3h0M1267.8 851.3h0M1273.3 851.3h0M1197.7 806.6h0M1194.0 836.7h0M1122.1 851.3h0M1089.3 865.8h0M1149.4 858.6h0M1160.3 862.2h0M1170.4 866.8h0M1191.3 847.6h0M1205.9 851.3h0M1215.9 847.6h0M1105.7 888.6h0M1123.9 892.3h0M1113.9 895.9h0M1092.0 907.7h0M1256.9 866.8h0M1253.3 874.0h0M1238.7 903.2h0M1231.4 922.3h0M1246.0 934.2h0M1185.5 1023.2h0M1201.5 1025.9h0M1205.1 1010.7h0M1212.2 1005.4h0M1214.0 1016.9h0M1233.6 1016.9h0M1221.1 1032.1h0M1233.6 1031.2h0M1196.2 1039.2h0M1203.3 1042.8h0M1242.5 1038.4h0M1247.9 1042.8h0M1253.2 1021.4h0M1260.4 1025.9h0M1262.2 1031.2h0M1271.1 1016.1h0M1272.0 1027.6h0M1260.4 1005.4h0M1269.3 1005.4h0M1280.0 1004.5h0M1185.5 1046.4h0M1190.8 1049.9h0M1201.5 1053.5h0M1212.2 1057.1h0M1180.1 1065.1h0M1187.2 1072.2h0M1191.7 1117.7h0M1178.3 1128.4h0M1167.6 1151.6h0M1151.6 1162.3h0M1074.8 1169.5h0M1150.5 1162.3h0M1211.8 1057.7h0" stroke="#00008C" stroke-width="5.90" stroke-linecap="round" fill="none"/>
<path d="M984.6 1126.3h0M975.7 1126.9h0M1055.9 1033.4h0M1006.5 1119.8h0M1114.7 999.2h0M992.3 1150.6h0M1146.2 1011.6h0M1049.1 1099.0h0M1037.9 1084.5h0M974.3 1100.3h0M1018.7 1070.2h0M1029.8 1074.3h0M1061.1 1019.9h0M1179.1 999.1h0M971.7 1058.6h0M1214.8 932.0h0M1198.1 896.9h0M994.0 1089.9h0M1151.5 1084.9h0M1160.0 1051.3h0M970.2 1152.0h0M1021.7 1084.6h0M991.0 1115.1h0M1224.2 1005.9h0M996.3 1155.0h0M933.7 1144.0h0M1227.1 973.3h0M1189.3 956.2h0M1094.1 1082.9h0M1129.8 1006.5h0M1097.3 1157.2h0M1108.2 1106.4h0M964.3 1162.4h0M932.3 1153.9h0M1089.4 1126.7h0M1126.7 961.6h0M1079.1 951.7h0M1146.2 1034.7h0M972.6 1142.1h0M1124.1 1056.2h0M1078.5 1009.6h0M1241.0 948.0h0M1022.1 1090.6h0M898.2 1146.5h0M1018.6 1073.7h0M960.9 1173.1h0M1167.1 1053.4h0M1105.5 1012.8h0M911.9 1138.7h0M1127.5 1049.7h0M954.4 1156.8h0M1184.8 959.8h0M1057.0 1124.8h0M1003.0 1069.4h0M978.4 1036.4h0M1102.5 997.8h0M1012.0 1106.7h0M1248.4 949.1h0M1119.8 1002.1h0M928.1 1140.9h0M937.8 1164.1h0M1185.8 933.8h0M945.4 1145.5h0M1146.1 928.4h0M1039.6 1085.1h0M982.5 1077.9h0M1088.6 1141.9h0M1178.6 951.9h0M1144.2 1118.0h0M936.4 1143.8h0M1059.8 1022.8h0M1079.5 1057.7h0M969.6 1129.9h0M1154.3 926.5h0M1144.9 1122.7h0M1028.4 1070.6h0M910.2 1121.8h0M1217.2 976.1h0M920.5 1087.7h0M1149.4 1079.5h0M1133.3 1096.8h0M1061.5 969.1h0M922.5 1155.2h0M935.1 1152.3h0M968.8 1167.1h0M1113.8 991.1h0M1238.9 932.9h0M1146.7 968.8h0M1192.3 1045.5h0M1107.1 962.1h0M1145.9 1028.6h0M958.7 1145.3h0M1156.9 977.4h0M1092.4 1005.7h0M1143.8 986.1h0M1194.0 858.4h0M1137.7 1049.0h0M1185.2 913.5h0M945.2 1128.2h0M896.0 1179.7h0M1066.4 995.5h0M986.0 1065.3h0M1180.8 961.7h0M956.4 1120.2h0M979.4 1112.3h0M969.3 1163.7h0M1004.4 1000.9h0M1214.7 965.0h0M1006.3 1112.4h0M1157.7 1113.0h0M1245.4 909.2h0M918.9 1097.9h0M1134.8 1107.3h0M1046.3 1143.9h0M1086.5 1130.8h0M1058.3 1028.5h0M955.1 1127.3h0M1046.0 1129.3h0M1177.6 994.2h0M1176.1 958.4h0M1114.8 984.4h0M1007.4 1097.4h0M1133.1 1056.7h0M1052.0 1003.5h0M1107.1 1053.5h0M1056.9 1003.9h0M1179.2 1003.0h0M979.6 1124.3h0M993.8 1113.7h0M1088.5 1096.6h0M1070.1 1053.0h0M902.5 1140.3h0M969.0 1157.3h0M1197.6 907.7h0M1095.0 1096.4h0M1062.7 1070.5h0M1000.6 1104.1h0M1009.9 1080.0h0M1168.1 1024.3h0M1249.0 991.0h0M1078.3 1158.8h0M1037.7 1091.2h0M1198.3 930.1h0M1242.0 994.1h0M1142.7 899.0h0M1089.7 1084.7h0M1126.7 1056.6h0M1028.7 1053.1h0M1046.0 1024.7h0M1031.9 1073.4h0M1033.7 1083.9h0M914.3 1072.3h0M1082.6 1078.9h0M1006.6 1115.7h0M1140.3 1086.7h0M1026.0 1044.0h0M1191.5 884.5h0M1024.1 1148.0h0M1170.1 960.5h0M1072.9 938.9h0M1195.7 926.8h0M1075.1 1022.2h0M964.8 1098.5h0M937.2 1072.5h0M1039.6 1072.8h0M1169.5 886.0h0M1097.1 1036.3h0M905.3 1149.0h0M1026.5 1104.7h0M939.9 1117.1h0M1011.1 1023.0h0M1020.4 1110.8h0M972.1 1061.6h0M1150.2 953.4h0M1095.5 1036.1h0M1034.3 1074.5h0M964.7 1118.5h0M1154.2 953.8h0M1126.9 955.5h0M893.6 1161.9h0M951.5 1085.2h0M910.7 1124.5h0M993.3 1108.2h0M1029.2 1049.2h0M919.1 1172.5h0M1127.6 980.9h0M903.0 1146.6h0M1012.1 1032.9h0M906.6 1166.6h0M1118.3 1014.5h0M954.1 1146.7h0M1196.7 870.1h0M1126.3 959.1h0M894.0 1121.6h0M946.3 1139.0h0M953.0 1129.3h0M920.4 1113.0h0M1114.4 979.6h0M996.3 1106.8h0M1001.0 1044.5h0M1056.8 978.5h0M936.8 1119.4h0M978.0 1100.4h0M1116.3 984.7h0M1022.8 1090.4h0M1072.1 1027.5h0M938.4 1137.8h0M980.9 1121.9h0M1208.5 941.5h0M1027.5 1045.5h0M1146.7 956.5h0M1072.5 1059.3h0M1139.2 911.2h0M1043.4 1091.4h0M1128.2 1002.9h0M1171.2 973.3h0M1170.0 974.6h0M968.7 1148.0h0M948.7 1128.3h0M889.2 1172.1h0M1062.7 1068.6h0M993.5 1132.7h0M988.1 1107.7h0M1191.0 953.1h0M1189.7 952.8h0M1035.2 1096.1h0M969.2 1121.1h0M1007.7 1129.6h0M1125.8 963.5h0M1222.1 885.2h0M1032.1 1047.0h0M1076.6 1040.9h0M1022.4 1076.0h0M910.9 1145.5h0M1015.5 1078.8h0M974.8 1108.6h0M1093.5 971.1h0M961.5 1138.8h0M1168.8 952.0h0M1022.7 1050.4h0M948.3 1082.6h0M1063.6 1057.3h0M1061.3 1058.9h0M1072.1 1035.5h0M1194.3 953.4h0M1026.5 1011.7h0M1083.0 955.8h0M914.6 1121.0h0M1017.2 1041.8h0M1018.3 1074.5h0M979.9 1114.3h0M1050.1 1047.7h0M1000.5 1123.0h0M1030.9 1060.1h0M936.1 1136.1h0M900.1 1146.1h0M939.1 1093.4h0M917.3 1117.5h0M1016.6 1078.6h0M973.0 1060.7h0M936.5 1142.5h0M1017.9 1089.8h0M1008.6 1100.7h0M996.7 1056.3h0M1026.8 1071.8h0M913.3 1128.4h0M1034.9 1066.8h0M1002.0 1038.8h0M1032.3 1022.2h0M986.2 1063.8h0M1038.8 1070.5h0M932.5 1176.3h0M991.8 1046.4h0M991.1 1075.4h0M907.6 1173.5h0M915.6 1118.8h0M918.0 1120.4h0M954.3 1122.1h0M888.6 1147.8h0M1044.0 1032.0h0M1043.6 1048.1h0M899.2 1129.5h0M929.2 1086.0h0M1265.8 943.2h0M1273.0 893.8h0M1270.9 987.9h0M1279.2 908.7h0M1275.3 1007.1h0M1270.7 898.0h0M1279.1 928.2h0M1273.4 867.7h0M1275.9 862.7h0M1272.4 850.1h0M1269.8 967.6h0M1269.6 955.2h0" stroke="#0000C0" stroke-width="5.90" stroke-linecap="round" fill="none"/>
<path d="M981.3 1115.6h0M974.5 1048.7h0M903.8 1131.5h0M1124.9 1091.1h0M1003.7 1042.8h0M1224.2 874.4h0M1038.6 1067.6h0M890.3 1124.0h0M1216.1 890.8h0M1018.2 1115.7h0M1031.6 1120.7h0M973.9 1147.9h0M1120.2 1006.9h0M974.8 1085.1h0M883.2 1139.0h0M1159.3 912.5h0M1123.9 904.3h0M1070.5 1056.4h0M994.4 1112.3h0M1126.4 905.9h0M972.8 1051.1h0M1034.0 973.4h0M916.7 1141.8h0M909.9 1164.0h0M1016.5 1158.5h0M910.7 1140.0h0M1049.3 1048.0h0M1046.6 1162.0h0M1217.6 932.8h0M1145.1 1022.8h0M1070.2 1017.7h0M1193.0 1062.3h0M1031.4 1118.7h0M1087.8 1070.2h0M1066.4 1051.4h0M1126.6 1039.6h0M1157.5 1027.7h0M934.6 1070.0h0M1115.7 1101.6h0M949.5 1145.5h0M1179.6 1085.2h0M1185.4 991.6h0M1186.9 959.6h0M917.7 1083.7h0M968.6 1162.7h0M1115.9 1044.6h0M911.3 1157.4h0M1138.8 932.9h0M1125.9 1102.4h0M918.8 1113.1h0M1199.2 947.1h0M1079.5 1084.7h0M1184.9 1048.9h0M1153.6 908.6h0M927.4 1107.4h0M1160.1 927.8h0M1077.8 1022.3h0M934.0 1079.1h0M1111.2 1057.5h0M963.0 1111.4h0M1210.3 1001.7h0M1074.6 1085.7h0M1087.1 965.8h0M1218.8 963.8h0M1081.9 1060.0h0M1065.3 985.7h0M1120.8 978.4h0M1034.0 1147.8h0M1020.5 1071.5h0M926.9 1155.8h0M934.8 1158.6h0M957.9 1101.1h0M1155.5 1080.0h0M1078.6 1015.2h0M1134.4 970.4h0M873.2 1141.8h0M1094.0 1027.7h0M997.2 1117.2h0M1157.6 918.2h0M943.7 1097.4h0M968.1 1099.6h0M882.6 1144.6h0M1176.9 992.9h0M998.7 1088.3h0M960.9 1067.2h0M1118.2 988.5h0M1149.4 901.6h0M1139.5 997.6h0M1247.5 977.5h0M1162.5 967.6h0M940.4 1159.4h0M1166.3 946.4h0M1055.7 971.8h0M881.8 1158.7h0M1146.3 1010.5h0M1212.7 982.6h0M1045.1 1089.6h0M1112.9 1111.6h0M1164.1 1051.6h0M1014.4 1143.3h0M1164.2 1026.4h0M1171.7 1005.9h0M1008.9 1118.8h0M925.2 1130.3h0M942.2 1141.4h0M962.6 1135.6h0M1108.7 986.6h0M953.2 1129.7h0M1140.3 1052.1h0M1014.7 1078.1h0M1051.7 1015.6h0M1122.8 997.6h0M1118.9 1079.9h0M1122.0 1047.5h0M1148.7 976.5h0M1050.9 1073.6h0M1007.1 1126.3h0M1236.0 976.9h0M1136.9 1089.0h0M919.0 1136.1h0M1076.5 1114.4h0M924.8 1139.9h0M1168.7 1022.5h0M1040.4 1052.2h0M1125.2 1039.1h0M1069.9 1058.7h0M1055.9 1104.1h0M928.2 1153.5h0M1049.7 1101.4h0M1096.2 974.6h0M961.6 1141.2h0M1174.8 919.6h0M1084.9 1061.4h0M1123.1 949.6h0M1021.0 1044.3h0M964.9 1173.7h0M1037.1 1050.1h0M1065.4 1076.0h0M1182.1 901.2h0M1039.1 1015.8h0M1061.7 1014.0h0M940.9 1077.7h0M1215.4 992.8h0M1123.1 961.8h0M1040.4 1067.4h0M1223.1 1021.8h0M1160.0 1004.0h0M959.5 1142.0h0M1169.2 936.8h0M966.4 1118.1h0M1258.7 949.2h0M1089.4 1020.3h0M1106.6 1079.1h0M1202.8 925.2h0M1200.1 856.2h0M1045.2 1123.9h0M1130.0 1065.5h0M989.2 1079.7h0M1068.0 1029.8h0M1053.2 1072.0h0M1219.1 978.7h0M1116.2 1116.5h0M1084.3 992.1h0M1127.2 1054.9h0M938.2 1133.8h0M1119.7 923.7h0M1011.2 990.5h0M1133.1 1008.3h0M983.4 1116.7h0M1175.6 1007.2h0M1174.5 1013.3h0M898.7 1171.9h0M1074.5 992.3h0M1204.3 966.7h0M1161.3 945.1h0M885.1 1142.5h0M1218.9 1000.4h0M1048.6 1070.8h0M1065.7 971.9h0M895.2 1146.0h0M931.7 1180.4h0M1125.9 1085.0h0M1137.4 1103.9h0M1015.6 1045.2h0M1157.7 950.2h0M1155.8 1006.8h0M1001.1 1117.9h0M982.6 1156.1h0M1224.4 921.9h0M1185.9 962.9h0M979.5 1153.8h0M956.8 1101.5h0M1206.5 966.1h0M1197.0 901.6h0M1175.3 917.3h0M995.4 1009.7h0M1039.8 1020.5h0M1039.0 1091.8h0M960.7 1174.9h0M1101.7 1007.9h0M1029.5 1115.6h0M1136.0 1100.7h0M1191.1 1057.0h0M973.9 1084.0h0M1034.6 1058.5h0M1105.9 926.0h0M1216.4 973.4h0M1180.6 924.9h0M1154.2 990.9h0M955.1 1120.6h0M972.0 1062.6h0M1094.5 1064.0h0M1202.2 951.1h0M1028.8 1134.8h0M1078.2 941.3h0M1096.6 1079.3h0M1111.8 1053.7h0M1158.5 1132.2h0M1191.9 990.7h0M930.0 1135.1h0M973.6 1136.4h0M901.8 1143.0h0M1221.5 923.1h0M1102.5 1054.5h0M1049.6 1044.4h0M900.5 1150.6h0M1174.0 894.5h0M1115.0 951.7h0M1248.1 929.5h0M1119.5 1103.3h0M1044.8 1088.7h0M902.9 1180.2h0M1068.2 1075.4h0M1065.3 1153.2h0M1057.4 1146.8h0M1092.8 993.0h0M1007.6 1153.8h0M937.5 1164.5h0M1187.2 941.8h0M1050.2 984.0h0M1110.2 1131.1h0M1160.3 965.3h0M899.1 1141.2h0M964.1 1047.6h0M940.7 1110.3h0M1003.8 1101.6h0M1097.3 1076.7h0M968.4 1139.0h0M1133.8 1093.7h0M1202.5 960.4h0M1056.3 1007.2h0M929.8 1177.7h0M1110.4 985.2h0M993.9 1085.2h0M970.6 1124.8h0M1086.6 1031.3h0M961.6 1142.3h0M1201.2 876.6h0M905.8 1177.8h0M1138.5 968.8h0M924.0 1158.0h0M1177.3 923.2h0M964.6 1138.7h0M916.0 1163.2h0M1062.2 1071.0h0M1091.1 974.4h0M1114.1 1000.2h0M1154.3 952.6h0M1010.5 1030.6h0M1000.7 1047.0h0M1044.2 1035.3h0M1075.7 981.5h0M1015.7 1067.7h0M1139.3 952.1h0M1099.1 955.7h0M1176.2 948.1h0M1046.5 1065.7h0M1100.7 995.1h0M898.5 1145.8h0M1025.0 1047.9h0M1040.8 1046.4h0M980.5 1126.8h0M1157.0 949.7h0M887.4 1119.1h0M1025.6 1035.8h0M1174.4 919.2h0M928.6 1123.8h0M914.0 1105.1h0M1074.0 1036.8h0M963.2 1099.1h0M923.0 1173.2h0M1049.1 1084.5h0M918.7 1104.2h0M1007.4 1076.8h0M1159.3 923.5h0M1094.4 1026.3h0M1184.2 962.9h0M960.2 1091.4h0M1204.4 938.9h0M971.2 1161.6h0M904.0 1165.5h0M924.4 1105.7h0M905.1 1122.7h0M1000.9 1123.3h0M1137.0 953.0h0M958.4 1127.6h0M1075.8 1048.0h0M1017.0 1048.5h0M1019.1 1080.0h0M928.1 1142.9h0M972.7 1161.7h0M907.4 1102.3h0M1176.1 912.8h0M1003.2 1125.3h0M1100.2 957.9h0M896.6 1124.1h0M985.3 1028.4h0M1186.8 879.7h0M1005.8 1013.3h0M908.6 1137.5h0M1151.5 983.5h0M1134.1 990.1h0M924.9 1104.5h0M896.2 1161.0h0M1166.0 958.1h0M1134.8 948.7h0M958.0 1107.9h0M964.2 1085.8h0M1152.7 963.2h0M936.2 1129.2h0M912.8 1145.5h0M963.5 1146.9h0M909.9 1141.3h0M945.5 1167.0h0M1089.8 980.9h0M943.2 1106.9h0M954.5 1120.8h0M1007.5 1106.9h0M976.5 1094.6h0M897.6 1122.2h0M934.2 1175.4h0M996.8 1052.9h0M1016.5 1056.9h0M899.3 1152.2h0M1134.7 984.7h0M1127.2 1000.9h0M1006.1 1132.3h0M945.1 1157.9h0M1051.7 1031.0h0M953.4 1072.6h0M1070.2 996.9h0M927.5 1163.8h0M992.0 1093.3h0M1048.7 1070.8h0M1075.4 962.2h0M1141.7 959.2h0M1126.5 998.5h0M1187.7 910.0h0M999.1 1028.3h0M918.6 1160.3h0M1007.2 1033.8h0M921.5 1143.6h0M934.3 1103.4h0M987.3 1113.5h0M910.2 1132.9h0M1046.3 1052.6h0M959.3 1053.6h0M940.4 1146.2h0M952.4 1140.0h0M1033.1 1072.3h0M927.7 1103.1h0M900.1 1158.1h0M962.6 1096.1h0M1013.4 1105.0h0M1047.9 1035.9h0M957.5 1127.9h0M921.1 1120.4h0M1007.5 1037.6h0M914.6 1141.0h0M941.2 1119.9h0M951.1 1107.6h0M1040.8 1040.6h0M908.2 1142.5h0M913.6 1135.3h0M996.8 1064.6h0M926.1 1150.8h0M933.4 1141.0h0M943.6 1087.8h0M920.9 1145.0h0M907.2 1129.5h0M939.7 1108.7h0M1028.8 1010.2h0M985.8 1062.0h0M1013.3 1037.7h0M1048.6 1041.4h0M1002.2 1115.1h0M960.0 1109.3h0M983.2 1118.7h0M1023.3 1071.1h0M984.9 1059.5h0M1015.9 1071.2h0M941.5 1143.3h0M944.2 1102.3h0M1033.9 1031.4h0M903.9 1099.6h0M976.4 1150.7h0M993.0 1113.1h0M937.7 1143.3h0M1275.2 871.6h0M1278.0 898.7h0M1266.1 966.6h0M1276.0 898.2h0M1265.5 931.5h0M1277.4 900.4h0M1265.4 995.6h0M1279.6 911.1h0M1282.3 871.7h0M1282.0 895.3h0M1267.3 864.1h0M1273.6 1000.3h0M1273.6 870.0h0M1278.0 970.7h0M1275.4 1011.1h0M1266.2 904.3h0M1270.9 872.3h0M1274.3 907.6h0M1275.3 995.8h0M1268.5 916.6h0M1274.6 919.9h0" stroke="#0000F0" stroke-width="5.90" stroke-linecap="round" fill="none"/>
<path d="M1200.5 903.4h0M958.3 1039.6h0M1117.8 971.3h0M1055.0 995.5h0M1188.7 926.9h0M981.3 1122.2h0M1161.1 1001.9h0M941.8 1134.0h0M998.3 1116.5h0M1119.6 1084.5h0M1014.4 1023.9h0M983.5 1017.0h0M1106.3 983.9h0M1189.5 864.1h0M1110.5 1023.0h0M1171.6 1070.2h0M1130.8 1087.2h0M1095.8 1091.9h0M1039.7 1075.8h0M1112.8 916.4h0M1163.1 989.4h0M1166.1 970.3h0M1159.0 960.0h0M1117.8 987.9h0M1181.1 1015.8h0M917.6 1121.3h0M1021.3 1150.6h0M909.0 1160.6h0M1057.1 1072.7h0M879.2 1162.3h0M1136.3 990.9h0M1160.0 929.8h0M926.8 1175.3h0M962.3 1133.5h0M929.6 1123.5h0M1257.0 1020.6h0M1062.9 977.4h0M1057.7 983.1h0M1179.2 986.2h0M1125.4 1030.3h0M909.8 1088.6h0M1095.4 961.7h0M1075.1 1100.5h0M934.5 1170.1h0M1036.4 1085.0h0M949.3 1179.7h0M1154.7 911.9h0M1093.9 962.2h0M1132.1 1016.4h0M1128.4 1002.2h0M954.0 1163.5h0M1089.2 993.8h0M1129.9 959.0h0M1044.9 1095.0h0M1169.9 896.4h0M1069.1 1033.0h0M1084.7 1042.8h0M1039.7 1066.5h0M899.8 1155.9h0M1050.6 1037.6h0M1142.1 941.4h0M964.0 1134.6h0M1157.4 959.4h0M1152.0 965.7h0M992.8 1106.2h0M977.8 1134.7h0M979.7 1141.6h0M1012.1 1018.9h0M930.6 1180.9h0M1138.3 965.4h0M924.9 1116.4h0M1079.9 1044.5h0M1142.0 977.8h0M1031.6 1075.8h0M895.3 1165.4h0M987.2 1106.7h0M928.6 1174.8h0M978.7 1120.2h0M916.7 1134.5h0M926.2 1069.9h0M948.7 1107.9h0M907.4 1169.1h0M1043.8 1052.6h0M926.2 1152.5h0M922.5 1124.0h0M1005.1 1089.0h0M954.7 1140.9h0M1279.5 941.6h0M1282.5 981.4h0M1274.0 912.6h0M1273.7 877.8h0M1280.1 940.7h0" stroke="#0030FF" stroke-width="5.90" stroke-linecap="round" fill="none"/>
<path d="M899.6 1129.5h0M889.4 1132.0h0M893.1 1131.9h0M896.0 1131.6h0M899.3 1131.8h0M902.4 1131.6h0M886.5 1135.3h0M889.4 1135.3h0M893.2 1135.1h0M895.9 1135.7h0M899.6 1135.9h0M902.1 1135.7h0M905.9 1135.5h0M909.4 1135.6h0M883.9 1138.8h0M886.5 1138.1h0M889.8 1138.6h0M892.4 1139.1h0M896.1 1139.2h0M899.5 1138.8h0M902.6 1138.8h0M905.4 1138.1h0M909.4 1138.7h0M911.9 1139.1h0M880.7 1142.0h0M883.6 1141.6h0M886.6 1142.3h0M890.0 1141.2h0M892.5 1142.3h0M896.6 1141.3h0M899.0 1141.6h0M902.5 1142.3h0M906.2 1141.3h0M909.5 1141.4h0M911.7 1141.9h0M880.2 1145.6h0M883.4 1145.3h0M886.7 1144.9h0M889.2 1144.5h0M892.6 1144.7h0M895.8 1144.5h0M899.8 1145.2h0M903.2 1144.4h0M905.6 1144.4h0M909.6 1144.5h0M912.2 1145.2h0M879.9 1148.1h0M883.8 1148.3h0M887.1 1148.3h0M889.6 1148.0h0M893.0 1147.9h0M896.0 1148.3h0M899.2 1147.9h0M903.0 1147.7h0M905.8 1147.9h0M909.2 1148.0h0M912.5 1148.3h0M915.1 1148.0h0M880.2 1151.3h0M883.4 1151.1h0M886.2 1151.1h0M890.2 1151.1h0M892.7 1151.3h0M896.4 1151.8h0M899.6 1151.8h0M902.8 1151.6h0M905.4 1151.7h0M909.1 1151.8h0M912.6 1151.4h0M914.9 1151.7h0M880.0 1154.8h0M883.9 1154.7h0M886.5 1155.1h0M889.4 1154.3h0M893.6 1155.2h0M896.4 1154.3h0M899.1 1154.2h0M902.5 1154.1h0M906.0 1155.2h0M909.3 1154.4h0M911.6 1154.8h0M915.8 1154.8h0M880.4 1157.8h0M883.0 1157.8h0M886.7 1158.3h0M889.4 1157.8h0M893.0 1158.1h0M895.9 1157.9h0M899.3 1157.4h0M902.4 1157.4h0M905.2 1158.1h0M909.4 1158.2h0M912.3 1157.3h0M915.0 1157.6h0M880.5 1161.2h0M883.2 1161.5h0M886.7 1161.0h0M890.4 1161.1h0M892.4 1161.3h0M896.6 1160.5h0M899.5 1160.7h0M902.2 1160.6h0M905.8 1161.1h0M908.4 1161.4h0M912.1 1161.5h0M915.4 1160.5h0M879.7 1164.6h0M884.0 1164.4h0M886.7 1163.8h0M889.6 1164.0h0M893.2 1163.6h0M896.8 1164.1h0M899.9 1164.2h0M902.7 1164.3h0M906.1 1164.5h0M908.4 1164.6h0M912.2 1163.9h0M915.0 1164.6h0M879.8 1167.5h0M882.9 1167.1h0M886.3 1167.5h0M889.5 1167.7h0M893.4 1167.5h0M895.7 1167.1h0M898.8 1167.1h0M902.6 1168.0h0M905.3 1167.5h0M908.4 1168.0h0M912.6 1167.4h0M914.9 1167.1h0M880.0 1170.4h0M883.1 1170.7h0M887.0 1170.8h0M889.3 1170.9h0M893.4 1170.3h0M896.5 1170.6h0M899.6 1170.7h0M902.5 1170.2h0M905.6 1170.6h0M909.5 1170.4h0M911.8 1170.8h0M883.2 1174.3h0M887.1 1174.1h0M890.0 1174.3h0M892.6 1173.2h0M895.6 1174.3h0M900.0 1174.2h0M903.0 1173.4h0M905.9 1174.4h0M909.1 1173.3h0M912.7 1173.5h0M886.8 1177.4h0M889.5 1176.6h0M892.5 1176.5h0M896.3 1177.2h0M899.8 1177.4h0M902.3 1177.0h0M905.5 1176.7h0M909.3 1177.3h0M886.3 1180.4h0M890.1 1179.7h0M893.5 1180.0h0M896.4 1180.2h0M899.0 1179.8h0M902.6 1179.9h0M906.3 1179.9h0M893.1 1183.1h0M896.3 1183.0h0M898.9 1182.9h0M902.2 1182.9h0" stroke="#0060FF" stroke-width="5.02" stroke-linecap="round" fill="none"/>
<path d="M888.9 1134.8h0M891.5 1134.5h0M895.3 1134.8h0M898.0 1134.9h0M901.1 1135.1h0M885.8 1137.8h0M888.9 1137.5h0M891.8 1138.1h0M894.5 1137.7h0M897.4 1138.3h0M901.5 1138.5h0M903.4 1137.5h0M883.0 1141.3h0M886.1 1140.9h0M889.3 1140.5h0M892.5 1141.3h0M894.8 1140.9h0M898.2 1140.8h0M901.6 1140.6h0M904.4 1141.3h0M907.1 1140.8h0M883.2 1143.4h0M886.0 1143.5h0M888.8 1143.9h0M892.0 1144.5h0M895.0 1144.6h0M897.9 1143.7h0M901.5 1143.7h0M904.0 1144.3h0M906.8 1143.7h0M883.0 1146.9h0M886.1 1146.5h0M888.8 1146.5h0M891.7 1146.9h0M895.4 1147.0h0M898.5 1146.4h0M900.9 1147.0h0M904.5 1146.6h0M907.3 1147.0h0M909.6 1146.8h0M882.9 1150.4h0M886.1 1150.1h0M888.5 1149.7h0M891.6 1150.2h0M894.5 1150.1h0M897.4 1150.5h0M900.8 1150.1h0M903.6 1149.9h0M907.3 1149.7h0M880.4 1153.0h0M882.7 1152.6h0M885.9 1152.6h0M889.3 1152.8h0M891.9 1152.5h0M894.8 1153.2h0M897.4 1152.5h0M901.0 1153.6h0M904.3 1153.1h0M907.5 1152.7h0M909.7 1152.5h0M883.6 1155.9h0M886.1 1155.9h0M889.5 1155.5h0M891.9 1155.8h0M895.0 1155.8h0M898.4 1155.7h0M901.0 1156.1h0M903.7 1155.6h0M906.6 1156.5h0M883.3 1159.2h0M886.1 1159.0h0M889.0 1158.8h0M891.6 1159.0h0M894.8 1158.6h0M898.2 1158.6h0M901.5 1158.7h0M904.1 1159.5h0M907.1 1158.7h0M883.2 1162.3h0M885.6 1162.5h0M889.1 1162.4h0M891.8 1161.4h0M895.2 1161.6h0M897.5 1162.5h0M900.8 1161.9h0M904.6 1162.1h0M907.0 1161.7h0M886.0 1165.0h0M889.3 1165.2h0M892.2 1165.0h0M895.0 1164.8h0M898.5 1164.9h0M901.0 1164.5h0M903.7 1165.1h0M889.2 1168.2h0M892.1 1167.6h0M895.4 1167.6h0M897.4 1167.7h0M901.0 1167.4h0" stroke="#00E0F4" stroke-width="5.02" stroke-linecap="round" fill="none"/>
<path d="M893.4 1145.3h0M887.6 1148.3h0M889.9 1147.6h0M893.1 1148.1h0M896.2 1148.3h0M898.4 1148.2h0M902.1 1148.3h0M884.3 1150.7h0M887.3 1150.8h0M889.8 1150.7h0M893.0 1151.1h0M895.7 1150.7h0M899.4 1151.5h0M901.5 1151.2h0M884.5 1153.7h0M887.2 1153.4h0M889.9 1154.1h0M893.0 1153.7h0M896.5 1154.0h0M899.1 1153.8h0M902.3 1154.2h0M905.5 1154.2h0M884.5 1157.1h0M887.3 1157.5h0M890.3 1156.9h0M892.6 1157.5h0M896.5 1157.3h0M898.6 1157.6h0M901.7 1156.9h0M904.7 1156.6h0M883.6 1159.4h0M886.7 1160.0h0M890.1 1159.9h0M892.7 1159.7h0M896.2 1160.4h0M899.4 1159.5h0M902.0 1160.3h0M905.3 1160.2h0M883.5 1163.4h0M887.3 1162.9h0M890.0 1162.4h0M892.9 1163.1h0M896.2 1163.5h0M899.3 1163.0h0M901.6 1163.2h0M904.6 1163.5h0M884.6 1166.1h0M886.8 1165.6h0M890.4 1165.5h0M893.0 1165.8h0M895.9 1166.3h0M899.2 1166.2h0M902.3 1166.0h0M905.0 1165.6h0M887.5 1169.3h0M889.7 1169.6h0M893.2 1169.1h0M895.8 1169.1h0M899.0 1168.7h0M901.7 1168.8h0M890.1 1171.6h0M893.1 1171.7h0M896.0 1172.5h0M899.1 1171.7h0" stroke="#60FF98" stroke-width="5.02" stroke-linecap="round" fill="none"/>
<path d="M895.9 1160.4h0M899.3 1160.5h0M890.3 1162.4h0M892.6 1162.5h0M895.5 1163.0h0M898.5 1163.6h0M902.3 1163.1h0M905.0 1162.9h0M887.4 1166.3h0M890.1 1166.5h0M892.9 1165.9h0M896.4 1166.2h0M898.7 1166.3h0M901.5 1165.8h0M905.6 1165.6h0M890.1 1168.7h0M893.1 1169.4h0M895.8 1168.6h0M899.3 1168.5h0M901.7 1169.1h0M904.9 1169.5h0M893.3 1172.2h0M895.4 1172.2h0M899.5 1171.9h0M902.3 1172.1h0" stroke="#A8FF50" stroke-width="5.02" stroke-linecap="round" fill="none"/>
<path d="M886.4 1154.3h0M886.4 1156.4h0" stroke="#F0FF10" stroke-width="5.02" stroke-linecap="round" fill="none"/>
<path d="M903.1 1166.4h0M900.4 1169.1h0M902.7 1168.9h0M904.7 1169.2h0M907.0 1169.3h0M902.0 1171.2h0M905.2 1171.0h0M907.2 1171.2h0" stroke="#FFA000" stroke-width="5.02" stroke-linecap="round" fill="none"/>
<path d="M896.7 1175.7h0M899.0 1175.3h0M901.5 1176.4h0M903.9 1175.6h0M906.6 1175.4h0M899.6 1178.3h0M901.0 1177.7h0M903.4 1177.9h0M907.0 1177.8h0" stroke="#F01000" stroke-width="5.02" stroke-linecap="round" fill="none"/>
<path d="M903.5 1176.0h0M902.3 1177.8h0M904.0 1176.9h0" stroke="#A00000" stroke-width="5.02" stroke-linecap="round" fill="none"/>
<path d="M1272.4 887.4h0M1275.9 886.7h0M1272.6 890.9h0M1276.0 890.1h0M1279.2 890.0h0M1272.1 893.9h0M1276.1 893.0h0M1278.4 893.2h0M1269.5 896.4h0M1271.9 896.3h0M1275.8 897.3h0M1279.0 896.7h0M1269.4 900.4h0M1272.8 900.4h0M1275.0 899.4h0M1278.6 900.1h0M1281.5 899.7h0M1269.3 903.7h0M1272.9 902.8h0M1276.2 902.8h0M1279.1 902.8h0M1281.6 903.4h0M1269.2 906.2h0M1272.6 906.8h0M1275.2 906.9h0M1278.5 906.2h0M1281.6 906.3h0M1269.6 909.5h0M1271.8 910.1h0M1275.4 910.2h0M1279.3 909.7h0M1281.7 909.5h0M1268.6 912.4h0M1272.8 912.8h0M1275.8 912.7h0M1279.2 913.2h0M1282.1 912.7h0M1269.4 915.7h0M1272.2 915.9h0M1275.9 915.9h0M1278.4 916.5h0M1282.3 916.4h0M1268.8 919.7h0M1272.5 919.5h0M1275.7 919.1h0M1278.9 919.2h0M1282.2 918.6h0M1269.0 922.4h0M1272.5 922.1h0M1275.5 922.7h0M1278.7 922.5h0M1282.2 922.0h0M1266.1 926.1h0M1269.2 925.2h0M1272.3 926.1h0M1275.6 926.1h0M1279.2 926.1h0M1282.1 925.8h0M1266.2 928.5h0M1269.1 928.4h0M1273.0 928.9h0M1275.5 928.6h0M1278.4 928.6h0M1282.4 928.4h0M1269.6 932.3h0M1272.3 932.1h0M1275.1 931.6h0M1279.2 931.7h0M1282.3 932.5h0M1269.7 934.8h0M1272.5 935.7h0M1275.6 934.7h0M1279.0 935.2h0M1282.0 935.6h0M1268.6 938.7h0M1272.4 938.5h0M1275.0 938.2h0M1278.9 938.0h0M1282.1 938.5h0M1269.5 941.0h0M1272.0 941.6h0M1276.2 941.1h0M1279.3 941.8h0M1281.5 941.6h0M1269.6 944.8h0M1272.2 945.1h0M1275.5 945.1h0M1279.0 945.2h0M1282.2 944.4h0M1269.5 948.4h0M1272.3 948.3h0M1275.6 947.7h0M1278.4 947.6h0M1282.6 948.2h0M1269.2 951.2h0M1271.9 951.1h0M1275.4 950.6h0M1279.2 950.7h0M1281.8 951.0h0M1269.2 954.7h0M1272.4 954.1h0M1276.2 954.2h0M1279.0 954.4h0M1281.7 954.0h0M1269.3 957.1h0M1271.9 957.9h0M1275.8 957.3h0M1278.5 957.9h0M1269.7 961.1h0M1272.0 960.8h0M1275.5 960.7h0M1278.2 961.1h0M1272.3 963.9h0M1276.1 964.5h0M1278.7 964.0h0M1272.8 967.5h0M1275.1 967.8h0M1278.5 967.0h0M1275.5 970.8h0" stroke="#0070FF" stroke-width="5.02" stroke-linecap="round" fill="none"/>
<path d="M1277.1 899.0h0M1273.7 902.3h0M1277.4 902.5h0M1280.0 902.4h0M1273.7 905.4h0M1277.1 905.3h0M1279.9 904.9h0M1274.2 908.5h0M1276.5 908.5h0M1280.0 908.1h0M1273.5 910.9h0M1276.9 911.4h0M1280.1 911.5h0M1273.7 913.6h0M1277.5 913.8h0M1280.2 914.1h0M1274.0 917.3h0M1277.5 917.0h0M1279.5 916.5h0M1274.1 919.7h0M1276.9 920.1h0M1280.1 919.5h0M1282.5 919.4h0M1273.4 922.5h0M1277.3 922.5h0M1279.6 922.6h0M1282.8 923.0h0M1271.1 925.7h0M1273.8 925.9h0M1277.3 925.8h0M1280.0 926.0h0M1274.5 929.1h0M1277.4 929.1h0M1280.3 929.4h0M1271.5 931.6h0M1274.3 932.3h0M1277.2 931.6h0M1280.3 931.7h0M1273.9 935.4h0M1276.7 935.2h0M1279.8 934.8h0M1282.5 935.0h0M1271.6 938.5h0M1274.2 938.5h0M1276.5 937.7h0M1280.6 938.0h0M1274.2 940.8h0M1277.5 940.6h0M1280.4 941.4h0M1274.3 944.0h0M1276.9 943.7h0M1280.1 943.9h0M1274.1 947.3h0M1277.4 947.5h0M1279.9 946.9h0M1273.8 950.4h0M1277.3 949.8h0M1280.0 950.0h0M1273.4 952.6h0M1276.8 953.0h0M1280.3 953.4h0M1274.5 955.5h0M1277.1 955.8h0M1279.6 956.5h0M1277.1 958.6h0" stroke="#00B8FF" stroke-width="5.02" stroke-linecap="round" fill="none"/>
<path d="M1277.7 927.3h0M1276.8 929.2h0M1279.2 929.7h0M1277.2 932.6h0M1280.0 931.7h0M1276.8 935.3h0M1279.6 934.3h0M1277.0 937.7h0M1279.5 937.0h0M1275.0 939.7h0M1277.3 939.9h0M1280.2 940.0h0M1274.8 942.3h0M1277.4 943.0h0M1280.0 942.0h0M1277.5 945.5h0M1279.5 944.7h0M1274.8 947.6h0M1277.2 947.7h0M1279.9 948.0h0M1276.6 950.6h0M1280.1 950.4h0M1277.2 952.9h0M1279.8 953.2h0M1276.8 956.1h0M1279.6 955.3h0M1276.6 958.6h0M1279.4 958.5h0M1276.8 960.2h0M1279.2 960.4h0" stroke="#20F0F0" stroke-width="5.02" stroke-linecap="round" fill="none"/>
<rect x="114.9" y="762.9" width="441.5" height="469.6" fill="none" stroke="#262626" stroke-width="2.0"/>
<line x1="106.4" y1="1211.20" x2="114.9" y2="1211.20" stroke="#262626" stroke-width="1.4"/>
<text x="58.72" y="1221.20" font-size="25.50" fill="#1a1a1a" textLength="38.36" lengthAdjust="spacingAndGlyphs">0.0</text>
<line x1="106.4" y1="1125.60" x2="114.9" y2="1125.60" stroke="#262626" stroke-width="1.4"/>
<text x="58.71" y="1135.60" font-size="25.50" fill="#1a1a1a" textLength="38.69" lengthAdjust="spacingAndGlyphs">0.2</text>
<line x1="106.4" y1="1040.00" x2="114.9" y2="1040.00" stroke="#262626" stroke-width="1.4"/>
<text x="58.73" y="1050.00" font-size="25.50" fill="#1a1a1a" textLength="38.07" lengthAdjust="spacingAndGlyphs">0.4</text>
<line x1="106.4" y1="954.40" x2="114.9" y2="954.40" stroke="#262626" stroke-width="1.4"/>
<text x="58.72" y="964.40" font-size="25.50" fill="#1a1a1a" textLength="38.50" lengthAdjust="spacingAndGlyphs">0.6</text>
<line x1="106.4" y1="868.80" x2="114.9" y2="868.80" stroke="#262626" stroke-width="1.4"/>
<text x="58.72" y="878.80" font-size="25.50" fill="#1a1a1a" textLength="38.48" lengthAdjust="spacingAndGlyphs">0.8</text>
<line x1="106.4" y1="783.20" x2="114.9" y2="783.20" stroke="#262626" stroke-width="1.4"/>
<text x="57.64" y="793.20" font-size="25.50" fill="#1a1a1a" textLength="39.47" lengthAdjust="spacingAndGlyphs">1.0</text>
<line x1="135.00" y1="1232.5" x2="135.00" y2="1241.0" stroke="#262626" stroke-width="1.4"/>
<text x="107.91" y="1268.00" font-size="25.50" fill="#1a1a1a" textLength="54.17" lengthAdjust="spacingAndGlyphs">0.00</text>
<line x1="230.62" y1="1232.5" x2="230.62" y2="1241.0" stroke="#262626" stroke-width="1.4"/>
<text x="203.54" y="1268.00" font-size="25.50" fill="#1a1a1a" textLength="54.26" lengthAdjust="spacingAndGlyphs">0.25</text>
<line x1="326.25" y1="1232.5" x2="326.25" y2="1241.0" stroke="#262626" stroke-width="1.4"/>
<text x="299.16" y="1268.00" font-size="25.50" fill="#1a1a1a" textLength="54.17" lengthAdjust="spacingAndGlyphs">0.50</text>
<line x1="421.88" y1="1232.5" x2="421.88" y2="1241.0" stroke="#262626" stroke-width="1.4"/>
<text x="394.79" y="1268.00" font-size="25.50" fill="#1a1a1a" textLength="54.26" lengthAdjust="spacingAndGlyphs">0.75</text>
<line x1="517.50" y1="1232.5" x2="517.50" y2="1241.0" stroke="#262626" stroke-width="1.4"/>
<text x="489.34" y="1268.00" font-size="25.50" fill="#1a1a1a" textLength="55.27" lengthAdjust="spacingAndGlyphs">1.00</text>
<text x="250.66" y="1302.00" font-size="25.50" fill="#1a1a1a" textLength="171.64" lengthAdjust="spacingAndGlyphs">LER TROPOMI</text>
<text transform="translate(43.00,1074.40) rotate(-90)" x="-2.05" y="0" font-size="26.50" fill="#1a1a1a" textLength="154.11" lengthAdjust="spacingAndGlyphs">LSR GOME-2</text>
<text x="137.47" y="804.50" font-size="38.50" font-weight="bold" fill="#000" textLength="49.57" lengthAdjust="spacingAndGlyphs">(b)</text>
<text x="250.61" y="703.60" font-size="25.90" fill="#2a2a2a" textLength="231.05" lengthAdjust="spacingAndGlyphs">Intercomparison  of</text>
<text x="189.77" y="738.60" font-size="25.90" fill="#2a2a2a" textLength="360.91" lengthAdjust="spacingAndGlyphs">LER GOME-2 vs LER TROPOMI</text>
<text x="569.65" y="748.20" font-size="15.00" fill="#333" textLength="52.49" lengthAdjust="spacingAndGlyphs">COUNT</text>
<rect x="584.2" y="762.9" width="23.799999999999955" height="469.4" fill="url(#jetg)" stroke="#262626" stroke-width="1.6"/>
<line x1="608.0" y1="1173.10" x2="616.5" y2="1173.10" stroke="#262626" stroke-width="1.4"/>
<line x1="608.0" y1="1128.16" x2="612.5" y2="1128.16" stroke="#262626" stroke-width="1.4"/>
<line x1="608.0" y1="1101.87" x2="612.5" y2="1101.87" stroke="#262626" stroke-width="1.4"/>
<line x1="608.0" y1="1083.21" x2="612.5" y2="1083.21" stroke="#262626" stroke-width="1.4"/>
<line x1="608.0" y1="1068.74" x2="612.5" y2="1068.74" stroke="#262626" stroke-width="1.4"/>
<line x1="608.0" y1="1056.92" x2="612.5" y2="1056.92" stroke="#262626" stroke-width="1.4"/>
<line x1="608.0" y1="1046.93" x2="612.5" y2="1046.93" stroke="#262626" stroke-width="1.4"/>
<line x1="608.0" y1="1038.27" x2="612.5" y2="1038.27" stroke="#262626" stroke-width="1.4"/>
<line x1="608.0" y1="1030.63" x2="612.5" y2="1030.63" stroke="#262626" stroke-width="1.4"/>
<text x="625.78" y="1182.30" font-size="25.50" fill="#1a1a1a" textLength="29.56" lengthAdjust="spacingAndGlyphs">10</text>
<text x="655.62" y="1172.90" font-size="17.00" fill="#1a1a1a" textLength="12.25" lengthAdjust="spacingAndGlyphs">1</text>
<line x1="608.0" y1="1023.80" x2="616.5" y2="1023.80" stroke="#262626" stroke-width="1.4"/>
<line x1="608.0" y1="978.86" x2="612.5" y2="978.86" stroke="#262626" stroke-width="1.4"/>
<line x1="608.0" y1="952.57" x2="612.5" y2="952.57" stroke="#262626" stroke-width="1.4"/>
<line x1="608.0" y1="933.91" x2="612.5" y2="933.91" stroke="#262626" stroke-width="1.4"/>
<line x1="608.0" y1="919.44" x2="612.5" y2="919.44" stroke="#262626" stroke-width="1.4"/>
<line x1="608.0" y1="907.62" x2="612.5" y2="907.62" stroke="#262626" stroke-width="1.4"/>
<line x1="608.0" y1="897.63" x2="612.5" y2="897.63" stroke="#262626" stroke-width="1.4"/>
<line x1="608.0" y1="888.97" x2="612.5" y2="888.97" stroke="#262626" stroke-width="1.4"/>
<line x1="608.0" y1="881.33" x2="612.5" y2="881.33" stroke="#262626" stroke-width="1.4"/>
<text x="625.78" y="1033.00" font-size="25.50" fill="#1a1a1a" textLength="29.56" lengthAdjust="spacingAndGlyphs">10</text>
<text x="656.25" y="1023.60" font-size="17.00" fill="#1a1a1a" textLength="11.60" lengthAdjust="spacingAndGlyphs">2</text>
<line x1="608.0" y1="874.50" x2="616.5" y2="874.50" stroke="#262626" stroke-width="1.4"/>
<line x1="608.0" y1="829.56" x2="612.5" y2="829.56" stroke="#262626" stroke-width="1.4"/>
<line x1="608.0" y1="803.27" x2="612.5" y2="803.27" stroke="#262626" stroke-width="1.4"/>
<line x1="608.0" y1="784.61" x2="612.5" y2="784.61" stroke="#262626" stroke-width="1.4"/>
<line x1="608.0" y1="770.14" x2="612.5" y2="770.14" stroke="#262626" stroke-width="1.4"/>
<text x="625.78" y="883.70" font-size="25.50" fill="#1a1a1a" textLength="29.56" lengthAdjust="spacingAndGlyphs">10</text>
<text x="656.54" y="874.30" font-size="17.00" fill="#1a1a1a" textLength="11.14" lengthAdjust="spacingAndGlyphs">3</text>
<rect x="862.0" y="762.4" width="440.5999999999999" height="470.0000000000001" fill="none" stroke="#262626" stroke-width="2.0"/>
<line x1="853.5" y1="1185.30" x2="862.0" y2="1185.30" stroke="#262626" stroke-width="1.4"/>
<text x="773.92" y="1194.90" font-size="25.50" fill="#1a1a1a" textLength="69.16" lengthAdjust="spacingAndGlyphs">0.000</text>
<line x1="853.5" y1="1130.54" x2="862.0" y2="1130.54" stroke="#262626" stroke-width="1.4"/>
<text x="773.92" y="1140.14" font-size="25.50" fill="#1a1a1a" textLength="69.24" lengthAdjust="spacingAndGlyphs">0.025</text>
<line x1="853.5" y1="1075.78" x2="862.0" y2="1075.78" stroke="#262626" stroke-width="1.4"/>
<text x="773.92" y="1085.38" font-size="25.50" fill="#1a1a1a" textLength="69.16" lengthAdjust="spacingAndGlyphs">0.050</text>
<line x1="853.5" y1="1021.02" x2="862.0" y2="1021.02" stroke="#262626" stroke-width="1.4"/>
<text x="773.92" y="1030.62" font-size="25.50" fill="#1a1a1a" textLength="69.24" lengthAdjust="spacingAndGlyphs">0.075</text>
<line x1="853.5" y1="966.26" x2="862.0" y2="966.26" stroke="#262626" stroke-width="1.4"/>
<text x="773.92" y="975.86" font-size="25.50" fill="#1a1a1a" textLength="69.16" lengthAdjust="spacingAndGlyphs">0.100</text>
<line x1="853.5" y1="911.50" x2="862.0" y2="911.50" stroke="#262626" stroke-width="1.4"/>
<text x="773.92" y="921.10" font-size="25.50" fill="#1a1a1a" textLength="69.24" lengthAdjust="spacingAndGlyphs">0.125</text>
<line x1="853.5" y1="856.74" x2="862.0" y2="856.74" stroke="#262626" stroke-width="1.4"/>
<text x="773.92" y="866.34" font-size="25.50" fill="#1a1a1a" textLength="69.16" lengthAdjust="spacingAndGlyphs">0.150</text>
<line x1="853.5" y1="801.98" x2="862.0" y2="801.98" stroke="#262626" stroke-width="1.4"/>
<text x="773.92" y="811.58" font-size="25.50" fill="#1a1a1a" textLength="69.24" lengthAdjust="spacingAndGlyphs">0.175</text>
<line x1="960.92" y1="1232.4" x2="960.92" y2="1240.9" stroke="#262626" stroke-width="1.4"/>
<text x="934.36" y="1268.40" font-size="25.50" fill="#1a1a1a" textLength="53.22" lengthAdjust="spacingAndGlyphs">0.25</text>
<line x1="1061.35" y1="1232.4" x2="1061.35" y2="1240.9" stroke="#262626" stroke-width="1.4"/>
<text x="1034.78" y="1268.40" font-size="25.50" fill="#1a1a1a" textLength="53.13" lengthAdjust="spacingAndGlyphs">0.50</text>
<line x1="1161.78" y1="1232.4" x2="1161.78" y2="1240.9" stroke="#262626" stroke-width="1.4"/>
<text x="1135.21" y="1268.40" font-size="25.50" fill="#1a1a1a" textLength="53.22" lengthAdjust="spacingAndGlyphs">0.75</text>
<line x1="1262.20" y1="1232.4" x2="1262.20" y2="1240.9" stroke="#262626" stroke-width="1.4"/>
<text x="1234.58" y="1268.40" font-size="25.50" fill="#1a1a1a" textLength="54.21" lengthAdjust="spacingAndGlyphs">1.00</text>
<text x="997.95" y="1302.00" font-size="25.50" fill="#1a1a1a" textLength="171.85" lengthAdjust="spacingAndGlyphs">LER TROPOMI</text>
<text transform="translate(758.20,1100.80) rotate(-90)" x="-2.16" y="0" font-size="25.50" fill="#1a1a1a" textLength="209.09" lengthAdjust="spacingAndGlyphs">LSR Aeolus (sr-1)</text>
<text x="920.45" y="804.20" font-size="38.50" font-weight="bold" fill="#000" textLength="45.29" lengthAdjust="spacingAndGlyphs">(c)</text>
<text x="969.92" y="703.60" font-size="25.90" fill="#2a2a2a" textLength="230.24" lengthAdjust="spacingAndGlyphs">Intercomparison  of</text>
<text x="889.12" y="738.60" font-size="25.90" fill="#2a2a2a" textLength="170.20" lengthAdjust="spacingAndGlyphs">LSR Aeolus (sr</text>
<text x="1058.67" y="728.60" font-size="16.00" fill="#2a2a2a" textLength="16.53" lengthAdjust="spacingAndGlyphs">-1</text>
<text x="1075.16" y="738.60" font-size="25.90" fill="#2a2a2a" textLength="215.41" lengthAdjust="spacingAndGlyphs">) vs LER TROPOMI</text>
<text x="1314.86" y="748.70" font-size="15.00" fill="#333" textLength="51.88" lengthAdjust="spacingAndGlyphs">COUNT</text>
<rect x="1329.5" y="762.4" width="24.0" height="469.80000000000007" fill="url(#jetg)" stroke="#262626" stroke-width="1.6"/>
<line x1="1353.5" y1="1170.80" x2="1362.0" y2="1170.80" stroke="#262626" stroke-width="1.4"/>
<line x1="1353.5" y1="1125.04" x2="1358.0" y2="1125.04" stroke="#262626" stroke-width="1.4"/>
<line x1="1353.5" y1="1098.28" x2="1358.0" y2="1098.28" stroke="#262626" stroke-width="1.4"/>
<line x1="1353.5" y1="1079.29" x2="1358.0" y2="1079.29" stroke="#262626" stroke-width="1.4"/>
<line x1="1353.5" y1="1064.56" x2="1358.0" y2="1064.56" stroke="#262626" stroke-width="1.4"/>
<line x1="1353.5" y1="1052.52" x2="1358.0" y2="1052.52" stroke="#262626" stroke-width="1.4"/>
<line x1="1353.5" y1="1042.35" x2="1358.0" y2="1042.35" stroke="#262626" stroke-width="1.4"/>
<line x1="1353.5" y1="1033.53" x2="1358.0" y2="1033.53" stroke="#262626" stroke-width="1.4"/>
<line x1="1353.5" y1="1025.76" x2="1358.0" y2="1025.76" stroke="#262626" stroke-width="1.4"/>
<text x="1371.18" y="1180.00" font-size="25.50" fill="#1a1a1a" textLength="29.56" lengthAdjust="spacingAndGlyphs">10</text>
<text x="1401.02" y="1170.60" font-size="17.00" fill="#1a1a1a" textLength="12.25" lengthAdjust="spacingAndGlyphs">1</text>
<line x1="1353.5" y1="1018.80" x2="1362.0" y2="1018.80" stroke="#262626" stroke-width="1.4"/>
<line x1="1353.5" y1="973.04" x2="1358.0" y2="973.04" stroke="#262626" stroke-width="1.4"/>
<line x1="1353.5" y1="946.28" x2="1358.0" y2="946.28" stroke="#262626" stroke-width="1.4"/>
<line x1="1353.5" y1="927.29" x2="1358.0" y2="927.29" stroke="#262626" stroke-width="1.4"/>
<line x1="1353.5" y1="912.56" x2="1358.0" y2="912.56" stroke="#262626" stroke-width="1.4"/>
<line x1="1353.5" y1="900.52" x2="1358.0" y2="900.52" stroke="#262626" stroke-width="1.4"/>
<line x1="1353.5" y1="890.35" x2="1358.0" y2="890.35" stroke="#262626" stroke-width="1.4"/>
<line x1="1353.5" y1="881.53" x2="1358.0" y2="881.53" stroke="#262626" stroke-width="1.4"/>
<line x1="1353.5" y1="873.76" x2="1358.0" y2="873.76" stroke="#262626" stroke-width="1.4"/>
<text x="1371.18" y="1028.00" font-size="25.50" fill="#1a1a1a" textLength="29.56" lengthAdjust="spacingAndGlyphs">10</text>
<text x="1401.65" y="1018.60" font-size="17.00" fill="#1a1a1a" textLength="11.60" lengthAdjust="spacingAndGlyphs">2</text>
<line x1="1353.5" y1="866.80" x2="1362.0" y2="866.80" stroke="#262626" stroke-width="1.4"/>
<line x1="1353.5" y1="821.04" x2="1358.0" y2="821.04" stroke="#262626" stroke-width="1.4"/>
<line x1="1353.5" y1="794.28" x2="1358.0" y2="794.28" stroke="#262626" stroke-width="1.4"/>
<line x1="1353.5" y1="775.29" x2="1358.0" y2="775.29" stroke="#262626" stroke-width="1.4"/>
<text x="1371.18" y="876.00" font-size="25.50" fill="#1a1a1a" textLength="29.56" lengthAdjust="spacingAndGlyphs">10</text>
<text x="1401.94" y="866.60" font-size="17.00" fill="#1a1a1a" textLength="11.14" lengthAdjust="spacingAndGlyphs">3</text>
</svg></body></html>
